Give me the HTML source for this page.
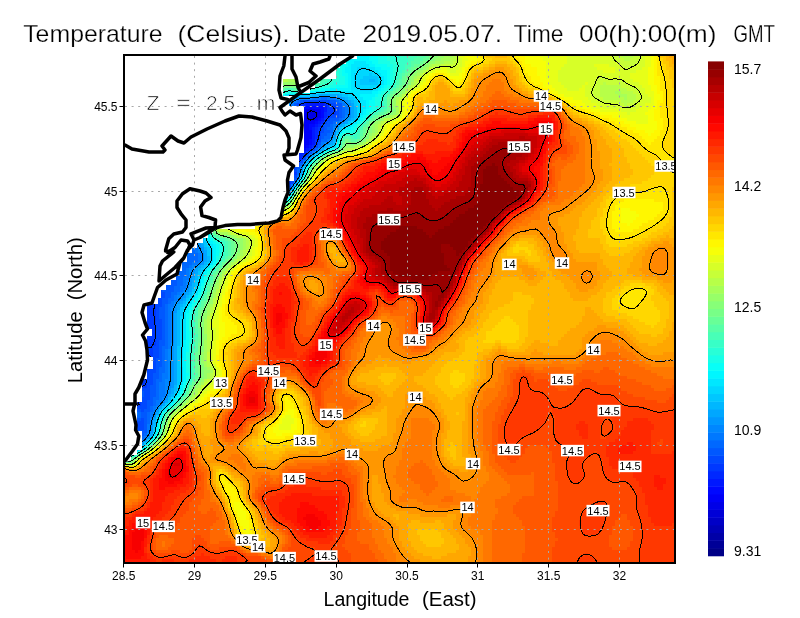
<!DOCTYPE html>
<html><head><meta charset="utf-8"><title>Temperature</title>
<style>
html,body{margin:0;padding:0;background:#fff}
svg{display:block;font-family:"Liberation Sans",sans-serif}
</style></head><body>
<svg width="800" height="618" viewBox="0 0 800 618">
<rect width="800" height="618" fill="#fff"/>
<defs><clipPath id="fr"><rect x="124" y="55" width="551" height="508"/></clipPath><clipPath id="sea"><path d="M357 55 L357 59 L346 59 L346 64 L340 64 L340 68 L336 68 L336 79 L320 79 L320 83 L315 83 L315 88 L310 88 L310 93 L298 93 L289 102 L289 106 L304 106 L304 153 L299 153 L299 167 L294 167 L294 181 L289 181 L289 197 L285 197 L285 206 L281 218 L276 222 L270 224 L262 225 L255 226 L255 229 L213 229 L213 233 L208 233 L208 238 L203 238 L203 243 L197 243 L197 248 L192 248 L192 253 L187 253 L187 262 L182 262 L182 271 L176 271 L176 280 L171 280 L171 285 L166 285 L166 290 L161 290 L161 298 L158 298 L158 304 L147 304 L147 329 L152 329 L152 336 L147 336 L147 357 L153 357 L153 369 L147 369 L147 379 L142 379 L142 402 L137 402 L137 431 L142 431 L142 450 L137 450 L137 455 L131 455 L131 460 L124 463 L124 564 L676 564 L676 55Z M283 79 L296 79 L296 84 L298 84 L298 96 L283 96Z"/></clipPath></defs>
<g clip-path="url(#sea)"><g shape-rendering="crispEdges"><g fill="none" stroke-width="3.3"><path stroke="#0000e7" d="M306 110.5h9M306 113.5h12M306 116.5h12M306 119.5h9"/><path stroke="#0000f7" d="M309 107.5h3M303 110.5h3M315 110.5h6M303 113.5h3M318 113.5h3M303 116.5h3M318 116.5h3M303 119.5h3M315 119.5h3M303 122.5h12M303 125.5h6M303 128.5h6M303 131.5h9M303 134.5h9M303 137.5h9M303 140.5h6M303 143.5h6M303 146.5h3"/><path stroke="#0008ff" d="M303 107.5h6M312 107.5h12M321 110.5h3M321 113.5h3M321 116.5h3M318 119.5h3M315 122.5h3M300 125.5h3M309 125.5h6M300 128.5h3M309 128.5h3M300 131.5h3M300 134.5h3M300 137.5h3M300 140.5h3M309 140.5h3M300 143.5h3M309 143.5h3M300 146.5h3M306 146.5h3M300 149.5h6"/><path stroke="#0018ff" d="M306 104.5h18M300 107.5h3M324 107.5h3M300 110.5h3M324 110.5h3M300 113.5h3M300 116.5h3M300 119.5h3M321 119.5h3M300 122.5h3M318 122.5h3M315 125.5h3M312 128.5h3M312 131.5h3M312 134.5h3M312 137.5h3M312 140.5h3M312 143.5h3M309 146.5h3M306 149.5h3M300 152.5h6"/><path stroke="#0028ff" d="M300 104.5h6M324 104.5h3M324 113.5h3M297 116.5h3M324 116.5h3M297 119.5h3M297 122.5h3M321 122.5h3M297 125.5h3M318 125.5h3M297 128.5h3M315 128.5h3M297 131.5h3M315 131.5h3M297 134.5h3M315 134.5h3M297 137.5h3M315 137.5h3M297 140.5h3M297 143.5h3M297 146.5h3M312 146.5h3M231 149.5h3M297 149.5h3M309 149.5h3M231 152.5h3M297 152.5h3M231 155.5h3M297 155.5h6M297 158.5h6"/><path stroke="#0038ff" d="M327 104.5h3M297 107.5h3M327 107.5h9M297 110.5h3M327 110.5h9M297 113.5h3M327 113.5h9M327 116.5h3M324 119.5h3M318 128.5h3M318 131.5h3M240 140.5h6M315 140.5h3M237 143.5h6M315 143.5h3M225 146.5h15M294 146.5h3M225 149.5h6M234 149.5h6M294 149.5h3M228 152.5h3M234 152.5h3M294 152.5h3M306 152.5h3M228 155.5h3M234 155.5h3M294 155.5h3M303 155.5h3M231 158.5h3M294 158.5h3M294 161.5h6M294 164.5h3M291 173.5h6M291 176.5h3M288 179.5h6M288 182.5h3M120 272.5h3M120 275.5h6M120 278.5h9M120 281.5h15M120 284.5h18M120 287.5h21M120 290.5h24M120 293.5h27M120 296.5h33M120 299.5h36M120 302.5h36M120 305.5h36M120 308.5h36M120 311.5h36M120 314.5h36M120 317.5h36M120 320.5h36M120 323.5h36M120 326.5h36M120 329.5h36M120 332.5h36M120 335.5h36M120 338.5h36M120 341.5h36M120 344.5h36M120 347.5h24M147 347.5h6M120 350.5h21M150 350.5h3M120 353.5h21M147 353.5h6M120 356.5h33M120 359.5h33M120 362.5h33M120 365.5h30M120 368.5h18M147 368.5h3M120 371.5h18M120 374.5h18M120 377.5h27M120 380.5h27M120 383.5h27M120 386.5h27M120 389.5h15M120 392.5h15M120 395.5h15M120 398.5h15M120 401.5h21M120 404.5h21M120 407.5h15M120 410.5h12M120 413.5h9M120 416.5h9M120 419.5h12M120 422.5h12M120 425.5h12M120 428.5h9M120 431.5h6"/><path stroke="#0048ff" d="M303 101.5h27M297 104.5h3M330 104.5h6M336 107.5h3M336 110.5h3M336 113.5h3M294 116.5h3M330 116.5h9M294 119.5h3M327 119.5h3M294 122.5h3M324 122.5h3M294 125.5h3M321 125.5h3M294 128.5h3M321 128.5h3M294 131.5h3M321 131.5h3M294 134.5h3M318 134.5h3M294 137.5h3M318 137.5h3M294 140.5h3M318 140.5h3M234 143.5h3M243 143.5h3M294 143.5h3M222 146.5h3M240 146.5h3M315 146.5h3M222 149.5h3M312 149.5h3M225 152.5h3M237 152.5h3M228 158.5h3M234 158.5h3M303 158.5h3M231 161.5h3M291 161.5h3M300 161.5h3M291 164.5h3M297 164.5h3M291 167.5h6M291 170.5h6M288 173.5h3M288 176.5h3M294 176.5h3M285 182.5h3M291 182.5h3M285 185.5h6M120 263.5h3M120 266.5h9M120 269.5h12M123 272.5h12M126 275.5h12M129 278.5h15M135 281.5h12M138 284.5h12M141 287.5h12M144 290.5h18M147 293.5h18M153 296.5h12M156 299.5h6M156 302.5h6M156 305.5h6M156 308.5h3M156 311.5h3M156 314.5h3M156 317.5h3M156 320.5h6M156 323.5h6M156 326.5h6M156 329.5h6M156 332.5h6M156 335.5h6M156 338.5h6M156 341.5h3M156 344.5h3M144 347.5h3M153 347.5h6M141 350.5h9M153 350.5h6M141 353.5h6M153 353.5h6M153 356.5h6M153 359.5h3M153 362.5h3M150 365.5h6M138 368.5h9M150 368.5h6M138 371.5h3M144 371.5h12M138 374.5h15M147 377.5h6M147 380.5h6M147 383.5h6M147 386.5h3M135 389.5h15M144 392.5h6M135 395.5h3M144 395.5h6M135 398.5h15M141 401.5h6M141 404.5h6M135 407.5h12M132 410.5h3M141 410.5h3M129 413.5h3M129 416.5h3M132 419.5h3M141 419.5h3M132 422.5h12M132 425.5h12M129 428.5h6M138 428.5h6M126 431.5h3M120 434.5h6"/><path stroke="#0058ff" d="M300 101.5h3M330 101.5h6M294 104.5h3M336 104.5h6M294 107.5h3M339 107.5h3M294 110.5h3M339 110.5h3M294 113.5h3M339 113.5h3M339 116.5h3M330 119.5h9M327 122.5h6M324 125.5h6M324 128.5h3M324 131.5h6M321 134.5h6M243 137.5h6M321 137.5h3M237 140.5h3M291 140.5h3M228 143.5h6M291 143.5h3M318 143.5h3M219 146.5h3M291 146.5h3M240 149.5h3M291 149.5h3M291 152.5h3M309 152.5h3M237 155.5h3M291 155.5h3M306 155.5h3M291 158.5h3M288 167.5h3M297 167.5h3M288 170.5h3M285 176.5h3M285 179.5h3M294 179.5h3M282 185.5h3M282 188.5h6M120 236.5h3M120 239.5h6M120 242.5h9M120 245.5h15M120 248.5h18M120 251.5h21M120 254.5h24M120 257.5h30M120 260.5h36M123 263.5h36M129 266.5h33M132 269.5h33M135 272.5h33M138 275.5h39M144 278.5h33M147 281.5h30M150 284.5h27M153 287.5h21M162 290.5h12M165 293.5h6M165 296.5h6M162 299.5h6M162 302.5h6M162 305.5h3M159 308.5h6M159 311.5h6M159 314.5h6M159 317.5h6M162 320.5h3M162 323.5h3M162 326.5h3M162 329.5h3M162 332.5h3M162 335.5h3M162 338.5h3M159 341.5h6M159 344.5h6M159 347.5h3M159 350.5h3M159 353.5h3M159 356.5h3M156 359.5h6M156 362.5h6M156 365.5h6M156 368.5h3M141 371.5h3M156 371.5h3M153 374.5h6M153 377.5h6M153 380.5h3M153 383.5h3M150 386.5h6M150 389.5h6M135 392.5h3M141 392.5h3M150 392.5h6M138 395.5h6M150 395.5h6M150 398.5h3M147 401.5h6M147 404.5h6M147 407.5h3M135 410.5h6M144 410.5h6M132 413.5h3M141 413.5h6M132 416.5h3M141 416.5h6M135 419.5h6M144 419.5h3M144 422.5h3M144 425.5h3M135 428.5h3M144 428.5h3M129 431.5h3M138 431.5h9M126 434.5h3M141 434.5h3M120 437.5h6"/><path stroke="#0068ff" d="M321 98.5h6M297 101.5h3M336 101.5h3M342 107.5h3M342 110.5h3M342 113.5h3M342 116.5h3M291 119.5h3M339 119.5h3M291 122.5h3M333 122.5h3M291 125.5h3M330 125.5h3M291 128.5h3M327 128.5h6M291 131.5h3M330 131.5h3M291 134.5h3M327 134.5h3M291 137.5h3M324 137.5h6M234 140.5h3M246 140.5h3M321 140.5h6M222 143.5h6M318 146.5h3M120 149.5h3M315 149.5h3M120 152.5h6M288 152.5h3M120 155.5h9M225 155.5h3M288 155.5h3M120 158.5h12M288 158.5h3M120 161.5h12M228 161.5h3M288 161.5h3M120 164.5h15M288 164.5h3M300 164.5h3M120 167.5h18M120 170.5h18M285 170.5h3M297 170.5h3M120 173.5h21M285 173.5h3M297 173.5h3M120 176.5h24M120 179.5h27M120 182.5h27M282 182.5h3M120 185.5h30M120 188.5h33M288 188.5h3M120 191.5h36M282 191.5h6M120 194.5h36M120 197.5h39M120 200.5h42M120 203.5h42M120 206.5h45M120 209.5h48M120 212.5h51M120 215.5h51M120 218.5h54M120 221.5h57M120 224.5h57M120 227.5h60M120 230.5h63M120 233.5h66M123 236.5h63M126 239.5h60M129 242.5h54M135 245.5h48M138 248.5h42M141 251.5h42M192 251.5h3M144 254.5h39M189 254.5h9M150 257.5h48M156 260.5h42M159 263.5h33M162 266.5h27M165 269.5h21M168 272.5h18M177 275.5h9M177 278.5h6M177 281.5h6M177 284.5h6M174 287.5h6M174 290.5h6M171 293.5h6M171 296.5h3M168 299.5h6M168 302.5h3M165 305.5h3M165 308.5h3M165 311.5h3M165 314.5h3M165 317.5h3M165 320.5h3M165 323.5h3M165 326.5h3M165 329.5h3M165 332.5h3M165 335.5h3M165 338.5h3M165 341.5h3M165 344.5h3M162 347.5h6M162 350.5h3M162 353.5h3M162 356.5h3M162 359.5h3M162 362.5h3M162 365.5h3M159 368.5h6M159 371.5h6M159 374.5h3M159 377.5h3M156 380.5h6M156 383.5h3M156 386.5h3M156 389.5h3M138 392.5h3M156 392.5h3M156 395.5h3M153 398.5h6M153 401.5h3M153 404.5h3M150 407.5h3M150 410.5h3M138 413.5h3M147 413.5h3M135 416.5h6M147 416.5h3M147 419.5h3M147 422.5h3M132 431.5h6M138 434.5h3M144 434.5h3M126 437.5h3M138 437.5h6"/><path stroke="#0078ff" d="M312 98.5h9M327 98.5h9M294 101.5h3M339 101.5h3M291 104.5h3M342 104.5h3M291 107.5h3M345 107.5h3M291 110.5h3M345 110.5h3M291 113.5h3M345 113.5h3M291 116.5h3M342 119.5h3M336 122.5h3M333 125.5h3M246 134.5h3M288 134.5h3M330 134.5h3M240 137.5h3M288 137.5h3M120 140.5h3M288 140.5h3M327 140.5h3M120 143.5h3M219 143.5h3M288 143.5h3M321 143.5h3M120 146.5h6M243 146.5h3M288 146.5h3M123 149.5h6M288 149.5h3M126 152.5h6M222 152.5h3M240 152.5h3M312 152.5h3M129 155.5h3M285 155.5h3M132 158.5h3M285 158.5h3M132 161.5h6M234 161.5h3M285 161.5h3M303 161.5h3M135 164.5h3M285 164.5h3M138 167.5h3M285 167.5h3M138 170.5h6M141 173.5h6M282 173.5h3M144 176.5h3M282 176.5h3M297 176.5h3M147 179.5h3M282 179.5h3M147 182.5h6M150 185.5h6M279 185.5h3M291 185.5h3M153 188.5h3M279 188.5h3M156 191.5h3M279 191.5h3M156 194.5h6M159 197.5h3M162 200.5h3M162 203.5h6M165 206.5h6M168 209.5h3M171 212.5h3M171 215.5h6M174 218.5h3M177 221.5h3M177 224.5h6M180 227.5h6M183 230.5h3M186 233.5h3M186 236.5h6M186 239.5h6M183 242.5h9M183 245.5h12M180 248.5h18M183 251.5h9M195 251.5h3M183 254.5h6M198 254.5h3M198 257.5h3M198 260.5h3M192 263.5h6M189 266.5h3M186 269.5h3M186 272.5h3M186 275.5h3M183 278.5h6M183 281.5h3M183 284.5h3M180 287.5h6M180 290.5h3M177 293.5h3M174 296.5h3M174 299.5h3M171 302.5h3M168 305.5h6M168 308.5h3M168 311.5h3M168 314.5h3M168 317.5h3M168 320.5h3M168 323.5h3M168 326.5h3M168 329.5h3M168 332.5h3M168 335.5h3M168 338.5h3M168 341.5h3M168 344.5h3M168 347.5h3M165 350.5h3M165 353.5h3M165 356.5h3M165 359.5h3M165 362.5h3M165 365.5h3M165 368.5h3M165 371.5h3M162 374.5h6M162 377.5h6M162 380.5h3M159 383.5h6M159 386.5h6M159 389.5h6M159 392.5h6M159 395.5h6M159 398.5h3M156 401.5h6M156 404.5h3M153 407.5h3M153 410.5h3M135 413.5h3M150 413.5h3M150 416.5h3M147 425.5h3M147 428.5h3M147 431.5h3M129 434.5h3M144 437.5h3M120 440.5h9M138 440.5h6"/><path stroke="#0087ff" d="M300 98.5h12M336 98.5h3M291 101.5h3M342 101.5h3M345 104.5h3M348 107.5h3M348 110.5h3M348 113.5h3M288 116.5h3M345 116.5h3M288 119.5h3M288 122.5h3M339 122.5h3M288 125.5h3M336 125.5h3M288 128.5h3M333 128.5h3M288 131.5h3M333 131.5h3M243 134.5h3M249 134.5h3M120 137.5h3M237 137.5h3M330 137.5h3M231 140.5h3M285 140.5h3M123 143.5h3M285 143.5h3M324 143.5h3M126 146.5h3M285 146.5h3M321 146.5h3M129 149.5h3M219 149.5h3M285 149.5h3M318 149.5h3M285 152.5h3M132 155.5h3M309 155.5h3M135 158.5h3M237 158.5h3M282 158.5h3M306 158.5h3M282 161.5h3M138 164.5h3M282 164.5h3M141 167.5h3M282 167.5h3M300 167.5h3M144 170.5h3M282 170.5h3M147 176.5h3M279 176.5h3M150 179.5h3M279 179.5h3M153 182.5h3M279 182.5h3M294 182.5h3M156 188.5h3M276 188.5h3M159 191.5h3M276 191.5h3M288 191.5h3M276 194.5h9M162 197.5h3M165 200.5h3M168 203.5h3M171 209.5h3M174 212.5h3M177 218.5h3M180 221.5h3M183 224.5h3M186 230.5h3M189 233.5h3M192 236.5h3M192 239.5h3M192 242.5h6M195 245.5h3M198 248.5h3M198 251.5h3M201 254.5h3M201 257.5h3M201 260.5h3M198 263.5h3M192 266.5h3M189 269.5h6M189 272.5h3M189 275.5h3M186 281.5h3M186 284.5h3M186 287.5h3M183 290.5h3M180 293.5h3M177 296.5h6M177 299.5h3M174 302.5h3M171 308.5h3M171 311.5h3M171 314.5h3M171 317.5h3M171 320.5h3M171 323.5h3M171 326.5h3M171 329.5h3M171 332.5h3M171 335.5h3M171 338.5h3M171 341.5h3M168 350.5h3M168 353.5h3M168 356.5h3M168 359.5h3M168 362.5h3M168 365.5h3M168 368.5h3M168 371.5h3M168 374.5h3M168 377.5h3M165 380.5h6M165 383.5h6M165 386.5h6M165 389.5h3M165 392.5h3M165 395.5h3M162 398.5h3M162 401.5h3M159 404.5h3M156 407.5h3M153 413.5h3M150 419.5h3M150 422.5h3M135 434.5h3M147 434.5h3M129 437.5h3M129 440.5h3M123 443.5h9M138 443.5h3"/><path stroke="#0097ff" d="M297 98.5h3M339 98.5h3M345 101.5h3M288 104.5h3M348 104.5h3M288 107.5h3M288 110.5h3M288 113.5h3M348 116.5h3M345 119.5h3M342 122.5h3M285 125.5h3M285 128.5h3M336 128.5h3M249 131.5h3M285 131.5h3M285 134.5h3M333 134.5h3M249 137.5h3M285 137.5h3M123 140.5h3M219 140.5h12M330 140.5h3M126 143.5h3M216 143.5h3M246 143.5h3M327 143.5h3M129 146.5h3M282 146.5h3M243 149.5h3M282 149.5h3M132 152.5h3M282 152.5h3M315 152.5h3M135 155.5h3M282 155.5h3M225 158.5h3M138 161.5h3M141 164.5h3M231 164.5h3M279 164.5h3M303 164.5h3M144 167.5h3M279 167.5h3M279 170.5h3M300 170.5h3M147 173.5h3M279 173.5h3M150 176.5h3M153 179.5h3M297 179.5h3M276 182.5h3M156 185.5h3M276 185.5h3M159 188.5h3M273 191.5h3M162 194.5h3M273 194.5h3M285 194.5h3M165 197.5h3M168 200.5h3M171 206.5h3M174 209.5h3M177 215.5h3M180 218.5h3M183 221.5h3M186 227.5h3M189 230.5h3M192 233.5h3M195 236.5h3M195 239.5h6M198 242.5h3M198 245.5h3M201 248.5h3M201 251.5h3M201 263.5h3M195 266.5h3M192 272.5h3M192 275.5h3M189 278.5h3M189 281.5h3M189 284.5h3M186 290.5h3M183 293.5h3M183 296.5h3M180 299.5h3M177 302.5h3M174 305.5h3M174 308.5h3M174 311.5h3M171 344.5h3M171 347.5h3M171 350.5h3M171 353.5h3M171 356.5h3M171 359.5h3M171 362.5h3M171 365.5h3M171 368.5h3M171 371.5h3M171 374.5h3M171 377.5h3M171 380.5h3M171 383.5h3M171 386.5h3M168 389.5h3M168 392.5h3M165 398.5h3M156 410.5h3M153 416.5h3M150 425.5h3M150 428.5h3M150 431.5h3M132 434.5h3M135 437.5h3M147 437.5h3M135 440.5h3M144 440.5h3M135 443.5h3M141 443.5h3M135 446.5h3"/><path stroke="#00a7ff" d="M318 95.5h21M291 98.5h6M342 98.5h3M288 101.5h3M348 101.5h3M351 104.5h3M351 107.5h3M285 110.5h3M351 110.5h3M285 113.5h3M351 113.5h3M285 116.5h3M351 116.5h3M285 119.5h3M348 119.5h3M285 122.5h3M345 122.5h3M339 125.5h3M246 131.5h3M282 131.5h3M120 134.5h3M240 134.5h3M282 134.5h3M123 137.5h3M234 137.5h3M282 137.5h3M333 137.5h3M282 140.5h3M282 143.5h3M330 143.5h3M324 146.5h3M132 149.5h3M279 149.5h3M321 149.5h3M279 152.5h3M240 155.5h3M279 155.5h3M312 155.5h3M138 158.5h3M279 158.5h3M279 161.5h3M306 161.5h3M234 164.5h3M276 167.5h3M147 170.5h3M276 170.5h3M276 173.5h3M300 173.5h3M276 176.5h3M276 179.5h3M156 182.5h3M273 185.5h3M273 188.5h3M291 188.5h3M162 191.5h3M273 197.5h9M171 203.5h3M177 212.5h3M186 224.5h3M195 233.5h6M198 236.5h3M201 245.5h3M204 251.5h3M204 254.5h3M204 257.5h3M204 260.5h3M198 266.5h3M195 269.5h3M195 272.5h3M192 278.5h3M192 281.5h3M189 287.5h3M189 290.5h3M186 293.5h3M183 299.5h3M180 302.5h3M177 305.5h3M177 308.5h3M174 314.5h3M174 317.5h3M174 320.5h3M174 323.5h3M174 326.5h3M174 329.5h3M174 332.5h3M174 335.5h3M174 338.5h3M174 341.5h3M174 344.5h3M174 347.5h3M174 350.5h3M174 353.5h3M174 356.5h3M174 359.5h3M174 362.5h3M174 365.5h3M174 368.5h3M174 371.5h3M174 374.5h3M174 377.5h3M174 380.5h3M174 383.5h3M171 389.5h3M171 392.5h3M168 395.5h3M165 401.5h3M162 404.5h3M159 407.5h3M156 413.5h3M153 419.5h3M150 434.5h3M132 437.5h3M132 440.5h3M120 443.5h3M132 443.5h3M126 446.5h9M138 446.5h3"/><path stroke="#00b7ff" d="M369 80.5h6M312 95.5h6M339 95.5h3M288 98.5h3M345 98.5h3M285 101.5h3M351 101.5h3M285 104.5h3M285 107.5h3M354 107.5h3M354 110.5h3M354 113.5h3M282 116.5h3M354 116.5h3M282 119.5h3M351 119.5h3M282 122.5h3M282 125.5h3M342 125.5h3M246 128.5h9M282 128.5h3M243 131.5h3M252 131.5h3M336 131.5h3M237 134.5h3M252 134.5h3M279 134.5h3M228 137.5h6M279 137.5h3M126 140.5h3M216 140.5h3M279 140.5h3M333 140.5h3M129 143.5h3M279 143.5h3M333 143.5h3M216 146.5h3M279 146.5h3M327 146.5h3M135 152.5h3M276 152.5h3M318 152.5h3M276 155.5h3M276 158.5h3M309 158.5h3M141 161.5h3M237 161.5h3M276 161.5h3M144 164.5h3M276 164.5h3M273 170.5h3M150 173.5h3M273 173.5h3M153 176.5h3M273 176.5h3M273 179.5h3M273 182.5h3M159 185.5h3M270 188.5h3M270 191.5h3M165 194.5h3M270 194.5h3M168 197.5h3M270 197.5h3M282 197.5h3M174 206.5h3M180 215.5h3M183 218.5h3M189 227.5h3M201 227.5h6M192 230.5h3M198 230.5h6M201 233.5h3M201 236.5h3M201 239.5h3M201 242.5h3M204 248.5h3M207 257.5h3M207 260.5h3M204 263.5h3M201 266.5h3M198 269.5h3M195 275.5h3M195 278.5h3M192 284.5h3M192 287.5h3M189 293.5h3M186 296.5h3M183 302.5h3M180 305.5h3M177 311.5h3M177 314.5h3M177 317.5h3M177 320.5h3M177 323.5h3M177 326.5h3M177 329.5h3M177 332.5h3M177 335.5h3M177 338.5h3M177 341.5h3M177 344.5h3M174 386.5h3M174 389.5h3M171 395.5h3M168 398.5h3M153 422.5h3M153 425.5h3M123 446.5h3"/><path stroke="#00c7ff" d="M369 74.5h3M363 77.5h15M360 80.5h9M375 80.5h3M360 83.5h18M300 95.5h12M342 95.5h6M285 98.5h3M348 98.5h6M144 101.5h120M354 101.5h3M153 104.5h108M282 104.5h3M354 104.5h3M159 107.5h102M282 107.5h3M168 110.5h90M282 110.5h3M174 113.5h84M282 113.5h3M180 116.5h75M186 119.5h69M279 119.5h3M354 119.5h3M192 122.5h63M279 122.5h3M348 122.5h3M198 125.5h57M279 125.5h3M204 128.5h42M279 128.5h3M339 128.5h3M210 131.5h33M279 131.5h3M123 134.5h3M213 134.5h24M336 134.5h3M126 137.5h3M216 137.5h12M249 140.5h3M276 140.5h3M276 143.5h3M132 146.5h3M246 146.5h3M276 146.5h3M330 146.5h3M135 149.5h3M276 149.5h3M324 149.5h3M243 152.5h3M138 155.5h3M222 155.5h3M141 158.5h3M273 158.5h3M273 161.5h3M273 164.5h3M147 167.5h3M273 167.5h3M303 167.5h3M150 170.5h3M270 176.5h3M300 176.5h3M156 179.5h3M270 179.5h3M159 182.5h3M270 182.5h3M270 185.5h3M294 185.5h3M162 188.5h3M165 191.5h3M267 191.5h3M267 194.5h3M288 194.5h3M267 197.5h3M285 197.5h3M171 200.5h3M267 200.5h12M174 203.5h3M177 209.5h3M180 212.5h3M186 221.5h3M189 224.5h3M201 224.5h9M198 227.5h3M195 230.5h3M204 230.5h3M204 233.5h3M204 242.5h3M204 245.5h3M207 248.5h3M207 251.5h3M207 254.5h3M207 263.5h3M204 266.5h3M201 269.5h3M198 272.5h3M198 275.5h3M195 281.5h3M195 284.5h3M192 290.5h3M189 296.5h3M186 299.5h3M183 305.5h3M180 308.5h3M180 311.5h3M180 314.5h3M177 347.5h3M177 350.5h3M177 353.5h3M177 356.5h3M177 359.5h3M177 362.5h3M177 365.5h3M177 368.5h3M177 371.5h3M177 374.5h3M177 377.5h3M177 380.5h3M177 383.5h3M174 392.5h3M168 401.5h3M165 404.5h3M162 407.5h3M159 410.5h3M156 416.5h3M153 428.5h3M153 431.5h3M150 437.5h3M147 440.5h3M144 443.5h3M120 446.5h3M141 446.5h3M123 449.5h15"/><path stroke="#00d7ff" d="M357 68.5h9M357 71.5h15M354 74.5h15M372 74.5h6M354 77.5h9M378 77.5h3M354 80.5h6M378 80.5h3M354 83.5h6M378 83.5h3M354 86.5h24M360 89.5h12M321 92.5h21M123 95.5h147M288 95.5h3M294 95.5h6M348 95.5h6M123 98.5h147M354 98.5h3M129 101.5h15M264 101.5h3M282 101.5h3M357 101.5h3M135 104.5h18M261 104.5h6M357 104.5h3M150 107.5h9M261 107.5h3M357 107.5h3M159 110.5h9M258 110.5h6M279 110.5h3M357 110.5h3M165 113.5h9M258 113.5h3M279 113.5h3M357 113.5h3M171 116.5h9M255 116.5h6M279 116.5h3M357 116.5h3M177 119.5h9M255 119.5h3M183 122.5h9M351 122.5h3M189 125.5h9M276 125.5h3M345 125.5h3M195 128.5h9M276 128.5h3M120 131.5h6M201 131.5h9M276 131.5h3M339 131.5h3M126 134.5h3M207 134.5h6M276 134.5h3M213 137.5h3M276 137.5h3M129 140.5h3M213 140.5h3M132 143.5h3M273 143.5h3M135 146.5h3M273 146.5h3M333 146.5h3M273 149.5h3M138 152.5h3M219 152.5h3M273 152.5h3M141 155.5h3M273 155.5h3M315 155.5h3M240 158.5h3M144 161.5h3M270 161.5h3M147 164.5h3M228 164.5h3M270 164.5h3M306 164.5h3M150 167.5h3M270 167.5h3M270 170.5h3M153 173.5h3M270 173.5h3M156 176.5h3M159 179.5h3M267 179.5h3M267 182.5h3M297 182.5h3M162 185.5h3M267 185.5h3M165 188.5h3M267 188.5h3M291 191.5h3M168 194.5h3M171 197.5h3M264 197.5h3M174 200.5h3M264 200.5h3M279 200.5h3M177 206.5h3M180 209.5h3M183 215.5h3M186 218.5h3M210 218.5h3M189 221.5h3M204 221.5h6M198 224.5h3M192 227.5h6M207 227.5h3M204 236.5h3M204 239.5h3M207 245.5h3M210 251.5h3M210 254.5h3M210 257.5h3M210 260.5h3M201 272.5h3M198 278.5h3M195 287.5h3M195 290.5h3M192 293.5h3M189 299.5h3M186 302.5h3M183 308.5h3M180 317.5h3M180 320.5h3M180 323.5h3M180 326.5h3M180 329.5h3M180 332.5h3M180 335.5h3M180 338.5h3M180 341.5h3M180 344.5h3M180 347.5h3M180 350.5h3M180 353.5h3M180 356.5h3M180 368.5h3M180 371.5h3M180 374.5h3M180 377.5h3M180 380.5h3M177 386.5h3M177 389.5h3M174 395.5h3M171 398.5h3M159 413.5h3M156 419.5h3M120 449.5h3M138 449.5h3M120 452.5h3"/><path stroke="#00e7ff" d="M354 62.5h12M351 65.5h18M351 68.5h6M366 68.5h9M351 71.5h6M372 71.5h6M351 74.5h3M378 74.5h3M351 77.5h3M381 77.5h3M351 80.5h3M381 80.5h3M351 83.5h3M381 83.5h3M351 86.5h3M378 86.5h3M351 89.5h9M372 89.5h6M315 92.5h6M342 92.5h30M120 95.5h3M270 95.5h3M285 95.5h3M291 95.5h3M354 95.5h6M120 98.5h3M282 98.5h3M357 98.5h6M120 101.5h9M267 101.5h3M360 101.5h6M120 104.5h15M279 104.5h3M360 104.5h6M120 107.5h18M147 107.5h3M264 107.5h3M279 107.5h3M360 107.5h6M120 110.5h15M153 110.5h6M360 110.5h3M120 113.5h15M162 113.5h3M261 113.5h3M276 113.5h3M360 113.5h3M120 116.5h15M168 116.5h3M276 116.5h3M120 119.5h18M174 119.5h3M258 119.5h3M276 119.5h3M357 119.5h3M120 122.5h18M180 122.5h3M255 122.5h3M276 122.5h3M354 122.5h3M120 125.5h21M186 125.5h3M255 125.5h3M273 125.5h3M348 125.5h3M120 128.5h21M192 128.5h3M255 128.5h3M273 128.5h3M342 128.5h3M126 131.5h18M198 131.5h3M273 131.5h3M129 134.5h15M204 134.5h3M273 134.5h3M129 137.5h18M210 137.5h3M252 137.5h3M273 137.5h3M336 137.5h3M132 140.5h15M273 140.5h3M336 140.5h3M135 143.5h15M138 146.5h15M270 146.5h3M138 149.5h15M270 149.5h3M327 149.5h3M141 152.5h15M270 152.5h3M321 152.5h3M144 155.5h12M243 155.5h3M270 155.5h3M144 158.5h15M270 158.5h3M312 158.5h3M147 161.5h12M225 161.5h3M309 161.5h3M150 164.5h12M237 164.5h3M267 164.5h3M153 167.5h12M267 167.5h3M153 170.5h12M267 170.5h3M303 170.5h3M156 173.5h12M267 173.5h3M159 176.5h9M267 176.5h3M162 179.5h9M162 182.5h9M264 182.5h3M165 185.5h9M264 185.5h3M168 188.5h9M264 188.5h3M168 191.5h9M264 191.5h3M171 194.5h9M264 194.5h3M174 197.5h9M177 200.5h6M282 200.5h3M177 203.5h9M264 203.5h12M180 206.5h6M183 209.5h6M183 212.5h6M213 212.5h3M186 215.5h6M210 215.5h6M189 218.5h3M207 218.5h3M192 221.5h12M210 221.5h3M192 224.5h6M207 230.5h3M207 242.5h3M210 245.5h3M210 248.5h3M210 263.5h3M207 266.5h3M204 269.5h3M201 275.5h3M198 281.5h3M198 284.5h3M195 293.5h3M192 296.5h3M189 302.5h3M186 305.5h3M183 311.5h3M183 314.5h3M183 317.5h3M183 320.5h3M183 323.5h3M183 326.5h3M183 329.5h3M183 332.5h3M183 335.5h3M183 338.5h3M180 359.5h3M180 362.5h3M180 365.5h3M180 383.5h3M177 392.5h3M171 401.5h3M168 404.5h3M165 407.5h3M162 410.5h3M156 422.5h3M153 434.5h3M123 452.5h6M120 455.5h6"/><path stroke="#00f7ff" d="M339 53.5h30M348 56.5h21M348 59.5h21M348 62.5h6M366 62.5h6M348 65.5h3M369 65.5h6M345 68.5h6M375 68.5h6M345 71.5h6M378 71.5h9M348 74.5h3M381 74.5h6M348 77.5h3M384 77.5h3M348 80.5h3M384 80.5h3M348 83.5h3M384 83.5h3M348 86.5h3M381 86.5h3M330 89.5h21M378 89.5h3M120 92.5h153M309 92.5h6M372 92.5h6M360 95.5h15M270 98.5h3M363 98.5h9M366 101.5h3M267 104.5h3M366 104.5h3M138 107.5h9M366 107.5h3M135 110.5h3M150 110.5h3M264 110.5h3M276 110.5h3M363 110.5h3M135 113.5h3M159 113.5h3M363 113.5h3M135 116.5h6M165 116.5h3M261 116.5h3M273 116.5h3M360 116.5h3M138 119.5h3M171 119.5h3M273 119.5h3M138 122.5h6M177 122.5h3M273 122.5h3M141 125.5h3M183 125.5h3M270 125.5h3M351 125.5h3M141 128.5h6M189 128.5h3M270 128.5h3M345 128.5h6M144 131.5h3M195 131.5h3M255 131.5h3M270 131.5h3M144 134.5h6M201 134.5h3M270 134.5h3M147 137.5h3M207 137.5h3M270 137.5h3M147 140.5h6M270 140.5h3M150 143.5h6M213 143.5h3M249 143.5h3M270 143.5h3M336 143.5h3M153 146.5h3M153 149.5h6M216 149.5h3M246 149.5h3M267 149.5h3M156 152.5h3M267 152.5h3M156 155.5h6M267 155.5h3M159 158.5h3M267 158.5h3M159 161.5h6M267 161.5h3M162 164.5h6M165 167.5h3M234 167.5h3M264 167.5h3M165 170.5h6M264 170.5h3M168 173.5h3M264 173.5h3M303 173.5h3M168 176.5h6M264 176.5h3M171 179.5h3M264 179.5h3M300 179.5h3M171 182.5h6M174 185.5h3M261 185.5h3M177 188.5h3M261 188.5h3M177 191.5h6M261 191.5h3M180 194.5h3M261 194.5h3M183 197.5h3M261 197.5h3M183 200.5h3M261 200.5h3M186 203.5h3M219 203.5h3M261 203.5h3M276 203.5h3M186 206.5h3M216 206.5h3M189 209.5h3M216 209.5h3M189 212.5h3M216 212.5h3M192 215.5h3M192 218.5h6M213 218.5h3M210 224.5h3M207 233.5h3M207 236.5h3M207 239.5h3M210 242.5h3M213 245.5h3M213 248.5h3M213 251.5h3M213 254.5h3M213 257.5h3M213 260.5h3M204 272.5h3M201 278.5h3M201 281.5h3M198 287.5h3M198 290.5h3M195 296.5h3M192 299.5h3M189 305.5h3M186 308.5h3M186 311.5h3M183 341.5h3M183 344.5h3M183 347.5h3M183 350.5h3M183 353.5h3M183 356.5h3M183 359.5h3M183 362.5h3M183 365.5h3M183 368.5h3M183 371.5h3M183 374.5h3M183 377.5h3M183 380.5h3M180 386.5h3M180 389.5h3M177 395.5h3M174 398.5h3M159 416.5h3M156 425.5h3M156 428.5h3M144 446.5h3M129 452.5h9"/><path stroke="#08fff7" d="M324 53.5h15M369 53.5h9M324 56.5h24M369 56.5h9M333 59.5h15M369 59.5h9M342 62.5h6M372 62.5h6M342 65.5h6M375 65.5h12M342 68.5h3M381 68.5h9M342 71.5h3M387 71.5h3M342 74.5h6M387 74.5h3M345 77.5h3M387 77.5h3M345 80.5h3M387 80.5h3M345 83.5h3M387 83.5h3M336 86.5h12M384 86.5h3M321 89.5h9M381 89.5h3M303 92.5h6M378 92.5h3M273 95.5h3M282 95.5h3M375 95.5h3M372 98.5h3M270 101.5h3M279 101.5h3M369 101.5h6M369 104.5h6M276 107.5h3M369 107.5h3M138 110.5h3M366 110.5h6M138 113.5h3M273 113.5h3M366 113.5h3M363 116.5h3M141 119.5h3M261 119.5h3M270 119.5h3M360 119.5h3M258 122.5h3M270 122.5h3M357 122.5h3M144 125.5h3M354 125.5h3M267 128.5h3M351 128.5h3M147 131.5h3M267 131.5h3M342 131.5h3M255 134.5h3M267 134.5h3M339 134.5h3M150 137.5h3M267 137.5h3M252 140.5h3M267 140.5h3M267 143.5h3M156 146.5h3M267 146.5h3M336 146.5h3M330 149.5h3M159 152.5h3M246 152.5h3M264 155.5h3M318 155.5h3M162 158.5h3M243 158.5h3M264 158.5h3M240 161.5h3M264 161.5h3M264 164.5h3M168 167.5h3M237 167.5h3M306 167.5h3M171 173.5h3M261 173.5h3M261 176.5h3M174 179.5h3M261 179.5h3M261 182.5h3M177 185.5h3M294 188.5h3M258 191.5h3M183 194.5h3M258 194.5h3M222 197.5h3M258 197.5h3M288 197.5h3M186 200.5h3M219 200.5h6M258 200.5h3M285 200.5h3M216 203.5h3M258 203.5h3M279 203.5h3M189 206.5h3M219 206.5h3M261 206.5h12M213 209.5h3M192 212.5h3M210 212.5h3M198 218.5h3M204 218.5h3M210 239.5h3M213 242.5h3M216 245.5h3M216 248.5h3M216 251.5h3M216 254.5h3M213 263.5h3M210 266.5h3M207 269.5h3M204 275.5h3M201 284.5h3M198 293.5h3M195 299.5h3M192 302.5h3M189 308.5h3M186 314.5h3M186 317.5h3M186 320.5h3M186 323.5h3M186 326.5h3M186 329.5h3M186 332.5h3M186 335.5h3M186 338.5h3M186 341.5h3M186 344.5h3M186 347.5h3M186 350.5h3M186 374.5h3M183 383.5h3M180 392.5h3M171 404.5h3M159 419.5h3M156 431.5h3M153 437.5h3M150 440.5h3M147 443.5h3M141 449.5h3M126 455.5h3M120 458.5h6"/><path stroke="#18ffe7" d="M318 53.5h6M378 53.5h9M321 56.5h3M378 56.5h9M321 59.5h12M378 59.5h9M324 62.5h18M378 62.5h12M336 65.5h6M387 65.5h6M339 68.5h3M390 68.5h3M339 71.5h3M390 71.5h3M339 74.5h3M390 74.5h3M339 77.5h6M390 77.5h3M339 80.5h6M390 80.5h3M333 83.5h12M390 83.5h3M330 86.5h6M387 86.5h3M315 89.5h6M384 89.5h3M273 92.5h3M285 92.5h18M381 92.5h3M378 95.5h3M273 98.5h3M279 98.5h3M375 98.5h6M375 101.5h6M276 104.5h3M375 104.5h6M267 107.5h3M372 107.5h6M141 110.5h3M147 110.5h3M273 110.5h3M372 110.5h3M156 113.5h3M264 113.5h3M141 116.5h3M270 116.5h3M363 119.5h3M144 122.5h3M267 122.5h3M360 122.5h3M258 125.5h3M267 125.5h3M147 128.5h3M264 128.5h3M354 128.5h3M264 131.5h3M345 131.5h9M150 134.5h3M261 134.5h6M255 137.5h3M261 137.5h6M339 137.5h3M153 140.5h3M210 140.5h3M261 140.5h6M156 143.5h3M261 143.5h6M249 146.5h3M264 146.5h3M159 149.5h3M264 149.5h3M333 149.5h3M264 152.5h3M324 152.5h3M162 155.5h3M246 155.5h3M261 158.5h3M315 158.5h3M165 161.5h3M243 161.5h3M261 161.5h3M168 164.5h3M240 164.5h3M261 164.5h3M309 164.5h3M231 167.5h3M240 167.5h3M261 167.5h3M171 170.5h3M261 170.5h3M174 176.5h3M258 176.5h3M303 176.5h3M258 179.5h3M177 182.5h3M231 182.5h3M258 182.5h3M228 185.5h6M258 185.5h3M180 188.5h3M228 188.5h3M258 188.5h3M183 191.5h3M225 191.5h6M222 194.5h6M255 194.5h3M291 194.5h3M186 197.5h3M219 197.5h3M225 197.5h3M255 197.5h3M255 200.5h3M189 203.5h3M222 203.5h3M255 203.5h3M258 206.5h3M273 206.5h3M192 209.5h3M219 209.5h3M195 215.5h3M207 215.5h3M216 215.5h3M201 218.5h3M213 221.5h3M210 227.5h3M216 242.5h3M219 245.5h3M219 248.5h3M219 251.5h3M216 257.5h3M216 260.5h3M207 272.5h3M204 278.5h3M204 281.5h3M201 287.5h3M201 290.5h3M198 296.5h3M195 302.5h3M192 305.5h3M189 311.5h3M189 314.5h3M189 317.5h3M189 332.5h3M189 335.5h3M189 338.5h3M189 341.5h3M186 353.5h3M186 356.5h3M186 359.5h3M186 362.5h3M186 365.5h3M186 368.5h3M186 371.5h3M186 377.5h3M186 380.5h3M183 386.5h3M177 398.5h3M174 401.5h3M168 407.5h3M165 410.5h3M162 413.5h3M159 422.5h3M156 434.5h3"/><path stroke="#28ffd7" d="M315 53.5h3M387 53.5h15M318 56.5h3M387 56.5h12M318 59.5h3M387 59.5h9M321 62.5h3M390 62.5h6M327 65.5h9M393 65.5h6M333 68.5h6M393 68.5h6M333 71.5h6M393 71.5h3M333 74.5h6M393 74.5h3M333 77.5h6M393 77.5h3M333 80.5h6M393 80.5h3M330 83.5h3M321 86.5h9M390 86.5h3M120 89.5h150M309 89.5h6M387 89.5h3M282 92.5h3M384 92.5h3M276 95.5h6M381 95.5h3M276 98.5h3M273 101.5h6M270 104.5h3M381 104.5h3M273 107.5h3M378 107.5h3M144 110.5h3M267 110.5h3M375 110.5h3M141 113.5h3M270 113.5h3M369 113.5h3M162 116.5h3M264 116.5h3M366 116.5h3M168 119.5h3M264 119.5h6M174 122.5h3M261 122.5h6M180 125.5h3M264 125.5h3M357 125.5h3M186 128.5h3M258 128.5h3M192 131.5h3M258 131.5h6M354 131.5h3M198 134.5h3M258 134.5h3M342 134.5h3M351 134.5h3M204 137.5h3M258 137.5h3M255 140.5h6M339 140.5h3M252 143.5h9M252 146.5h12M249 149.5h15M249 152.5h15M249 155.5h6M261 155.5h3M222 158.5h3M246 158.5h6M246 161.5h3M258 161.5h3M312 161.5h3M243 164.5h3M258 164.5h3M243 167.5h3M258 167.5h3M234 170.5h9M258 170.5h3M306 170.5h3M237 173.5h6M258 173.5h3M234 176.5h6M231 179.5h6M255 179.5h3M228 182.5h3M234 182.5h3M255 182.5h3M255 185.5h3M297 185.5h3M225 188.5h3M231 188.5h3M255 188.5h3M255 191.5h3M228 194.5h3M252 197.5h3M225 200.5h3M252 200.5h3M252 203.5h3M282 203.5h3M213 206.5h3M222 206.5h3M255 206.5h3M276 206.5h3M255 209.5h15M219 212.5h3M210 230.5h3M210 236.5h3M213 239.5h3M219 242.5h3M222 248.5h3M219 254.5h3M219 257.5h3M216 263.5h3M213 266.5h3M210 269.5h3M207 275.5h3M207 278.5h3M204 284.5h3M201 293.5h3M198 299.5h3M195 305.5h3M192 308.5h3M192 311.5h3M189 320.5h3M189 323.5h3M189 326.5h3M189 329.5h3M189 344.5h3M189 347.5h3M189 350.5h3M189 353.5h3M189 356.5h3M189 359.5h3M189 365.5h3M189 368.5h3M189 371.5h3M189 374.5h3M189 377.5h3M186 383.5h3M183 389.5h3M180 395.5h3M162 416.5h3M159 425.5h3M129 455.5h6M126 458.5h3"/><path stroke="#38ffc7" d="M402 53.5h6M315 56.5h3M399 56.5h9M315 59.5h3M396 59.5h12M318 62.5h3M396 62.5h12M321 65.5h6M399 65.5h6M327 68.5h6M399 68.5h6M327 71.5h6M396 71.5h6M327 74.5h6M396 74.5h3M327 77.5h6M396 77.5h3M327 80.5h6M324 83.5h6M393 83.5h3M315 86.5h6M393 86.5h3M270 89.5h6M303 89.5h6M390 89.5h3M276 92.5h3M387 92.5h3M384 95.5h3M381 98.5h3M381 101.5h3M273 104.5h3M270 107.5h3M381 107.5h3M270 110.5h3M378 110.5h3M153 113.5h3M267 113.5h3M372 113.5h3M267 116.5h3M369 116.5h3M144 119.5h3M366 119.5h3M363 122.5h3M147 125.5h3M261 125.5h3M360 125.5h3M261 128.5h3M357 128.5h3M150 131.5h3M357 131.5h3M345 134.5h6M354 134.5h3M153 137.5h3M354 137.5h3M339 143.5h3M159 146.5h3M213 146.5h3M336 149.5h3M162 152.5h3M327 152.5h3M255 155.5h6M321 155.5h3M165 158.5h3M252 158.5h9M249 161.5h3M255 161.5h3M246 164.5h3M255 164.5h3M171 167.5h3M246 167.5h3M255 167.5h3M243 170.5h3M255 170.5h3M174 173.5h3M234 173.5h3M255 173.5h3M240 176.5h3M255 176.5h3M177 179.5h3M237 179.5h3M252 182.5h3M300 182.5h3M180 185.5h3M234 185.5h3M252 185.5h3M252 188.5h3M222 191.5h3M231 191.5h3M252 191.5h3M186 194.5h3M252 194.5h3M228 197.5h3M189 200.5h3M216 200.5h3M288 200.5h3M249 203.5h3M192 206.5h3M252 206.5h3M210 209.5h3M252 209.5h3M270 209.5h3M195 212.5h3M216 218.5h3M213 224.5h3M210 233.5h3M216 239.5h3M222 242.5h3M222 245.5h3M222 251.5h3M222 254.5h3M222 257.5h3M219 260.5h3M213 269.5h3M210 272.5h3M207 281.5h3M204 287.5h3M204 290.5h3M201 296.5h3M198 302.5h3M195 308.5h3M192 314.5h3M192 317.5h3M192 320.5h3M192 323.5h3M192 326.5h3M192 329.5h3M192 332.5h3M192 335.5h3M192 338.5h3M192 341.5h3M192 344.5h3M192 347.5h3M189 362.5h3M189 380.5h3M186 386.5h3M183 392.5h3M177 401.5h3M174 404.5h3M171 407.5h3M159 428.5h3M153 440.5h3M150 443.5h3M138 452.5h3"/><path stroke="#48ffb7" d="M312 53.5h3M408 53.5h12M312 56.5h3M408 56.5h9M408 59.5h6M315 62.5h3M408 62.5h3M315 65.5h6M405 65.5h6M321 68.5h6M405 68.5h3M324 71.5h3M402 71.5h3M324 74.5h3M399 74.5h3M324 77.5h3M399 77.5h3M321 80.5h6M396 80.5h3M318 83.5h6M396 83.5h3M312 86.5h3M276 89.5h3M285 89.5h9M297 89.5h6M279 92.5h3M384 98.5h3M384 101.5h3M384 104.5h3M384 107.5h3M381 110.5h3M144 113.5h3M150 113.5h3M375 113.5h3M144 116.5h3M159 116.5h3M165 119.5h3M171 122.5h3M177 125.5h3M183 128.5h3M360 128.5h3M189 131.5h3M195 134.5h3M357 134.5h3M201 137.5h3M342 137.5h3M351 137.5h3M357 137.5h3M207 140.5h3M339 146.5h3M219 155.5h3M318 158.5h3M252 161.5h3M225 164.5h3M249 164.5h6M249 167.5h6M309 167.5h3M246 170.5h3M252 170.5h3M243 173.5h3M252 173.5h3M306 173.5h3M231 176.5h3M252 176.5h3M228 179.5h3M240 179.5h3M252 179.5h3M303 179.5h3M237 182.5h3M225 185.5h3M234 188.5h3M249 188.5h3M249 191.5h3M294 191.5h3M219 194.5h3M249 194.5h3M249 197.5h3M249 200.5h3M225 203.5h3M285 203.5h3M249 206.5h3M279 206.5h3M222 209.5h3M249 209.5h3M207 212.5h3M249 212.5h15M198 215.5h3M219 215.5h3M213 236.5h3M219 239.5h6M225 242.5h3M225 245.5h3M225 248.5h3M225 251.5h3M225 254.5h3M222 260.5h3M219 263.5h3M216 266.5h3M210 275.5h3M210 278.5h3M207 284.5h3M204 293.5h3M201 299.5h3M198 305.5h3M195 311.5h3M195 314.5h3M195 335.5h3M192 350.5h3M192 353.5h3M192 356.5h3M192 359.5h3M192 362.5h3M192 365.5h3M192 368.5h3M192 371.5h3M192 374.5h3M192 377.5h3M189 383.5h3M186 389.5h3M183 395.5h3M180 398.5h3M168 410.5h3M165 413.5h3M162 419.5h3M159 431.5h3M156 437.5h3M147 446.5h3M144 449.5h3M135 455.5h3M129 458.5h3"/><path stroke="#58ffa7" d="M420 53.5h9M417 56.5h9M312 59.5h3M414 59.5h9M312 62.5h3M411 62.5h9M312 65.5h3M411 65.5h3M312 68.5h9M408 68.5h3M318 71.5h6M405 71.5h3M318 74.5h6M402 74.5h3M318 77.5h6M318 80.5h3M399 80.5h3M312 83.5h6M399 83.5h3M306 86.5h6M396 86.5h3M279 89.5h6M294 89.5h3M393 89.5h3M390 92.5h3M387 95.5h3M384 110.5h3M147 113.5h3M378 113.5h6M372 116.5h3M369 119.5h3M147 122.5h3M366 122.5h3M363 125.5h3M360 131.5h3M360 134.5h3M345 137.5h6M156 140.5h3M342 140.5h3M351 140.5h6M216 152.5h3M330 152.5h3M324 155.5h3M168 161.5h3M315 161.5h3M312 164.5h3M249 170.5h3M246 173.5h6M243 176.5h3M249 176.5h3M249 179.5h3M249 182.5h3M237 185.5h3M249 185.5h3M183 188.5h3M246 191.5h3M231 194.5h3M246 194.5h3M246 197.5h3M291 197.5h3M228 200.5h3M246 200.5h3M213 203.5h3M246 203.5h3M225 206.5h3M246 206.5h3M246 209.5h3M273 209.5h3M246 212.5h3M264 212.5h3M204 215.5h3M216 221.5h3M213 227.5h3M216 236.5h3M225 239.5h3M228 242.5h3M228 245.5h3M228 248.5h3M228 251.5h3M228 254.5h3M225 257.5h3M219 266.5h3M216 269.5h3M213 272.5h3M210 281.5h3M207 287.5h3M207 290.5h3M204 296.5h3M204 299.5h3M201 302.5h3M201 305.5h3M198 308.5h3M195 317.5h3M195 320.5h3M195 323.5h3M195 326.5h3M195 329.5h3M195 332.5h3M195 338.5h3M195 341.5h3M195 344.5h3M195 347.5h3M195 350.5h3M195 374.5h3M192 380.5h3M186 392.5h3M162 422.5h3M159 434.5h3M126 461.5h3"/><path stroke="#68ff97" d="M309 53.5h3M426 56.5h3M423 59.5h6M420 62.5h3M414 65.5h6M411 68.5h3M312 71.5h6M408 71.5h3M315 74.5h3M405 74.5h3M315 77.5h3M402 77.5h3M312 80.5h6M402 80.5h3M309 83.5h3M402 83.5h3M120 86.5h156M300 86.5h6M399 86.5h3M396 89.5h3M393 92.5h3M390 95.5h3M387 98.5h3M387 101.5h3M387 104.5h3M387 107.5h3M387 110.5h3M384 113.5h3M375 116.5h3M372 119.5h3M366 125.5h3M150 128.5h3M363 128.5h3M363 131.5h3M153 134.5h3M360 137.5h3M348 140.5h3M357 140.5h3M159 143.5h3M210 143.5h3M342 143.5h3M162 149.5h3M339 149.5h3M333 152.5h3M165 155.5h3M171 164.5h3M228 167.5h3M174 170.5h3M231 170.5h3M309 170.5h3M231 173.5h3M177 176.5h3M246 176.5h3M306 176.5h3M243 179.5h6M180 182.5h3M225 182.5h3M240 182.5h9M246 185.5h3M222 188.5h3M237 188.5h3M246 188.5h3M297 188.5h3M186 191.5h3M234 191.5h3M243 194.5h3M189 197.5h3M216 197.5h3M231 197.5h3M243 197.5h3M243 200.5h3M192 203.5h3M243 203.5h3M243 206.5h3M282 206.5h3M195 209.5h3M243 209.5h3M276 209.5h3M222 212.5h3M243 212.5h3M267 212.5h3M201 215.5h3M246 215.5h15M213 233.5h3M219 236.5h3M228 239.5h3M231 242.5h3M231 245.5h3M231 248.5h3M231 251.5h3M231 254.5h3M228 257.5h3M225 260.5h3M222 263.5h3M216 272.5h3M213 275.5h3M213 278.5h3M210 284.5h3M207 293.5h3M204 302.5h3M201 308.5h3M198 311.5h3M198 314.5h3M198 317.5h3M198 329.5h3M198 332.5h3M198 335.5h3M198 338.5h3M198 341.5h3M195 353.5h3M195 356.5h3M195 359.5h3M195 362.5h3M195 365.5h3M195 368.5h3M195 371.5h3M195 377.5h3M195 380.5h3M192 383.5h3M189 386.5h3M189 389.5h3M186 395.5h3M183 398.5h3M180 401.5h3M177 404.5h3M174 407.5h3M171 410.5h3M165 416.5h3M162 425.5h3M141 452.5h3M132 458.5h3M120 461.5h6"/><path stroke="#78ff87" d="M429 53.5h6M309 56.5h3M429 56.5h3M309 59.5h3M429 59.5h3M309 62.5h3M423 62.5h3M309 65.5h3M420 65.5h3M309 68.5h3M414 68.5h6M309 71.5h3M411 71.5h3M309 74.5h6M408 74.5h3M309 77.5h6M405 77.5h3M309 80.5h3M405 80.5h3M303 83.5h6M405 83.5h3M276 86.5h24M402 86.5h3M399 89.5h3M396 92.5h3M390 98.5h3M390 107.5h3M390 110.5h3M387 113.5h3M156 116.5h3M378 116.5h3M375 119.5h3M369 122.5h3M366 128.5h3M363 134.5h3M363 137.5h3M204 140.5h3M345 140.5h3M360 140.5h3M351 143.5h6M342 146.5h3M321 158.5h3M222 161.5h3M228 176.5h3M240 185.5h6M300 185.5h3M240 188.5h6M237 191.5h9M234 194.5h3M294 194.5h3M240 197.5h3M240 200.5h3M228 203.5h3M240 203.5h3M288 203.5h3M210 206.5h3M240 206.5h3M225 209.5h3M240 209.5h3M240 212.5h3M270 212.5h3M240 215.5h6M261 215.5h3M219 218.5h3M216 224.5h3M213 230.5h3M222 236.5h6M231 239.5h3M234 242.5h3M234 245.5h3M234 248.5h3M234 251.5h3M231 257.5h3M228 260.5h3M225 263.5h3M222 266.5h3M219 269.5h3M216 275.5h3M213 281.5h3M210 287.5h3M210 290.5h3M207 296.5h3M207 299.5h3M204 305.5h3M201 311.5h3M198 320.5h3M198 323.5h3M198 326.5h3M198 344.5h3M198 347.5h3M198 350.5h3M198 353.5h3M198 356.5h3M198 359.5h3M198 362.5h3M198 365.5h3M198 368.5h3M198 371.5h3M198 374.5h3M198 377.5h3M192 386.5h3M189 392.5h3M168 413.5h3M165 419.5h3M162 428.5h3M156 440.5h3M153 443.5h3M129 461.5h3"/><path stroke="#87ff78" d="M435 53.5h6M432 56.5h6M432 59.5h3M426 62.5h3M423 65.5h3M420 68.5h3M414 71.5h3M306 74.5h3M411 74.5h3M306 77.5h3M408 77.5h3M303 80.5h6M408 80.5h3M297 83.5h6M408 83.5h3M405 86.5h3M402 89.5h3M399 92.5h3M393 95.5h6M390 101.5h3M390 104.5h3M393 110.5h3M390 113.5h3M147 116.5h3M381 116.5h6M147 119.5h3M162 119.5h3M378 119.5h3M168 122.5h3M372 122.5h3M150 125.5h3M174 125.5h3M369 125.5h3M180 128.5h3M369 128.5h3M153 131.5h3M186 131.5h3M366 131.5h6M192 134.5h3M366 134.5h3M156 137.5h3M198 137.5h3M366 137.5h3M363 140.5h3M345 143.5h6M357 143.5h3M162 146.5h3M213 149.5h3M165 152.5h3M336 152.5h3M327 155.5h3M168 158.5h3M318 161.5h3M315 164.5h3M174 167.5h3M312 167.5h3M177 173.5h3M309 173.5h3M180 179.5h3M306 179.5h3M303 182.5h3M183 185.5h3M222 185.5h3M219 191.5h3M189 194.5h3M237 194.5h6M234 197.5h6M192 200.5h3M213 200.5h3M231 200.5h3M237 200.5h3M291 200.5h3M237 203.5h3M195 206.5h3M228 206.5h3M237 206.5h3M237 209.5h3M279 209.5h3M198 212.5h3M237 212.5h3M222 215.5h3M237 215.5h3M264 215.5h3M240 218.5h15M216 233.5h3M228 236.5h3M234 239.5h3M237 242.5h3M237 245.5h3M237 248.5h3M237 251.5h3M234 254.5h3M234 257.5h3M231 260.5h3M219 272.5h3M216 278.5h3M213 284.5h3M210 293.5h3M210 296.5h3M207 302.5h3M204 308.5h3M204 311.5h3M201 314.5h3M201 317.5h3M201 320.5h3M201 323.5h3M201 326.5h3M201 329.5h3M201 332.5h3M201 335.5h3M201 338.5h3M201 341.5h3M201 344.5h3M201 347.5h3M201 350.5h3M201 365.5h3M201 368.5h3M201 371.5h3M201 374.5h3M201 377.5h3M198 380.5h3M195 383.5h3M192 389.5h3M189 395.5h3M186 398.5h3M183 401.5h3M180 404.5h3M177 407.5h3M168 416.5h3M165 422.5h3M162 431.5h3M159 437.5h3M150 446.5h3M147 449.5h3M138 455.5h3"/><path stroke="#97ff68" d="M306 53.5h3M441 53.5h6M306 56.5h3M438 56.5h6M306 59.5h3M435 59.5h6M306 62.5h3M429 62.5h6M306 65.5h3M426 65.5h3M306 68.5h3M423 68.5h3M306 71.5h3M417 71.5h3M414 74.5h3M303 77.5h3M411 77.5h3M297 80.5h6M411 80.5h3M120 83.5h159M282 83.5h15M402 92.5h3M399 95.5h3M393 98.5h3M393 101.5h3M393 104.5h3M393 107.5h3M393 113.5h3M153 116.5h3M387 116.5h3M381 119.5h3M375 122.5h3M372 125.5h3M372 128.5h3M372 131.5h3M369 134.5h3M159 140.5h3M360 143.5h3M345 146.5h9M342 149.5h3M171 161.5h3M225 179.5h3M186 188.5h3M216 194.5h3M234 200.5h3M231 203.5h6M234 206.5h3M285 206.5h3M207 209.5h3M234 209.5h3M225 212.5h3M234 212.5h3M273 212.5h3M234 215.5h3M267 215.5h3M234 218.5h6M255 218.5h6M219 221.5h3M216 227.5h3M231 236.5h3M237 239.5h6M240 242.5h3M240 245.5h3M240 248.5h3M237 254.5h3M228 263.5h3M225 266.5h3M222 269.5h3M219 275.5h3M216 281.5h3M213 287.5h3M213 290.5h3M210 299.5h3M210 302.5h3M207 305.5h3M207 308.5h3M204 314.5h3M204 317.5h3M204 335.5h3M204 338.5h3M201 353.5h3M201 356.5h3M201 359.5h3M201 362.5h3M204 368.5h3M204 371.5h6M204 374.5h3M204 377.5h3M201 380.5h3M198 383.5h3M195 386.5h3M192 392.5h3M174 410.5h3M171 413.5h3M165 425.5h3M162 434.5h3M135 458.5h3M132 461.5h3"/><path stroke="#a7ff58" d="M447 53.5h6M444 56.5h9M441 59.5h9M435 62.5h9M429 65.5h3M426 68.5h3M303 71.5h3M420 71.5h3M300 74.5h6M417 74.5h3M297 77.5h6M414 77.5h3M288 80.5h9M279 83.5h3M411 83.5h3M408 86.5h3M405 89.5h3M615 92.5h6M618 95.5h9M396 98.5h3M624 98.5h3M396 107.5h3M396 110.5h3M396 113.5h3M150 116.5h3M390 116.5h3M159 119.5h3M165 122.5h3M378 122.5h3M171 125.5h3M375 125.5h3M177 128.5h3M375 128.5h3M183 131.5h3M375 131.5h3M189 134.5h3M372 134.5h3M195 137.5h3M369 137.5h3M201 140.5h3M366 140.5h3M207 143.5h3M363 143.5h3M210 146.5h3M354 146.5h3M345 149.5h3M339 152.5h3M330 155.5h3M219 158.5h3M324 158.5h3M321 161.5h3M312 170.5h3M228 173.5h3M309 176.5h3M297 191.5h3M210 203.5h3M231 206.5h3M228 209.5h6M204 212.5h3M228 212.5h6M225 215.5h3M231 215.5h3M222 218.5h3M231 218.5h3M261 218.5h3M234 221.5h15M216 230.5h3M219 233.5h9M234 236.5h3M243 239.5h3M243 242.5h3M243 245.5h3M243 248.5h3M240 251.5h3M240 254.5h3M237 257.5h3M234 260.5h3M231 263.5h3M228 266.5h3M225 269.5h3M222 272.5h3M219 278.5h3M216 284.5h3M216 287.5h3M213 293.5h3M213 296.5h3M210 305.5h3M207 311.5h3M207 314.5h3M204 320.5h3M204 323.5h3M204 326.5h3M204 329.5h3M204 332.5h3M204 341.5h3M204 344.5h3M204 347.5h3M204 350.5h3M204 353.5h3M204 356.5h3M204 359.5h3M204 362.5h3M204 365.5h3M207 368.5h3M210 371.5h3M207 374.5h3M207 377.5h3M201 383.5h3M198 386.5h3M195 389.5h3M195 392.5h3M192 395.5h3M189 398.5h3M186 401.5h3M183 404.5h3M180 407.5h3M168 419.5h3M165 428.5h3M144 452.5h3"/><path stroke="#b7ff48" d="M120 53.5h186M453 53.5h3M621 53.5h15M120 56.5h186M453 56.5h3M621 56.5h12M120 59.5h186M450 59.5h6M624 59.5h6M120 62.5h186M444 62.5h9M120 65.5h186M432 65.5h9M120 68.5h186M120 71.5h183M423 71.5h3M120 74.5h180M420 74.5h3M120 77.5h177M417 77.5h3M120 80.5h168M414 80.5h3M414 83.5h3M603 83.5h3M411 86.5h3M600 86.5h21M408 89.5h3M600 89.5h27M405 92.5h3M600 92.5h15M621 92.5h12M402 95.5h3M600 95.5h18M627 95.5h9M399 98.5h3M603 98.5h21M627 98.5h9M396 101.5h3M621 101.5h12M396 104.5h3M624 104.5h3M393 116.5h3M384 119.5h6M150 122.5h3M381 122.5h3M378 125.5h3M153 128.5h3M378 128.5h3M156 134.5h3M375 134.5h3M372 137.5h3M369 140.5h3M162 143.5h3M357 146.5h3M165 149.5h3M348 149.5h6M168 155.5h3M216 155.5h3M333 155.5h3M174 164.5h3M222 164.5h3M318 164.5h3M225 167.5h3M315 167.5h3M177 170.5h3M228 170.5h3M180 176.5h3M225 176.5h3M183 182.5h3M222 182.5h3M219 188.5h3M189 191.5h3M192 197.5h3M213 197.5h3M294 197.5h3M195 203.5h3M288 206.5h3M198 209.5h3M282 209.5h3M201 212.5h3M276 212.5h3M228 215.5h3M270 215.5h3M225 218.5h6M264 218.5h3M222 221.5h3M228 221.5h6M249 221.5h9M219 224.5h3M228 233.5h3M237 236.5h6M246 239.5h3M246 242.5h3M246 245.5h3M246 248.5h3M243 251.5h3M243 254.5h3M240 257.5h3M237 260.5h3M234 263.5h3M222 275.5h3M219 281.5h3M219 284.5h3M216 290.5h3M216 293.5h3M213 299.5h3M213 302.5h3M210 308.5h3M210 311.5h3M207 317.5h3M207 320.5h3M207 323.5h3M207 326.5h3M207 329.5h3M207 332.5h3M207 335.5h3M207 338.5h3M207 341.5h3M207 344.5h3M207 347.5h3M207 350.5h3M207 362.5h3M207 365.5h3M210 368.5h3M210 374.5h3M210 377.5h3M204 380.5h3M198 389.5h3M195 395.5h3M192 398.5h3M177 410.5h3M174 413.5h3M171 416.5h3M168 422.5h3M165 431.5h3M159 440.5h3M156 443.5h3M153 446.5h3M129 464.5h3"/><path stroke="#c7ff38" d="M456 53.5h3M612 53.5h9M636 53.5h6M456 56.5h3M612 56.5h9M633 56.5h9M456 59.5h3M612 59.5h12M630 59.5h9M453 62.5h6M618 62.5h21M441 65.5h15M621 65.5h15M429 68.5h6M624 68.5h6M426 71.5h3M597 77.5h9M417 80.5h3M597 80.5h27M417 83.5h3M594 83.5h9M606 83.5h21M414 86.5h3M594 86.5h6M621 86.5h12M591 89.5h9M627 89.5h12M591 92.5h9M633 92.5h6M591 95.5h9M636 95.5h6M402 98.5h3M594 98.5h9M636 98.5h6M399 101.5h3M600 101.5h21M633 101.5h6M399 104.5h3M618 104.5h6M627 104.5h9M399 107.5h3M624 107.5h6M399 110.5h3M399 113.5h3M396 116.5h3M150 119.5h3M156 119.5h3M390 119.5h3M384 122.5h3M381 125.5h3M378 131.5h3M159 137.5h3M375 137.5h3M366 143.5h3M360 146.5h3M354 149.5h3M213 152.5h3M342 152.5h3M336 155.5h3M171 158.5h3M327 158.5h3M312 173.5h3M306 182.5h3M186 185.5h3M303 185.5h3M300 188.5h3M216 191.5h3M291 203.5h3M207 206.5h3M225 221.5h3M258 221.5h3M222 224.5h21M219 227.5h3M219 230.5h9M231 233.5h6M243 236.5h6M249 239.5h3M249 242.5h3M249 245.5h3M249 248.5h3M246 251.5h3M246 254.5h3M243 257.5h3M240 260.5h3M231 266.5h3M228 269.5h3M225 272.5h3M222 278.5h3M222 281.5h3M219 287.5h3M219 290.5h3M216 296.5h3M216 299.5h3M213 305.5h3M213 308.5h3M213 311.5h3M210 314.5h3M210 317.5h3M210 320.5h3M210 329.5h3M210 332.5h3M210 335.5h3M210 338.5h3M210 341.5h3M210 344.5h3M207 353.5h3M207 356.5h3M207 359.5h3M210 365.5h3M213 368.5h3M213 371.5h3M213 374.5h3M207 380.5h6M204 383.5h6M201 386.5h6M201 389.5h3M198 392.5h3M189 401.5h3M186 404.5h3M183 407.5h3M168 425.5h3M162 437.5h3M150 449.5h3M141 455.5h3M126 464.5h3"/><path stroke="#d7ff28" d="M567 53.5h15M588 53.5h24M642 53.5h3M567 56.5h45M642 56.5h3M459 59.5h3M567 59.5h45M639 59.5h6M459 62.5h3M567 62.5h51M639 62.5h6M456 65.5h6M564 65.5h30M609 65.5h12M636 65.5h9M435 68.5h6M447 68.5h12M561 68.5h36M615 68.5h9M630 68.5h12M429 71.5h3M450 71.5h6M558 71.5h45M615 71.5h21M423 74.5h3M558 74.5h72M420 77.5h3M558 77.5h39M606 77.5h24M420 80.5h3M558 80.5h39M624 80.5h9M561 83.5h24M588 83.5h6M627 83.5h12M417 86.5h3M564 86.5h18M585 86.5h9M633 86.5h9M411 89.5h3M567 89.5h12M585 89.5h6M639 89.5h6M408 92.5h3M585 92.5h6M639 92.5h6M405 95.5h3M585 95.5h6M642 95.5h6M588 98.5h6M642 98.5h9M591 101.5h9M639 101.5h12M597 104.5h21M636 104.5h9M603 107.5h21M630 107.5h9M621 110.5h15M627 113.5h3M399 116.5h3M153 119.5h3M393 119.5h3M162 122.5h3M387 122.5h3M153 125.5h3M168 125.5h3M174 128.5h3M381 128.5h3M156 131.5h3M180 131.5h3M381 131.5h3M186 134.5h3M378 134.5h3M192 137.5h3M162 140.5h3M198 140.5h3M372 140.5h3M204 143.5h3M369 143.5h3M165 146.5h3M363 146.5h3M210 149.5h3M357 149.5h3M168 152.5h3M345 152.5h9M174 161.5h3M219 161.5h3M324 161.5h3M321 164.5h3M177 167.5h3M318 167.5h3M315 170.5h3M180 173.5h3M225 173.5h3M183 179.5h3M222 179.5h3M309 179.5h3M219 185.5h3M189 188.5h3M192 194.5h3M213 194.5h3M297 194.5h3M195 200.5h3M210 200.5h3M198 206.5h3M204 209.5h3M285 209.5h3M279 212.5h3M273 215.5h3M267 218.5h3M243 224.5h12M222 227.5h15M228 230.5h6M237 233.5h3M249 236.5h3M252 239.5h3M252 242.5h3M252 245.5h3M249 251.5h3M249 254.5h3M246 257.5h3M243 260.5h3M237 263.5h3M234 266.5h3M231 269.5h3M228 272.5h3M225 275.5h3M225 278.5h3M222 284.5h3M222 287.5h3M219 293.5h3M219 296.5h3M216 302.5h3M216 305.5h3M216 308.5h3M213 314.5h3M213 317.5h3M210 323.5h3M210 326.5h3M213 329.5h3M213 332.5h3M213 335.5h3M213 338.5h3M210 347.5h3M210 350.5h3M210 353.5h3M210 356.5h3M210 359.5h3M210 362.5h3M213 365.5h3M216 371.5h3M216 374.5h3M213 377.5h3M213 380.5h3M210 383.5h3M207 386.5h3M204 389.5h3M201 392.5h3M198 395.5h3M195 398.5h3M192 401.5h3M180 410.5h3M177 413.5h3M174 416.5h3M171 419.5h3M168 428.5h3M165 434.5h3M147 452.5h3M138 458.5h3M135 461.5h3M132 464.5h3"/><path stroke="#e7ff18" d="M459 53.5h3M540 53.5h27M582 53.5h6M645 53.5h9M459 56.5h6M540 56.5h27M645 56.5h6M462 59.5h6M543 59.5h24M645 59.5h6M462 62.5h3M546 62.5h21M645 62.5h6M462 65.5h3M546 65.5h18M594 65.5h15M645 65.5h6M441 68.5h6M459 68.5h3M546 68.5h15M597 68.5h18M642 68.5h6M432 71.5h3M447 71.5h3M456 71.5h6M546 71.5h12M603 71.5h12M636 71.5h12M426 74.5h3M450 74.5h9M546 74.5h12M630 74.5h18M423 77.5h3M546 77.5h12M630 77.5h18M423 80.5h3M549 80.5h9M633 80.5h15M420 83.5h3M549 83.5h12M585 83.5h3M639 83.5h9M552 86.5h12M582 86.5h3M642 86.5h9M414 89.5h3M555 89.5h12M579 89.5h6M645 89.5h6M558 92.5h27M645 92.5h9M564 95.5h21M648 95.5h6M405 98.5h3M573 98.5h15M651 98.5h3M402 101.5h3M582 101.5h9M651 101.5h3M402 104.5h3M585 104.5h12M645 104.5h9M402 107.5h3M591 107.5h12M639 107.5h12M402 110.5h3M600 110.5h21M636 110.5h12M402 113.5h3M618 113.5h9M630 113.5h15M621 116.5h27M396 119.5h3M627 119.5h21M153 122.5h3M159 122.5h3M390 122.5h3M636 122.5h12M165 125.5h3M384 125.5h3M156 128.5h3M171 128.5h3M384 128.5h3M177 131.5h3M159 134.5h3M183 134.5h3M381 134.5h3M189 137.5h3M378 137.5h3M195 140.5h3M375 140.5h3M165 143.5h3M201 143.5h3M207 146.5h3M366 146.5h3M168 149.5h3M360 149.5h3M354 152.5h3M171 155.5h3M213 155.5h3M339 155.5h3M216 158.5h3M330 158.5h3M177 164.5h3M219 164.5h3M222 167.5h3M180 170.5h3M225 170.5h3M183 176.5h3M222 176.5h3M312 176.5h3M186 182.5h3M219 182.5h3M216 188.5h3M192 191.5h3M195 197.5h3M210 197.5h3M294 200.5h3M198 203.5h3M207 203.5h3M204 206.5h3M291 206.5h3M201 209.5h3M261 221.5h3M255 224.5h3M237 227.5h6M234 230.5h3M240 233.5h9M252 236.5h3M255 239.5h3M255 242.5h3M255 245.5h3M252 248.5h3M252 251.5h3M252 254.5h3M249 257.5h3M246 260.5h3M240 263.5h3M228 275.5h3M225 281.5h3M225 284.5h3M222 290.5h3M222 293.5h3M219 299.5h3M219 302.5h3M219 305.5h3M216 311.5h3M216 314.5h3M216 317.5h3M213 320.5h6M213 323.5h6M213 326.5h6M216 329.5h3M216 332.5h3M216 335.5h3M216 338.5h3M213 341.5h3M213 344.5h3M213 347.5h3M213 350.5h3M213 353.5h3M213 356.5h3M213 359.5h3M213 362.5h3M216 368.5h3M219 371.5h3M219 374.5h3M216 377.5h3M216 380.5h3M213 383.5h3M210 386.5h6M207 389.5h3M204 392.5h3M201 395.5h3M198 398.5h3M195 401.5h3M189 404.5h3M186 407.5h3M285 416.5h6M282 419.5h12M171 422.5h3M282 422.5h12M279 425.5h12M279 428.5h12M168 431.5h3M162 440.5h3M159 443.5h3"/><path stroke="#f7ff08" d="M462 53.5h15M522 53.5h18M465 56.5h12M525 56.5h15M651 56.5h3M468 59.5h9M525 59.5h18M651 59.5h3M465 62.5h6M525 62.5h21M651 62.5h3M465 65.5h3M531 65.5h15M651 65.5h3M462 68.5h3M537 68.5h9M648 68.5h6M435 71.5h12M462 71.5h3M537 71.5h9M648 71.5h6M429 74.5h3M447 74.5h3M459 74.5h3M537 74.5h9M648 74.5h6M426 77.5h3M450 77.5h12M540 77.5h6M648 77.5h6M456 80.5h3M540 80.5h9M648 80.5h6M423 83.5h3M543 83.5h6M648 83.5h6M420 86.5h3M543 86.5h9M651 86.5h6M417 89.5h3M549 89.5h6M651 89.5h6M411 92.5h3M552 92.5h6M654 92.5h3M408 95.5h3M558 95.5h6M654 95.5h6M564 98.5h9M654 98.5h6M405 101.5h3M570 101.5h12M654 101.5h3M405 104.5h3M576 104.5h9M654 104.5h3M405 107.5h3M582 107.5h9M651 107.5h6M405 110.5h3M591 110.5h9M648 110.5h6M600 113.5h18M645 113.5h9M402 116.5h3M612 116.5h9M648 116.5h6M399 119.5h3M618 119.5h9M648 119.5h6M156 122.5h3M393 122.5h3M624 122.5h12M648 122.5h9M156 125.5h9M387 125.5h3M630 125.5h27M159 128.5h12M387 128.5h3M636 128.5h21M159 131.5h18M384 131.5h3M645 131.5h9M162 134.5h21M648 134.5h3M162 137.5h27M165 140.5h30M168 143.5h33M372 143.5h3M168 146.5h39M171 149.5h39M363 149.5h3M171 152.5h42M357 152.5h3M174 155.5h39M342 155.5h3M174 158.5h42M333 158.5h3M177 161.5h42M327 161.5h3M180 164.5h39M324 164.5h3M180 167.5h42M321 167.5h3M183 170.5h42M318 170.5h3M183 173.5h42M315 173.5h3M186 176.5h36M186 179.5h36M189 182.5h30M189 185.5h30M192 188.5h24M195 191.5h21M300 191.5h3M195 194.5h18M198 197.5h12M198 200.5h12M201 203.5h6M201 206.5h3M288 209.5h3M621 209.5h9M282 212.5h3M621 212.5h15M276 215.5h3M621 215.5h18M270 218.5h3M621 218.5h15M264 221.5h3M621 221.5h12M258 224.5h3M627 224.5h3M243 227.5h12M237 230.5h9M249 233.5h6M255 236.5h3M255 248.5h3M255 251.5h3M255 254.5h3M252 257.5h3M249 260.5h3M243 263.5h3M237 266.5h3M234 269.5h3M231 272.5h3M228 278.5h3M228 281.5h3M225 287.5h3M225 290.5h3M222 296.5h3M222 299.5h3M222 302.5h3M219 308.5h3M219 311.5h3M219 314.5h3M219 317.5h3M219 320.5h3M219 323.5h6M219 326.5h6M219 329.5h6M219 332.5h6M219 335.5h6M219 338.5h3M216 341.5h3M216 344.5h3M216 347.5h3M216 350.5h3M216 353.5h3M216 362.5h3M216 365.5h3M219 368.5h3M219 377.5h3M219 380.5h3M216 383.5h3M216 386.5h3M210 389.5h6M207 392.5h3M204 395.5h3M201 398.5h3M198 401.5h3M192 404.5h3M189 407.5h3M183 410.5h3M288 410.5h6M180 413.5h3M285 413.5h9M177 416.5h3M282 416.5h3M291 416.5h3M174 419.5h3M279 419.5h3M294 419.5h3M279 422.5h3M294 422.5h3M171 425.5h3M276 425.5h3M291 425.5h6M273 428.5h6M291 428.5h6M273 431.5h21M276 434.5h6M165 437.5h3M156 446.5h3M153 449.5h3M144 455.5h3M123 464.5h3M234 503.5h6M234 506.5h6M234 509.5h9M237 512.5h9M237 515.5h9M240 518.5h6M240 521.5h9M240 524.5h9M243 527.5h6M243 530.5h6M246 533.5h3"/><path stroke="#fff700" d="M477 53.5h3M513 53.5h9M654 53.5h3M477 56.5h3M516 56.5h9M654 56.5h3M477 59.5h6M519 59.5h6M654 59.5h3M471 62.5h6M522 62.5h3M654 62.5h3M468 65.5h3M522 65.5h9M654 65.5h3M465 68.5h3M525 68.5h12M654 68.5h3M525 71.5h12M654 71.5h3M432 74.5h3M444 74.5h3M462 74.5h3M528 74.5h9M654 74.5h3M429 77.5h3M447 77.5h3M462 77.5h3M531 77.5h9M654 77.5h6M426 80.5h3M453 80.5h3M459 80.5h3M531 80.5h9M654 80.5h6M426 83.5h3M456 83.5h3M534 83.5h9M654 83.5h6M423 86.5h3M540 86.5h3M657 86.5h3M420 89.5h3M543 89.5h6M657 89.5h3M414 92.5h3M549 92.5h3M657 92.5h6M411 95.5h3M555 95.5h3M660 95.5h3M408 98.5h3M561 98.5h3M660 98.5h3M408 101.5h3M567 101.5h3M657 101.5h6M408 104.5h3M570 104.5h6M657 104.5h3M408 107.5h3M576 107.5h6M657 107.5h3M408 110.5h3M585 110.5h6M654 110.5h6M405 113.5h3M594 113.5h6M654 113.5h6M600 116.5h12M654 116.5h6M609 119.5h9M654 119.5h9M396 122.5h3M615 122.5h9M657 122.5h6M390 125.5h3M621 125.5h9M657 125.5h6M627 128.5h9M657 128.5h6M387 131.5h3M633 131.5h12M654 131.5h6M384 134.5h3M639 134.5h9M651 134.5h9M381 137.5h3M642 137.5h15M378 140.5h3M645 140.5h9M375 143.5h3M648 143.5h3M369 146.5h3M366 149.5h3M360 152.5h3M345 155.5h9M336 158.5h3M312 179.5h3M309 182.5h3M306 185.5h3M303 188.5h3M297 197.5h3M624 200.5h30M294 203.5h3M618 203.5h45M615 206.5h48M615 209.5h6M630 209.5h33M285 212.5h3M612 212.5h9M636 212.5h24M612 215.5h9M639 215.5h18M612 218.5h9M636 218.5h18M612 221.5h9M633 221.5h15M612 224.5h15M630 224.5h12M255 227.5h3M612 227.5h27M246 230.5h9M615 230.5h18M255 233.5h3M258 236.5h3M258 239.5h3M258 242.5h3M258 245.5h3M258 248.5h3M258 251.5h3M258 254.5h3M255 257.5h3M252 260.5h3M246 263.5h3M240 266.5h3M237 269.5h3M234 272.5h3M231 275.5h3M231 278.5h3M228 284.5h3M228 287.5h3M225 293.5h3M225 296.5h3M225 299.5h3M225 302.5h3M222 305.5h3M222 308.5h3M222 311.5h3M222 314.5h3M222 317.5h6M222 320.5h9M225 323.5h9M225 326.5h12M225 329.5h12M225 332.5h12M225 335.5h6M222 338.5h6M219 341.5h6M219 344.5h3M219 347.5h3M216 356.5h3M216 359.5h3M219 362.5h3M219 365.5h3M222 371.5h3M222 374.5h3M222 377.5h3M222 380.5h3M219 383.5h3M219 386.5h3M216 389.5h3M210 392.5h6M207 395.5h3M204 398.5h3M285 398.5h3M201 401.5h3M285 401.5h6M195 404.5h3M285 404.5h9M192 407.5h3M285 407.5h9M186 410.5h3M285 410.5h3M294 410.5h3M282 413.5h3M294 413.5h3M279 416.5h3M294 416.5h3M297 419.5h3M174 422.5h3M276 422.5h3M297 422.5h3M273 425.5h3M297 425.5h3M171 428.5h3M267 428.5h6M297 428.5h3M267 431.5h6M294 431.5h6M168 434.5h3M267 434.5h9M282 434.5h15M267 437.5h18M150 452.5h3M135 464.5h3M222 479.5h3M222 482.5h6M225 485.5h6M225 488.5h9M225 491.5h12M228 494.5h9M231 497.5h6M231 500.5h9M231 503.5h3M240 503.5h3M231 506.5h3M240 506.5h3M243 509.5h3M234 512.5h3M246 512.5h3M246 515.5h3M237 518.5h3M246 518.5h3M237 521.5h3M249 521.5h3M249 524.5h3M240 527.5h3M249 527.5h3M240 530.5h3M249 530.5h3M243 533.5h3M249 533.5h3M243 536.5h9"/><path stroke="#ffe700" d="M480 53.5h3M480 56.5h3M513 56.5h3M657 56.5h3M483 59.5h3M513 59.5h6M657 59.5h3M477 62.5h6M519 62.5h3M657 62.5h3M471 65.5h3M519 65.5h3M657 65.5h3M468 68.5h3M522 68.5h3M657 68.5h6M465 71.5h3M522 71.5h3M657 71.5h6M435 74.5h9M465 74.5h3M522 74.5h6M657 74.5h6M432 77.5h3M525 77.5h6M660 77.5h6M429 80.5h3M450 80.5h3M462 80.5h3M525 80.5h6M660 80.5h6M453 83.5h3M459 83.5h6M528 83.5h6M660 83.5h6M426 86.5h3M456 86.5h6M534 86.5h6M660 86.5h6M423 89.5h3M540 89.5h3M660 89.5h6M417 92.5h3M546 92.5h3M663 92.5h3M552 95.5h3M663 95.5h3M411 98.5h3M558 98.5h3M663 98.5h3M411 101.5h3M564 101.5h3M663 101.5h3M411 104.5h3M567 104.5h3M660 104.5h6M411 107.5h3M570 107.5h6M660 107.5h6M576 110.5h9M660 110.5h9M585 113.5h9M660 113.5h9M405 116.5h3M594 116.5h6M660 116.5h9M402 119.5h3M600 119.5h9M663 119.5h6M606 122.5h9M663 122.5h6M393 125.5h3M612 125.5h9M663 125.5h6M390 128.5h3M618 128.5h9M663 128.5h6M621 131.5h12M660 131.5h6M627 134.5h12M660 134.5h6M384 137.5h3M633 137.5h9M657 137.5h9M381 140.5h3M636 140.5h9M654 140.5h9M639 143.5h9M651 143.5h12M372 146.5h3M642 146.5h21M645 149.5h18M363 152.5h3M651 152.5h15M354 155.5h3M657 155.5h15M339 158.5h3M660 158.5h24M330 161.5h3M660 161.5h24M327 164.5h3M663 164.5h21M324 167.5h3M666 167.5h18M321 170.5h3M669 170.5h15M318 173.5h3M672 173.5h12M315 176.5h3M678 176.5h6M681 179.5h3M651 188.5h15M645 191.5h21M621 194.5h48M615 197.5h54M612 200.5h12M654 200.5h15M612 203.5h6M663 203.5h6M609 206.5h6M663 206.5h6M291 209.5h3M609 209.5h6M663 209.5h6M288 212.5h3M609 212.5h3M660 212.5h9M279 215.5h3M606 215.5h6M657 215.5h9M273 218.5h3M606 218.5h6M654 218.5h9M267 221.5h3M606 221.5h6M648 221.5h12M261 224.5h3M606 224.5h6M642 224.5h15M606 227.5h6M639 227.5h12M255 230.5h3M606 230.5h9M633 230.5h12M258 233.5h3M609 233.5h33M609 236.5h27M615 239.5h9M258 257.5h3M255 260.5h3M249 263.5h6M243 266.5h3M240 269.5h3M237 272.5h3M234 275.5h3M231 281.5h3M231 284.5h3M639 287.5h3M228 290.5h3M630 290.5h18M228 293.5h3M624 293.5h24M228 296.5h3M621 296.5h24M228 299.5h3M618 299.5h24M618 302.5h24M225 305.5h3M621 305.5h18M225 308.5h3M630 308.5h6M225 311.5h3M225 314.5h6M228 317.5h6M231 320.5h9M234 323.5h9M237 326.5h6M237 329.5h9M237 332.5h9M231 335.5h12M228 338.5h9M225 341.5h6M222 344.5h3M222 347.5h3M219 350.5h3M219 353.5h3M219 356.5h3M219 359.5h3M222 362.5h3M222 365.5h3M222 368.5h3M225 371.5h3M225 374.5h3M225 377.5h3M222 383.5h3M219 389.5h3M216 392.5h3M210 395.5h6M282 395.5h9M207 398.5h6M282 398.5h3M288 398.5h6M204 401.5h6M282 401.5h3M291 401.5h6M198 404.5h6M282 404.5h3M294 404.5h3M195 407.5h3M282 407.5h3M294 407.5h3M189 410.5h3M282 410.5h3M297 410.5h3M183 413.5h3M297 413.5h3M180 416.5h3M297 416.5h6M177 419.5h3M276 419.5h3M300 419.5h3M273 422.5h3M300 422.5h3M267 425.5h6M300 425.5h3M264 428.5h3M300 428.5h3M171 431.5h3M264 431.5h3M300 431.5h3M264 434.5h3M297 434.5h6M264 437.5h3M285 437.5h15M165 440.5h3M264 440.5h24M162 443.5h3M273 443.5h6M141 458.5h3M138 461.5h3M120 464.5h3M219 473.5h3M219 476.5h9M219 479.5h3M225 479.5h3M219 482.5h3M228 482.5h3M222 485.5h3M231 485.5h3M222 488.5h3M234 488.5h3M225 494.5h3M237 494.5h3M228 497.5h3M237 497.5h3M228 500.5h3M240 500.5h3M243 506.5h3M231 509.5h3M246 509.5h3M234 515.5h3M249 515.5h3M234 518.5h3M249 518.5h3M237 524.5h3M237 527.5h3M252 527.5h3M252 530.5h3M240 533.5h3M252 533.5h3M240 536.5h3M252 536.5h3M243 539.5h12"/><path stroke="#ffd700" d="M510 53.5h3M657 53.5h3M483 56.5h3M510 56.5h3M486 59.5h6M510 59.5h3M660 59.5h3M483 62.5h6M513 62.5h6M660 62.5h3M474 65.5h9M516 65.5h3M660 65.5h6M471 68.5h3M519 68.5h3M663 68.5h3M468 71.5h3M519 71.5h3M663 71.5h6M468 74.5h3M519 74.5h3M663 74.5h6M435 77.5h3M444 77.5h3M465 77.5h3M522 77.5h3M666 77.5h3M681 77.5h3M447 80.5h3M465 80.5h3M522 80.5h3M666 80.5h6M681 80.5h3M429 83.5h3M450 83.5h3M525 83.5h3M666 83.5h6M681 83.5h3M453 86.5h3M462 86.5h3M528 86.5h6M666 86.5h6M678 86.5h6M426 89.5h3M453 89.5h9M534 89.5h6M666 89.5h9M678 89.5h6M420 92.5h6M543 92.5h3M666 92.5h18M414 95.5h3M549 95.5h3M666 95.5h18M555 98.5h3M666 98.5h18M561 101.5h3M666 101.5h18M666 104.5h18M666 107.5h18M411 110.5h3M573 110.5h3M669 110.5h15M408 113.5h3M579 113.5h6M669 113.5h15M588 116.5h6M669 116.5h15M594 119.5h6M669 119.5h15M399 122.5h3M600 122.5h6M669 122.5h15M606 125.5h6M669 125.5h15M393 128.5h3M609 128.5h9M669 128.5h15M390 131.5h3M615 131.5h6M666 131.5h18M387 134.5h3M618 134.5h9M666 134.5h18M621 137.5h12M666 137.5h18M384 140.5h3M627 140.5h9M663 140.5h21M378 143.5h3M630 143.5h9M663 143.5h21M633 146.5h9M663 146.5h21M369 149.5h3M636 149.5h9M663 149.5h21M366 152.5h3M639 152.5h12M666 152.5h18M357 155.5h3M642 155.5h15M672 155.5h12M645 158.5h15M333 161.5h3M648 161.5h12M651 164.5h12M654 167.5h12M654 170.5h15M654 173.5h18M651 176.5h27M648 179.5h33M642 182.5h42M630 185.5h54M621 188.5h30M666 188.5h6M615 191.5h30M666 191.5h6M300 194.5h3M612 194.5h9M669 194.5h3M609 197.5h6M669 197.5h3M606 200.5h6M669 200.5h3M606 203.5h6M669 203.5h3M294 206.5h3M606 206.5h3M669 206.5h3M603 209.5h6M669 209.5h3M603 212.5h6M669 212.5h3M282 215.5h3M603 215.5h3M666 215.5h6M675 215.5h3M600 218.5h6M663 218.5h6M600 221.5h6M660 221.5h9M600 224.5h6M657 224.5h9M258 227.5h3M600 227.5h6M651 227.5h12M258 230.5h3M603 230.5h3M645 230.5h12M603 233.5h6M642 233.5h9M261 236.5h3M606 236.5h3M636 236.5h12M261 239.5h3M606 239.5h9M624 239.5h18M261 242.5h3M606 242.5h27M261 245.5h3M516 245.5h3M609 245.5h18M261 248.5h3M513 248.5h15M261 251.5h3M513 251.5h6M525 251.5h6M261 254.5h3M528 254.5h3M261 257.5h3M258 260.5h3M255 263.5h3M246 266.5h3M237 275.5h3M234 278.5h3M234 281.5h3M234 284.5h3M630 284.5h15M231 287.5h3M624 287.5h15M642 287.5h9M231 290.5h3M621 290.5h9M648 290.5h6M231 293.5h3M618 293.5h6M648 293.5h6M231 296.5h3M615 296.5h6M645 296.5h6M231 299.5h3M612 299.5h6M642 299.5h9M228 302.5h3M612 302.5h6M642 302.5h12M228 305.5h3M612 305.5h9M639 305.5h15M228 308.5h3M612 308.5h18M636 308.5h21M228 311.5h6M618 311.5h42M231 314.5h6M627 314.5h33M234 317.5h6M504 317.5h6M633 317.5h27M240 320.5h6M501 320.5h12M639 320.5h21M243 323.5h6M498 323.5h18M645 323.5h12M243 326.5h6M495 326.5h24M651 326.5h3M246 329.5h3M492 329.5h27M246 332.5h3M486 332.5h33M243 335.5h6M486 335.5h33M237 338.5h9M486 338.5h33M231 341.5h6M483 341.5h12M501 341.5h15M225 344.5h6M225 347.5h3M222 350.5h6M222 353.5h3M222 356.5h6M222 359.5h6M225 362.5h3M225 365.5h3M225 368.5h3M453 371.5h6M450 374.5h15M450 377.5h15M225 380.5h3M450 380.5h15M450 383.5h12M222 386.5h3M453 386.5h6M222 389.5h3M219 392.5h3M282 392.5h12M216 395.5h3M279 395.5h3M291 395.5h6M213 398.5h3M279 398.5h3M294 398.5h3M210 401.5h6M279 401.5h3M297 401.5h3M204 404.5h9M279 404.5h3M297 404.5h3M198 407.5h12M297 407.5h3M192 410.5h6M300 410.5h3M186 413.5h6M279 413.5h3M300 413.5h3M183 416.5h3M276 416.5h3M303 416.5h3M273 419.5h3M303 419.5h3M177 422.5h3M270 422.5h3M303 422.5h3M363 422.5h3M174 425.5h3M264 425.5h3M303 425.5h3M360 425.5h6M261 428.5h3M303 428.5h3M261 431.5h3M303 431.5h6M171 434.5h3M261 434.5h3M303 434.5h6M168 437.5h3M261 437.5h3M300 437.5h9M258 440.5h6M288 440.5h18M258 443.5h15M279 443.5h15M159 446.5h3M270 446.5h12M156 449.5h3M147 455.5h3M129 467.5h6M219 470.5h3M216 473.5h3M222 473.5h6M216 476.5h3M228 476.5h3M216 479.5h3M228 479.5h3M231 482.5h3M219 485.5h3M234 485.5h3M237 488.5h3M222 491.5h3M237 491.5h3M225 497.5h3M240 497.5h3M228 503.5h3M243 503.5h3M228 506.5h3M246 506.5h3M231 512.5h3M249 512.5h3M252 518.5h3M234 521.5h3M252 521.5h3M252 524.5h3M255 527.5h3M237 530.5h3M255 530.5h3M237 533.5h3M255 533.5h3M255 536.5h3M255 539.5h3M246 542.5h9"/><path stroke="#ffc700" d="M483 53.5h3M507 53.5h3M660 53.5h6M486 56.5h9M507 56.5h3M660 56.5h6M492 59.5h18M663 59.5h3M489 62.5h6M507 62.5h6M663 62.5h6M483 65.5h6M513 65.5h3M666 65.5h3M474 68.5h9M516 68.5h3M666 68.5h6M678 68.5h6M471 71.5h3M516 71.5h3M669 71.5h15M669 74.5h15M438 77.5h6M468 77.5h3M519 77.5h3M669 77.5h12M432 80.5h6M444 80.5h3M468 80.5h3M519 80.5h3M672 80.5h9M432 83.5h3M447 83.5h3M465 83.5h3M522 83.5h3M672 83.5h9M429 86.5h3M450 86.5h3M465 86.5h3M525 86.5h3M672 86.5h6M429 89.5h3M450 89.5h3M462 89.5h3M528 89.5h6M675 89.5h3M426 92.5h3M453 92.5h12M537 92.5h6M417 95.5h12M546 95.5h3M414 98.5h3M423 98.5h3M552 98.5h3M414 101.5h3M558 101.5h3M414 104.5h3M564 104.5h3M414 107.5h3M567 107.5h3M570 110.5h3M411 113.5h3M573 113.5h6M408 116.5h3M579 116.5h9M405 119.5h3M588 119.5h6M402 122.5h3M594 122.5h6M396 125.5h3M600 125.5h6M603 128.5h6M393 131.5h3M606 131.5h9M390 134.5h3M609 134.5h9M387 137.5h3M612 137.5h9M615 140.5h12M381 143.5h3M618 143.5h12M375 146.5h3M621 146.5h12M372 149.5h3M624 149.5h12M369 152.5h3M624 152.5h15M360 155.5h3M624 155.5h18M342 158.5h6M627 158.5h18M336 161.5h3M627 161.5h21M330 164.5h3M630 164.5h21M327 167.5h3M630 167.5h24M324 170.5h3M633 170.5h21M321 173.5h3M633 173.5h21M318 176.5h3M630 176.5h21M315 179.5h3M624 179.5h24M312 182.5h3M618 182.5h24M309 185.5h3M615 185.5h15M306 188.5h3M612 188.5h9M672 188.5h12M303 191.5h3M609 191.5h6M672 191.5h12M606 194.5h6M672 194.5h12M603 197.5h6M672 197.5h12M297 200.5h3M603 200.5h3M672 200.5h12M600 203.5h6M672 203.5h12M600 206.5h6M672 206.5h12M597 209.5h6M672 209.5h12M291 212.5h3M597 212.5h6M672 212.5h12M285 215.5h3M597 215.5h6M672 215.5h3M678 215.5h6M276 218.5h3M594 218.5h6M669 218.5h15M270 221.5h3M591 221.5h9M669 221.5h15M264 224.5h3M591 224.5h9M666 224.5h9M678 224.5h6M261 227.5h3M591 227.5h9M663 227.5h9M678 227.5h6M261 230.5h3M588 230.5h15M657 230.5h12M681 230.5h3M261 233.5h3M588 233.5h15M651 233.5h12M588 236.5h18M648 236.5h9M600 239.5h6M642 239.5h9M516 242.5h12M600 242.5h6M633 242.5h12M513 245.5h3M519 245.5h15M603 245.5h6M627 245.5h12M264 248.5h3M510 248.5h3M528 248.5h6M603 248.5h30M264 251.5h3M507 251.5h6M519 251.5h6M531 251.5h6M606 251.5h24M264 254.5h3M507 254.5h21M531 254.5h6M609 254.5h15M525 257.5h15M261 260.5h3M528 260.5h12M249 266.5h6M243 269.5h3M240 272.5h3M237 278.5h3M237 281.5h3M624 281.5h18M621 284.5h9M645 284.5h9M234 287.5h3M615 287.5h9M651 287.5h6M234 290.5h3M612 290.5h9M654 290.5h3M234 293.5h3M513 293.5h9M606 293.5h12M654 293.5h6M234 296.5h3M513 296.5h18M606 296.5h9M651 296.5h12M513 299.5h21M603 299.5h9M651 299.5h15M231 302.5h3M510 302.5h24M603 302.5h9M654 302.5h15M231 305.5h3M504 305.5h27M603 305.5h9M654 305.5h15M231 308.5h3M498 308.5h33M603 308.5h9M657 308.5h12M234 311.5h3M492 311.5h36M603 311.5h15M660 311.5h9M237 314.5h6M489 314.5h39M606 314.5h21M660 314.5h9M240 317.5h6M489 317.5h15M510 317.5h18M615 317.5h18M660 317.5h9M246 320.5h3M486 320.5h15M513 320.5h15M627 320.5h12M660 320.5h6M249 323.5h3M483 323.5h15M516 323.5h12M630 323.5h15M657 323.5h9M249 326.5h3M483 326.5h12M519 326.5h9M633 326.5h18M654 326.5h12M249 329.5h3M480 329.5h12M519 329.5h9M636 329.5h27M249 332.5h3M477 332.5h9M519 332.5h9M639 332.5h24M249 335.5h3M474 335.5h12M519 335.5h9M651 335.5h6M246 338.5h3M468 338.5h18M519 338.5h6M237 341.5h9M465 341.5h18M495 341.5h6M516 341.5h9M231 344.5h6M465 344.5h30M501 344.5h21M228 347.5h6M465 347.5h27M507 347.5h12M228 350.5h3M465 350.5h18M225 353.5h6M462 353.5h15M228 356.5h3M459 356.5h18M228 359.5h3M453 359.5h24M228 362.5h3M447 362.5h30M228 365.5h3M444 365.5h30M228 368.5h3M441 368.5h33M228 371.5h3M441 371.5h12M459 371.5h15M228 374.5h3M381 374.5h15M438 374.5h12M465 374.5h9M228 377.5h3M378 377.5h18M435 377.5h15M465 377.5h9M381 380.5h12M435 380.5h15M465 380.5h6M225 383.5h3M384 383.5h6M435 383.5h15M462 383.5h9M225 386.5h3M438 386.5h15M459 386.5h9M282 389.5h12M441 389.5h24M222 392.5h3M279 392.5h3M294 392.5h3M444 392.5h18M219 395.5h3M276 395.5h3M297 395.5h3M447 395.5h9M216 398.5h6M276 398.5h3M297 398.5h6M450 398.5h3M216 401.5h3M276 401.5h3M300 401.5h3M213 404.5h3M300 404.5h3M210 407.5h3M279 407.5h3M300 407.5h6M198 410.5h15M279 410.5h3M303 410.5h3M192 413.5h18M276 413.5h3M303 413.5h3M456 413.5h3M186 416.5h3M201 416.5h6M306 416.5h3M180 419.5h3M270 419.5h3M306 419.5h3M360 419.5h18M264 422.5h6M306 422.5h3M357 422.5h6M366 422.5h12M261 425.5h3M306 425.5h6M354 425.5h6M366 425.5h9M174 428.5h3M306 428.5h6M354 428.5h21M174 431.5h3M309 431.5h3M357 431.5h15M258 434.5h3M309 434.5h3M360 434.5h9M258 437.5h3M309 437.5h3M252 440.5h6M306 440.5h6M252 443.5h6M294 443.5h18M450 443.5h3M252 446.5h18M282 446.5h15M450 446.5h6M255 449.5h9M267 449.5h18M447 449.5h9M153 452.5h3M273 452.5h6M450 452.5h6M450 455.5h6M144 458.5h3M453 458.5h3M138 464.5h3M216 470.5h3M222 470.5h3M231 479.5h3M216 482.5h3M234 482.5h6M216 485.5h3M237 485.5h3M219 488.5h3M240 488.5h3M240 491.5h3M222 494.5h3M240 494.5h3M225 500.5h3M243 500.5h3M228 509.5h3M249 509.5h3M252 512.5h3M231 515.5h3M252 515.5h3M255 521.5h3M234 524.5h3M255 524.5h3M234 527.5h3M258 530.5h3M417 530.5h21M258 533.5h3M417 533.5h24M237 536.5h3M258 536.5h6M420 536.5h21M240 539.5h3M258 539.5h3M420 539.5h24M243 542.5h3M255 542.5h6M423 542.5h21M426 545.5h15"/><path stroke="#ffb700" d="M486 53.5h21M666 53.5h3M495 56.5h12M666 56.5h3M666 59.5h6M495 62.5h12M669 62.5h3M489 65.5h6M507 65.5h6M669 65.5h9M483 68.5h6M510 68.5h6M672 68.5h6M474 71.5h9M513 71.5h3M471 74.5h3M513 74.5h6M471 77.5h3M516 77.5h3M438 80.5h6M516 80.5h3M435 83.5h3M444 83.5h3M468 83.5h3M516 83.5h6M432 86.5h3M447 86.5h3M468 86.5h3M519 86.5h6M432 89.5h3M465 89.5h3M522 89.5h6M429 92.5h6M450 92.5h3M465 92.5h3M528 92.5h9M429 95.5h6M450 95.5h15M540 95.5h6M417 98.5h6M426 98.5h9M549 98.5h3M417 101.5h12M417 104.5h3M561 104.5h3M564 107.5h3M414 110.5h3M567 110.5h3M570 113.5h3M411 116.5h3M573 116.5h6M408 119.5h3M582 119.5h6M588 122.5h6M399 125.5h3M594 125.5h6M396 128.5h3M597 128.5h6M600 131.5h6M393 134.5h3M600 134.5h9M390 137.5h3M603 137.5h9M387 140.5h3M606 140.5h9M384 143.5h3M606 143.5h12M378 146.5h3M609 146.5h12M375 149.5h3M612 149.5h12M372 152.5h3M612 152.5h12M363 155.5h6M612 155.5h12M348 158.5h6M612 158.5h15M339 161.5h3M612 161.5h15M333 164.5h3M609 164.5h21M330 167.5h3M612 167.5h18M612 170.5h21M612 173.5h21M612 176.5h18M612 179.5h12M609 182.5h9M606 185.5h9M603 188.5h9M603 191.5h6M600 194.5h6M300 197.5h3M597 197.5h6M594 200.5h9M591 203.5h9M588 206.5h12M294 209.5h3M585 209.5h12M582 212.5h15M288 215.5h3M582 215.5h15M279 218.5h3M579 218.5h15M579 221.5h12M579 224.5h12M675 224.5h3M579 227.5h12M672 227.5h6M576 230.5h12M669 230.5h12M576 233.5h12M663 233.5h21M264 236.5h3M573 236.5h15M657 236.5h9M669 236.5h15M264 239.5h3M519 239.5h15M573 239.5h27M651 239.5h9M675 239.5h9M264 242.5h3M510 242.5h6M528 242.5h9M576 242.5h24M645 242.5h6M264 245.5h3M510 245.5h3M534 245.5h3M576 245.5h27M639 245.5h9M330 248.5h6M507 248.5h3M534 248.5h6M576 248.5h27M633 248.5h9M330 251.5h6M504 251.5h3M537 251.5h6M579 251.5h27M630 251.5h9M333 254.5h6M501 254.5h6M537 254.5h6M600 254.5h9M624 254.5h12M264 257.5h3M333 257.5h9M501 257.5h24M540 257.5h6M600 257.5h33M336 260.5h9M501 260.5h15M522 260.5h6M540 260.5h6M603 260.5h30M258 263.5h3M501 263.5h9M528 263.5h21M603 263.5h27M255 266.5h3M501 266.5h6M534 266.5h15M606 266.5h24M246 269.5h6M501 269.5h3M540 269.5h9M609 269.5h18M243 272.5h3M546 272.5h6M612 272.5h15M240 275.5h3M546 275.5h6M612 275.5h21M240 278.5h3M501 278.5h18M543 278.5h12M609 278.5h33M498 281.5h27M540 281.5h21M606 281.5h18M642 281.5h15M237 284.5h3M495 284.5h33M537 284.5h27M603 284.5h18M654 284.5h6M237 287.5h3M495 287.5h69M603 287.5h12M657 287.5h6M237 290.5h3M492 290.5h75M600 290.5h12M657 290.5h9M237 293.5h3M492 293.5h21M522 293.5h48M597 293.5h9M660 293.5h9M237 296.5h3M489 296.5h24M531 296.5h39M591 296.5h15M663 296.5h12M681 296.5h3M234 299.5h3M489 299.5h24M534 299.5h39M588 299.5h15M666 299.5h18M234 302.5h3M489 302.5h21M534 302.5h69M669 302.5h15M234 305.5h6M486 305.5h18M531 305.5h72M669 305.5h15M234 308.5h6M486 308.5h12M531 308.5h54M591 308.5h12M669 308.5h15M237 311.5h6M483 311.5h9M528 311.5h57M594 311.5h9M669 311.5h12M243 314.5h3M480 314.5h9M528 314.5h57M597 314.5h9M669 314.5h9M246 317.5h6M480 317.5h9M528 317.5h54M600 317.5h15M669 317.5h6M249 320.5h3M477 320.5h9M528 320.5h54M603 320.5h24M666 320.5h9M477 323.5h6M528 323.5h51M618 323.5h12M666 323.5h6M474 326.5h9M528 326.5h48M624 326.5h9M666 326.5h6M471 329.5h9M528 329.5h42M627 329.5h9M663 329.5h9M252 332.5h3M465 332.5h12M528 332.5h39M630 332.5h9M663 332.5h6M252 335.5h3M462 335.5h12M528 335.5h36M633 335.5h18M657 335.5h12M249 338.5h3M459 338.5h9M525 338.5h36M636 338.5h30M246 341.5h3M456 341.5h9M525 341.5h9M540 341.5h18M639 341.5h24M237 344.5h6M459 344.5h6M495 344.5h6M522 344.5h9M549 344.5h9M648 344.5h9M234 347.5h3M459 347.5h6M492 347.5h6M501 347.5h6M519 347.5h9M231 350.5h3M456 350.5h9M483 350.5h9M507 350.5h18M231 353.5h3M444 353.5h18M477 353.5h12M231 356.5h3M441 356.5h18M477 356.5h6M231 359.5h3M438 359.5h15M477 359.5h6M231 362.5h3M435 362.5h12M477 362.5h3M231 365.5h3M384 365.5h3M432 365.5h12M474 365.5h6M231 368.5h3M375 368.5h24M429 368.5h12M474 368.5h6M231 371.5h3M369 371.5h33M426 371.5h15M474 371.5h6M231 374.5h3M360 374.5h21M396 374.5h9M423 374.5h15M474 374.5h6M357 377.5h21M396 377.5h12M414 377.5h21M474 377.5h6M228 380.5h3M357 380.5h24M393 380.5h12M414 380.5h21M471 380.5h6M228 383.5h3M366 383.5h18M390 383.5h12M417 383.5h18M471 383.5h3M282 386.5h12M378 386.5h21M423 386.5h15M468 386.5h6M225 389.5h3M279 389.5h3M294 389.5h3M381 389.5h15M426 389.5h15M465 389.5h6M225 392.5h3M276 392.5h3M297 392.5h3M384 392.5h9M429 392.5h15M462 392.5h6M222 395.5h3M300 395.5h3M387 395.5h6M435 395.5h12M456 395.5h12M222 398.5h3M303 398.5h3M438 398.5h12M453 398.5h12M219 401.5h3M303 401.5h3M438 401.5h27M216 404.5h3M276 404.5h3M303 404.5h3M441 404.5h24M213 407.5h6M306 407.5h3M384 407.5h3M441 407.5h24M213 410.5h3M276 410.5h3M306 410.5h3M381 410.5h6M444 410.5h21M210 413.5h3M306 413.5h3M372 413.5h15M444 413.5h12M459 413.5h6M189 416.5h12M207 416.5h6M273 416.5h3M360 416.5h27M447 416.5h18M183 419.5h3M195 419.5h15M267 419.5h3M309 419.5h3M354 419.5h6M378 419.5h9M447 419.5h18M180 422.5h3M198 422.5h12M309 422.5h3M351 422.5h6M378 422.5h9M450 422.5h12M177 425.5h3M201 425.5h9M258 425.5h3M312 425.5h3M348 425.5h6M375 425.5h12M450 425.5h12M201 428.5h9M258 428.5h3M312 428.5h6M348 428.5h6M375 428.5h12M450 428.5h12M201 431.5h9M258 431.5h3M312 431.5h6M348 431.5h9M372 431.5h15M447 431.5h15M174 434.5h3M204 434.5h6M312 434.5h6M351 434.5h9M369 434.5h18M447 434.5h15M171 437.5h3M252 437.5h6M312 437.5h6M354 437.5h27M447 437.5h15M168 440.5h3M249 440.5h3M312 440.5h9M360 440.5h15M444 440.5h18M165 443.5h3M246 443.5h6M312 443.5h9M444 443.5h6M453 443.5h9M162 446.5h3M246 446.5h6M297 446.5h21M444 446.5h6M456 446.5h6M159 449.5h3M249 449.5h6M264 449.5h3M285 449.5h15M444 449.5h3M456 449.5h6M252 452.5h21M279 452.5h6M444 452.5h6M456 452.5h6M150 455.5h3M255 455.5h27M444 455.5h6M456 455.5h6M258 458.5h21M447 458.5h6M456 458.5h9M141 461.5h3M450 461.5h15M453 464.5h12M126 467.5h3M135 467.5h3M213 467.5h12M213 470.5h3M225 470.5h3M213 473.5h3M228 473.5h3M213 476.5h3M231 476.5h3M213 479.5h3M234 479.5h6M213 482.5h3M240 482.5h3M240 485.5h3M216 488.5h3M219 491.5h3M243 491.5h3M243 494.5h3M222 497.5h3M243 497.5h3M225 503.5h3M246 503.5h3M225 506.5h3M249 506.5h3M252 509.5h3M228 512.5h3M255 515.5h3M393 515.5h6M231 518.5h3M255 518.5h3M396 518.5h3M231 521.5h3M411 521.5h9M435 521.5h6M258 524.5h3M408 524.5h36M258 527.5h3M408 527.5h36M234 530.5h3M261 530.5h3M408 530.5h9M438 530.5h9M234 533.5h3M261 533.5h6M408 533.5h9M441 533.5h9M264 536.5h3M408 536.5h12M441 536.5h12M261 539.5h9M408 539.5h12M444 539.5h12M240 542.5h3M261 542.5h9M411 542.5h12M444 542.5h12M246 545.5h24M411 545.5h15M441 545.5h18M414 548.5h45M417 551.5h39M423 554.5h24M432 557.5h9"/><path stroke="#ffa700" d="M669 53.5h15M669 56.5h15M672 59.5h12M672 62.5h12M495 65.5h12M678 65.5h6M489 68.5h6M504 68.5h6M483 71.5h6M507 71.5h6M474 74.5h9M510 74.5h3M474 77.5h3M510 77.5h6M471 80.5h3M513 80.5h3M438 83.5h6M471 83.5h3M513 83.5h3M435 86.5h12M471 86.5h3M516 86.5h3M435 89.5h15M468 89.5h3M519 89.5h3M435 92.5h15M468 92.5h3M522 92.5h6M435 95.5h15M465 95.5h3M528 95.5h12M435 98.5h33M546 98.5h3M429 101.5h15M447 101.5h12M555 101.5h3M420 104.5h9M450 104.5h3M417 107.5h3M414 113.5h3M567 113.5h3M570 116.5h3M573 119.5h9M405 122.5h3M582 122.5h6M402 125.5h3M588 125.5h6M399 128.5h3M591 128.5h6M396 131.5h3M594 131.5h6M594 134.5h6M393 137.5h3M594 137.5h9M390 140.5h3M597 140.5h9M387 143.5h3M597 143.5h9M381 146.5h6M597 146.5h12M378 149.5h3M597 149.5h15M375 152.5h3M600 152.5h12M369 155.5h3M600 155.5h12M354 158.5h3M600 158.5h12M342 161.5h3M600 161.5h12M336 164.5h3M600 164.5h9M333 167.5h3M600 167.5h12M327 170.5h3M603 170.5h9M324 173.5h3M603 173.5h9M321 176.5h3M603 176.5h9M318 179.5h3M603 179.5h9M315 182.5h3M600 182.5h9M312 185.5h3M597 185.5h9M597 188.5h6M594 191.5h9M303 194.5h3M591 194.5h9M588 197.5h9M585 200.5h9M297 203.5h3M582 203.5h9M576 206.5h12M573 209.5h12M570 212.5h12M291 215.5h3M564 215.5h18M282 218.5h6M558 218.5h21M273 221.5h3M558 221.5h21M267 224.5h3M558 224.5h21M264 227.5h3M561 227.5h18M264 230.5h3M561 230.5h15M264 233.5h3M564 233.5h12M519 236.5h18M564 236.5h9M666 236.5h3M510 239.5h9M534 239.5h6M564 239.5h9M660 239.5h15M537 242.5h6M564 242.5h12M651 242.5h12M669 242.5h12M327 245.5h9M507 245.5h3M537 245.5h6M567 245.5h9M648 245.5h6M672 245.5h3M267 248.5h3M327 248.5h3M504 248.5h3M540 248.5h6M567 248.5h9M642 248.5h6M267 251.5h3M327 251.5h3M336 251.5h3M501 251.5h3M543 251.5h3M570 251.5h9M639 251.5h6M267 254.5h3M330 254.5h3M339 254.5h3M498 254.5h3M543 254.5h6M573 254.5h27M636 254.5h9M330 257.5h3M498 257.5h3M546 257.5h3M573 257.5h27M633 257.5h9M264 260.5h3M333 260.5h3M498 260.5h3M516 260.5h6M546 260.5h6M576 260.5h27M633 260.5h9M261 263.5h3M336 263.5h12M495 263.5h6M510 263.5h18M549 263.5h6M597 263.5h6M630 263.5h12M258 266.5h3M495 266.5h6M507 266.5h12M528 266.5h6M549 266.5h6M597 266.5h9M630 266.5h12M252 269.5h3M495 269.5h6M504 269.5h18M534 269.5h6M549 269.5h9M597 269.5h12M627 269.5h12M681 269.5h3M246 272.5h3M495 272.5h27M537 272.5h9M552 272.5h9M600 272.5h12M627 272.5h15M678 272.5h6M243 275.5h3M495 275.5h30M537 275.5h9M552 275.5h15M600 275.5h12M633 275.5h12M678 275.5h6M243 278.5h3M492 278.5h9M519 278.5h9M534 278.5h9M555 278.5h15M600 278.5h9M642 278.5h15M675 278.5h9M240 281.5h3M309 281.5h6M492 281.5h6M525 281.5h15M561 281.5h12M597 281.5h9M657 281.5h6M672 281.5h12M240 284.5h3M309 284.5h9M489 284.5h6M528 284.5h9M564 284.5h12M597 284.5h6M660 284.5h24M240 287.5h3M309 287.5h9M489 287.5h6M564 287.5h12M594 287.5h9M663 287.5h21M240 290.5h3M312 290.5h6M486 290.5h6M567 290.5h12M588 290.5h12M666 290.5h18M240 293.5h3M483 293.5h9M570 293.5h27M669 293.5h15M240 296.5h3M483 296.5h6M570 296.5h21M675 296.5h6M237 299.5h6M483 299.5h6M573 299.5h15M237 302.5h6M483 302.5h6M240 305.5h3M480 305.5h6M240 308.5h6M477 308.5h9M585 308.5h6M243 311.5h3M474 311.5h9M585 311.5h9M681 311.5h3M246 314.5h6M474 314.5h6M585 314.5h12M678 314.5h6M474 317.5h6M582 317.5h18M675 317.5h9M252 320.5h3M471 320.5h6M582 320.5h21M675 320.5h9M252 323.5h3M471 323.5h6M579 323.5h39M672 323.5h12M252 326.5h3M468 326.5h6M576 326.5h21M606 326.5h18M672 326.5h12M252 329.5h3M462 329.5h9M570 329.5h24M618 329.5h9M672 329.5h12M459 332.5h6M567 332.5h21M624 332.5h6M669 332.5h15M456 335.5h6M564 335.5h21M627 335.5h6M669 335.5h15M252 338.5h3M453 338.5h6M561 338.5h21M630 338.5h6M666 338.5h18M249 341.5h3M450 341.5h6M534 341.5h6M558 341.5h24M633 341.5h6M663 341.5h21M243 344.5h6M447 344.5h12M531 344.5h18M558 344.5h24M636 344.5h12M657 344.5h27M237 347.5h6M444 347.5h15M498 347.5h3M528 347.5h54M639 347.5h45M234 350.5h6M438 350.5h18M492 350.5h6M501 350.5h6M525 350.5h9M537 350.5h42M642 350.5h42M234 353.5h3M435 353.5h9M489 353.5h6M507 353.5h24M543 353.5h33M648 353.5h15M681 353.5h3M234 356.5h3M378 356.5h3M429 356.5h12M483 356.5h9M234 359.5h3M375 359.5h15M420 359.5h18M483 359.5h3M234 362.5h3M372 362.5h30M411 362.5h24M480 362.5h6M234 365.5h3M366 365.5h18M387 365.5h45M480 365.5h6M234 368.5h3M360 368.5h15M399 368.5h30M480 368.5h6M357 371.5h12M402 371.5h24M480 371.5h6M354 374.5h6M405 374.5h18M480 374.5h6M231 377.5h3M351 377.5h6M408 377.5h6M480 377.5h6M231 380.5h3M351 380.5h6M405 380.5h9M477 380.5h6M285 383.5h6M351 383.5h15M402 383.5h15M474 383.5h6M228 386.5h3M279 386.5h3M294 386.5h3M357 386.5h21M399 386.5h24M474 386.5h3M228 389.5h3M276 389.5h3M297 389.5h3M366 389.5h15M396 389.5h30M471 389.5h3M300 392.5h3M375 392.5h9M393 392.5h15M414 392.5h15M468 392.5h6M225 395.5h3M273 395.5h3M303 395.5h3M378 395.5h9M393 395.5h12M423 395.5h12M468 395.5h3M225 398.5h3M273 398.5h3M306 398.5h3M381 398.5h24M426 398.5h12M465 398.5h6M222 401.5h3M273 401.5h3M306 401.5h3M381 401.5h24M432 401.5h6M465 401.5h6M219 404.5h3M306 404.5h3M378 404.5h27M435 404.5h6M465 404.5h3M219 407.5h3M276 407.5h3M375 407.5h9M387 407.5h18M435 407.5h6M465 407.5h3M216 410.5h3M309 410.5h3M366 410.5h15M387 410.5h15M438 410.5h6M465 410.5h3M213 413.5h3M273 413.5h3M309 413.5h3M360 413.5h12M387 413.5h15M441 413.5h3M465 413.5h3M213 416.5h3M270 416.5h3M309 416.5h3M354 416.5h6M387 416.5h12M441 416.5h6M465 416.5h3M186 419.5h9M210 419.5h3M264 419.5h3M351 419.5h3M387 419.5h9M444 419.5h3M465 419.5h3M192 422.5h6M210 422.5h3M261 422.5h3M312 422.5h3M345 422.5h6M387 422.5h9M444 422.5h6M462 422.5h6M180 425.5h3M195 425.5h6M210 425.5h3M255 425.5h3M315 425.5h3M339 425.5h9M387 425.5h9M444 425.5h6M462 425.5h6M177 428.5h3M198 428.5h3M210 428.5h3M255 428.5h3M318 428.5h3M342 428.5h6M387 428.5h9M444 428.5h6M462 428.5h6M177 431.5h3M198 431.5h3M210 431.5h3M255 431.5h3M318 431.5h6M342 431.5h6M387 431.5h9M444 431.5h3M462 431.5h6M198 434.5h6M210 434.5h3M252 434.5h6M318 434.5h12M345 434.5h6M387 434.5h6M441 434.5h6M462 434.5h6M198 437.5h15M249 437.5h3M318 437.5h12M348 437.5h6M381 437.5h12M441 437.5h6M462 437.5h6M201 440.5h9M246 440.5h3M321 440.5h12M351 440.5h9M375 440.5h18M441 440.5h3M462 440.5h6M201 443.5h9M243 443.5h3M321 443.5h12M351 443.5h39M441 443.5h3M462 443.5h6M204 446.5h9M243 446.5h3M318 446.5h15M357 446.5h24M441 446.5h3M462 446.5h6M204 449.5h9M243 449.5h6M300 449.5h30M363 449.5h15M441 449.5h3M462 449.5h6M156 452.5h3M204 452.5h9M246 452.5h6M285 452.5h24M318 452.5h6M441 452.5h3M462 452.5h6M204 455.5h6M249 455.5h6M282 455.5h6M441 455.5h3M462 455.5h9M147 458.5h3M207 458.5h3M252 458.5h6M279 458.5h3M444 458.5h3M465 458.5h6M144 461.5h3M255 461.5h24M444 461.5h6M465 461.5h6M210 464.5h12M267 464.5h9M447 464.5h6M465 464.5h6M210 467.5h3M225 467.5h3M450 467.5h21M228 470.5h3M459 470.5h9M231 473.5h6M234 476.5h6M372 476.5h6M240 479.5h3M372 479.5h6M243 482.5h3M372 482.5h6M213 485.5h3M243 485.5h3M372 485.5h9M243 488.5h3M372 488.5h9M216 491.5h3M372 491.5h9M219 494.5h3M372 494.5h12M372 497.5h12M222 500.5h3M246 500.5h3M372 500.5h12M249 503.5h3M375 503.5h12M252 506.5h3M375 506.5h15M225 509.5h3M255 509.5h3M378 509.5h18M255 512.5h3M381 512.5h27M228 515.5h3M384 515.5h9M399 515.5h21M447 515.5h9M258 518.5h3M390 518.5h6M399 518.5h57M258 521.5h3M393 521.5h18M420 521.5h15M441 521.5h12M231 524.5h3M261 524.5h3M396 524.5h12M444 524.5h9M231 527.5h3M261 527.5h3M399 527.5h9M444 527.5h9M264 530.5h3M399 530.5h9M447 530.5h9M267 533.5h3M399 533.5h9M450 533.5h9M234 536.5h3M267 536.5h6M399 536.5h9M453 536.5h9M237 539.5h3M270 539.5h6M399 539.5h9M456 539.5h9M270 542.5h6M402 542.5h9M456 542.5h9M243 545.5h3M270 545.5h6M402 545.5h9M459 545.5h9M255 548.5h18M405 548.5h9M459 548.5h12M408 551.5h9M456 551.5h15M411 554.5h12M447 554.5h24M414 557.5h18M441 557.5h27M420 560.5h48M429 563.5h36M432 566.5h33"/><path stroke="#ff9700" d="M495 68.5h9M489 71.5h18M483 74.5h9M504 74.5h6M477 77.5h9M507 77.5h3M474 80.5h9M507 80.5h6M474 83.5h6M507 83.5h6M474 86.5h3M510 86.5h6M471 89.5h6M513 89.5h6M471 92.5h3M516 92.5h6M468 95.5h6M522 95.5h6M468 98.5h3M531 98.5h15M444 101.5h3M459 101.5h9M552 101.5h3M429 104.5h21M453 104.5h12M558 104.5h3M420 107.5h9M438 107.5h24M561 107.5h3M417 110.5h3M444 110.5h12M564 110.5h3M414 116.5h3M567 116.5h3M411 119.5h3M570 119.5h3M408 122.5h3M576 122.5h6M405 125.5h3M582 125.5h6M402 128.5h3M585 128.5h6M399 131.5h3M588 131.5h6M396 134.5h3M588 134.5h6M591 137.5h3M393 140.5h3M591 140.5h6M390 143.5h3M591 143.5h6M387 146.5h3M591 146.5h6M381 149.5h3M591 149.5h6M591 152.5h9M372 155.5h3M591 155.5h9M357 158.5h3M591 158.5h9M345 161.5h3M591 161.5h9M339 164.5h3M591 164.5h9M336 167.5h3M591 167.5h9M330 170.5h3M591 170.5h12M327 173.5h3M594 173.5h9M324 176.5h3M594 176.5h9M321 179.5h3M594 179.5h9M318 182.5h3M594 182.5h6M591 185.5h6M309 188.5h3M588 188.5h9M306 191.5h3M585 191.5h9M582 194.5h9M579 197.5h9M300 200.5h3M573 200.5h12M570 203.5h12M297 206.5h3M567 206.5h9M564 209.5h9M294 212.5h3M552 212.5h18M549 215.5h15M288 218.5h3M549 218.5h9M549 221.5h9M549 224.5h9M267 227.5h3M552 227.5h9M528 230.5h12M555 230.5h6M516 233.5h24M555 233.5h9M267 236.5h3M510 236.5h9M537 236.5h6M558 236.5h6M267 239.5h3M507 239.5h3M540 239.5h6M558 239.5h6M267 242.5h3M327 242.5h9M507 242.5h3M543 242.5h6M558 242.5h6M663 242.5h6M681 242.5h3M267 245.5h3M504 245.5h3M543 245.5h6M558 245.5h9M654 245.5h18M675 245.5h9M336 248.5h3M501 248.5h3M546 248.5h3M561 248.5h6M648 248.5h9M666 248.5h18M498 251.5h3M546 251.5h6M564 251.5h6M645 251.5h9M666 251.5h18M327 254.5h3M495 254.5h3M549 254.5h3M567 254.5h6M645 254.5h6M669 254.5h15M267 257.5h3M342 257.5h3M495 257.5h3M549 257.5h6M567 257.5h6M642 257.5h9M669 257.5h15M330 260.5h3M345 260.5h3M492 260.5h6M552 260.5h3M567 260.5h9M642 260.5h9M669 260.5h15M264 263.5h3M333 263.5h3M492 263.5h3M555 263.5h3M567 263.5h30M642 263.5h9M669 263.5h15M336 266.5h12M492 266.5h3M519 266.5h9M555 266.5h9M567 266.5h30M642 266.5h9M669 266.5h15M255 269.5h3M492 269.5h3M522 269.5h12M558 269.5h39M639 269.5h12M666 269.5h15M249 272.5h6M492 272.5h3M522 272.5h15M561 272.5h21M591 272.5h9M642 272.5h9M666 272.5h12M246 275.5h6M309 275.5h3M489 275.5h6M525 275.5h12M567 275.5h15M594 275.5h6M645 275.5h33M246 278.5h3M303 278.5h15M489 278.5h3M528 278.5h6M570 278.5h12M591 278.5h9M657 278.5h18M243 281.5h6M303 281.5h6M315 281.5h6M486 281.5h6M573 281.5h9M591 281.5h6M663 281.5h9M243 284.5h3M303 284.5h6M318 284.5h6M483 284.5h6M576 284.5h21M243 287.5h3M306 287.5h3M318 287.5h6M480 287.5h9M576 287.5h18M243 290.5h3M306 290.5h6M318 290.5h6M480 290.5h6M579 290.5h9M243 293.5h3M312 293.5h12M477 293.5h6M243 296.5h3M318 296.5h3M477 296.5h6M243 299.5h3M477 299.5h6M243 302.5h3M474 302.5h9M243 305.5h3M471 305.5h9M246 308.5h3M468 308.5h9M246 311.5h6M468 311.5h6M252 314.5h3M465 314.5h9M252 317.5h3M465 317.5h9M465 320.5h6M255 323.5h3M381 323.5h9M462 323.5h9M255 326.5h3M378 326.5h15M459 326.5h9M597 326.5h9M255 329.5h3M375 329.5h18M456 329.5h6M594 329.5h24M255 332.5h3M375 332.5h15M453 332.5h6M588 332.5h15M606 332.5h18M255 335.5h3M372 335.5h18M450 335.5h6M585 335.5h12M615 335.5h12M255 338.5h3M369 338.5h21M447 338.5h6M582 338.5h12M621 338.5h9M252 341.5h3M369 341.5h18M444 341.5h6M582 341.5h9M627 341.5h6M249 344.5h3M366 344.5h21M441 344.5h6M582 344.5h6M630 344.5h6M243 347.5h3M366 347.5h24M435 347.5h9M582 347.5h6M633 347.5h6M240 350.5h3M366 350.5h24M432 350.5h6M498 350.5h3M534 350.5h3M579 350.5h9M636 350.5h6M237 353.5h6M366 353.5h30M429 353.5h6M495 353.5h12M531 353.5h12M576 353.5h9M639 353.5h9M663 353.5h18M237 356.5h6M363 356.5h15M381 356.5h21M417 356.5h12M492 356.5h6M507 356.5h72M642 356.5h42M237 359.5h6M363 359.5h12M390 359.5h30M486 359.5h9M528 359.5h3M648 359.5h36M237 362.5h6M360 362.5h12M402 362.5h9M486 362.5h6M681 362.5h3M237 365.5h3M357 365.5h9M486 365.5h6M237 368.5h3M354 368.5h6M486 368.5h6M234 371.5h3M351 371.5h6M486 371.5h6M234 374.5h3M351 374.5h3M486 374.5h6M234 377.5h3M348 377.5h3M486 377.5h6M288 380.5h3M348 380.5h3M483 380.5h6M231 383.5h3M279 383.5h6M291 383.5h6M348 383.5h3M480 383.5h6M276 386.5h3M297 386.5h3M348 386.5h9M477 386.5h6M300 389.5h3M351 389.5h15M474 389.5h6M228 392.5h3M273 392.5h3M303 392.5h3M357 392.5h18M408 392.5h6M474 392.5h3M228 395.5h3M306 395.5h3M366 395.5h12M405 395.5h18M471 395.5h6M228 398.5h3M372 398.5h9M405 398.5h21M471 398.5h6M225 401.5h3M309 401.5h3M372 401.5h9M405 401.5h27M471 401.5h3M222 404.5h3M273 404.5h3M309 404.5h3M369 404.5h9M405 404.5h30M468 404.5h6M222 407.5h3M309 407.5h3M363 407.5h12M405 407.5h9M426 407.5h9M468 407.5h6M219 410.5h3M273 410.5h3M360 410.5h6M402 410.5h9M432 410.5h6M468 410.5h3M216 413.5h3M354 413.5h6M402 413.5h6M435 413.5h6M468 413.5h3M216 416.5h3M267 416.5h3M312 416.5h3M351 416.5h3M399 416.5h9M435 416.5h6M468 416.5h3M213 419.5h3M312 419.5h3M336 419.5h15M396 419.5h9M438 419.5h6M468 419.5h3M183 422.5h9M213 422.5h3M258 422.5h3M315 422.5h3M333 422.5h12M396 422.5h9M441 422.5h3M468 422.5h3M192 425.5h3M213 425.5h3M252 425.5h3M318 425.5h3M333 425.5h6M396 425.5h9M441 425.5h3M468 425.5h3M180 428.5h3M195 428.5h3M213 428.5h3M252 428.5h3M321 428.5h21M396 428.5h6M441 428.5h3M468 428.5h3M195 431.5h3M213 431.5h3M252 431.5h3M324 431.5h18M396 431.5h6M438 431.5h6M468 431.5h3M177 434.5h3M195 434.5h3M213 434.5h3M249 434.5h3M330 434.5h15M393 434.5h9M438 434.5h3M468 434.5h6M174 437.5h3M213 437.5h3M246 437.5h3M330 437.5h18M393 437.5h6M438 437.5h3M468 437.5h6M171 440.5h3M198 440.5h3M210 440.5h9M243 440.5h3M333 440.5h18M393 440.5h6M438 440.5h3M468 440.5h6M168 443.5h3M198 443.5h3M210 443.5h12M240 443.5h3M333 443.5h18M390 443.5h6M438 443.5h3M468 443.5h6M165 446.5h3M198 446.5h6M213 446.5h12M237 446.5h6M333 446.5h24M381 446.5h15M438 446.5h3M468 446.5h6M162 449.5h3M201 449.5h3M213 449.5h12M237 449.5h6M330 449.5h15M348 449.5h15M378 449.5h18M438 449.5h3M468 449.5h6M201 452.5h3M213 452.5h9M240 452.5h6M309 452.5h9M324 452.5h12M354 452.5h42M438 452.5h3M468 452.5h9M153 455.5h3M201 455.5h3M210 455.5h6M246 455.5h3M288 455.5h39M357 455.5h30M438 455.5h3M471 455.5h6M204 458.5h3M210 458.5h3M246 458.5h6M282 458.5h9M360 458.5h24M438 458.5h6M471 458.5h6M204 461.5h15M249 461.5h6M279 461.5h6M363 461.5h21M441 461.5h3M471 461.5h6M141 464.5h3M207 464.5h3M222 464.5h6M252 464.5h15M276 464.5h6M366 464.5h18M441 464.5h6M471 464.5h6M138 467.5h3M228 467.5h6M252 467.5h27M369 467.5h15M444 467.5h6M471 467.5h6M132 470.5h3M210 470.5h3M231 470.5h6M369 470.5h15M447 470.5h12M468 470.5h9M210 473.5h3M237 473.5h3M369 473.5h15M453 473.5h24M210 476.5h3M240 476.5h6M369 476.5h3M378 476.5h9M456 476.5h18M210 479.5h3M243 479.5h6M369 479.5h3M378 479.5h9M459 479.5h12M210 482.5h3M246 482.5h3M369 482.5h3M378 482.5h9M210 485.5h3M246 485.5h3M369 485.5h3M381 485.5h6M213 488.5h3M246 488.5h3M369 488.5h3M381 488.5h9M213 491.5h3M246 491.5h3M369 491.5h3M381 491.5h9M216 494.5h3M246 494.5h3M369 494.5h3M384 494.5h6M219 497.5h3M246 497.5h3M369 497.5h3M384 497.5h6M219 500.5h3M369 500.5h3M384 500.5h6M222 503.5h3M369 503.5h6M387 503.5h6M222 506.5h3M372 506.5h3M390 506.5h9M372 509.5h6M396 509.5h24M453 509.5h9M225 512.5h3M258 512.5h3M375 512.5h6M408 512.5h57M258 515.5h3M378 515.5h6M420 515.5h27M456 515.5h6M228 518.5h3M381 518.5h9M456 518.5h6M228 521.5h3M261 521.5h3M387 521.5h6M453 521.5h9M228 524.5h3M390 524.5h6M453 524.5h9M264 527.5h3M393 527.5h6M453 527.5h9M231 530.5h3M267 530.5h3M393 530.5h6M456 530.5h9M231 533.5h3M270 533.5h3M393 533.5h6M459 533.5h9M273 536.5h3M393 536.5h6M462 536.5h9M276 539.5h3M393 539.5h6M465 539.5h9M237 542.5h3M276 542.5h3M393 542.5h9M465 542.5h9M240 545.5h3M276 545.5h3M396 545.5h6M468 545.5h9M246 548.5h9M273 548.5h3M399 548.5h6M471 548.5h6M261 551.5h15M399 551.5h9M471 551.5h6M402 554.5h9M471 554.5h6M405 557.5h9M468 557.5h9M408 560.5h12M468 560.5h9M411 563.5h18M465 563.5h12M414 566.5h18M465 566.5h12"/><path stroke="#ff8700" d="M492 74.5h12M486 77.5h21M483 80.5h9M501 80.5h6M480 83.5h9M504 83.5h3M477 86.5h9M504 86.5h6M477 89.5h9M504 89.5h9M474 92.5h9M507 92.5h9M474 95.5h9M513 95.5h9M471 98.5h9M522 98.5h9M468 101.5h9M537 101.5h15M465 104.5h9M555 104.5h3M429 107.5h9M462 107.5h6M420 110.5h24M456 110.5h9M561 110.5h3M417 113.5h3M438 113.5h21M564 113.5h3M417 116.5h3M414 119.5h3M567 119.5h3M411 122.5h3M570 122.5h6M408 125.5h3M573 125.5h9M405 128.5h3M579 128.5h6M402 131.5h3M582 131.5h6M399 134.5h3M582 134.5h6M396 137.5h3M585 137.5h6M585 140.5h6M393 143.5h3M585 143.5h6M390 146.5h3M585 146.5h6M384 149.5h3M585 149.5h6M378 152.5h3M585 152.5h6M585 155.5h6M360 158.5h6M585 158.5h6M348 161.5h3M585 161.5h6M342 164.5h3M585 164.5h6M339 167.5h3M585 167.5h6M333 170.5h6M585 170.5h6M330 173.5h3M585 173.5h9M327 176.5h3M585 176.5h9M585 179.5h9M585 182.5h9M315 185.5h3M582 185.5h9M579 188.5h9M576 191.5h9M306 194.5h3M573 194.5h9M303 197.5h3M570 197.5h9M564 200.5h9M300 203.5h3M561 203.5h9M546 206.5h21M297 209.5h3M543 209.5h21M540 212.5h12M294 215.5h3M540 215.5h9M291 218.5h3M540 218.5h9M276 221.5h15M531 221.5h18M270 224.5h3M528 224.5h21M519 227.5h33M267 230.5h3M513 230.5h15M540 230.5h15M267 233.5h3M510 233.5h6M540 233.5h15M507 236.5h3M543 236.5h15M327 239.5h6M504 239.5h3M546 239.5h12M324 242.5h3M504 242.5h3M549 242.5h9M270 245.5h3M324 245.5h3M336 245.5h3M498 245.5h6M549 245.5h9M270 248.5h3M324 248.5h3M495 248.5h6M549 248.5h12M657 248.5h9M270 251.5h3M324 251.5h3M339 251.5h3M495 251.5h3M552 251.5h12M654 251.5h12M270 254.5h3M324 254.5h3M342 254.5h3M492 254.5h3M552 254.5h15M651 254.5h18M270 257.5h3M327 257.5h3M489 257.5h6M555 257.5h12M651 257.5h18M267 260.5h3M327 260.5h3M489 260.5h3M555 260.5h12M651 260.5h18M330 263.5h3M348 263.5h3M486 263.5h6M558 263.5h9M651 263.5h18M261 266.5h3M333 266.5h3M348 266.5h3M486 266.5h6M564 266.5h3M651 266.5h18M258 269.5h3M336 269.5h12M483 269.5h9M651 269.5h15M255 272.5h3M480 272.5h12M582 272.5h9M651 272.5h15M252 275.5h3M300 275.5h9M312 275.5h9M480 275.5h9M582 275.5h12M249 278.5h6M300 278.5h3M318 278.5h9M477 278.5h12M582 278.5h9M249 281.5h3M300 281.5h3M321 281.5h6M477 281.5h9M582 281.5h9M246 284.5h6M300 284.5h3M324 284.5h3M474 284.5h9M246 287.5h6M303 287.5h3M324 287.5h3M474 287.5h6M246 290.5h6M303 290.5h3M324 290.5h3M474 290.5h6M246 293.5h9M306 293.5h6M324 293.5h3M471 293.5h6M246 296.5h9M312 296.5h6M321 296.5h6M471 296.5h6M246 299.5h9M315 299.5h9M468 299.5h9M246 302.5h6M318 302.5h3M468 302.5h6M246 305.5h6M465 305.5h6M249 308.5h3M462 308.5h6M252 311.5h3M462 311.5h6M459 314.5h6M255 317.5h3M381 317.5h6M459 317.5h6M255 320.5h3M378 320.5h15M456 320.5h9M375 323.5h6M390 323.5h6M456 323.5h6M372 326.5h6M393 326.5h3M453 326.5h6M369 329.5h6M393 329.5h6M453 329.5h3M366 332.5h9M390 332.5h9M450 332.5h3M603 332.5h3M366 335.5h6M390 335.5h9M447 335.5h3M597 335.5h18M363 338.5h6M390 338.5h6M444 338.5h3M594 338.5h27M255 341.5h3M363 341.5h6M387 341.5h12M438 341.5h6M591 341.5h9M612 341.5h15M252 344.5h3M360 344.5h6M387 344.5h12M435 344.5h6M588 344.5h9M618 344.5h12M246 347.5h6M360 347.5h6M390 347.5h12M432 347.5h3M588 347.5h9M624 347.5h9M243 350.5h6M360 350.5h6M390 350.5h15M429 350.5h3M588 350.5h6M627 350.5h9M243 353.5h6M357 353.5h9M396 353.5h12M423 353.5h6M585 353.5h6M633 353.5h6M243 356.5h9M357 356.5h6M402 356.5h15M498 356.5h9M579 356.5h6M636 356.5h6M243 359.5h9M357 359.5h6M495 359.5h33M531 359.5h51M639 359.5h9M243 362.5h6M354 362.5h6M492 362.5h12M525 362.5h27M561 362.5h18M645 362.5h36M240 365.5h6M354 365.5h3M492 365.5h9M651 365.5h33M240 368.5h3M351 368.5h3M492 368.5h9M237 371.5h3M348 371.5h3M492 371.5h9M237 374.5h3M348 374.5h3M492 374.5h6M345 377.5h3M492 377.5h6M234 380.5h3M279 380.5h9M291 380.5h6M345 380.5h3M489 380.5h9M276 383.5h3M297 383.5h3M345 383.5h3M486 383.5h9M231 386.5h3M300 386.5h3M345 386.5h3M483 386.5h12M231 389.5h3M273 389.5h3M303 389.5h3M345 389.5h6M480 389.5h6M231 392.5h3M306 392.5h3M348 392.5h9M477 392.5h6M270 395.5h3M354 395.5h12M477 395.5h6M270 398.5h3M309 398.5h3M360 398.5h12M477 398.5h6M228 401.5h3M270 401.5h3M363 401.5h9M474 401.5h6M225 404.5h3M360 404.5h9M474 404.5h6M225 407.5h3M273 407.5h3M357 407.5h6M414 407.5h12M474 407.5h3M222 410.5h3M312 410.5h3M354 410.5h6M411 410.5h21M471 410.5h6M219 413.5h3M270 413.5h3M312 413.5h3M330 413.5h9M351 413.5h3M408 413.5h27M471 413.5h6M219 416.5h3M330 416.5h21M408 416.5h27M471 416.5h6M216 419.5h3M261 419.5h3M315 419.5h3M330 419.5h6M405 419.5h6M429 419.5h9M471 419.5h6M216 422.5h3M255 422.5h3M318 422.5h3M327 422.5h6M405 422.5h6M432 422.5h9M471 422.5h6M183 425.5h3M189 425.5h3M216 425.5h3M249 425.5h3M321 425.5h12M405 425.5h6M435 425.5h6M471 425.5h6M192 428.5h3M216 428.5h3M249 428.5h3M402 428.5h9M435 428.5h6M471 428.5h6M180 431.5h3M192 431.5h3M216 431.5h3M249 431.5h3M402 431.5h9M432 431.5h6M471 431.5h6M216 434.5h3M246 434.5h3M402 434.5h9M432 434.5h6M474 434.5h3M177 437.5h3M195 437.5h3M216 437.5h3M243 437.5h3M399 437.5h12M432 437.5h6M474 437.5h3M174 440.5h3M195 440.5h3M219 440.5h3M240 440.5h3M399 440.5h9M432 440.5h6M474 440.5h3M195 443.5h3M222 443.5h6M234 443.5h6M396 443.5h9M432 443.5h6M474 443.5h6M225 446.5h12M396 446.5h9M432 446.5h6M474 446.5h6M198 449.5h3M225 449.5h12M345 449.5h3M396 449.5h6M432 449.5h6M474 449.5h6M159 452.5h3M198 452.5h3M222 452.5h18M336 452.5h18M396 452.5h6M432 452.5h6M477 452.5h6M198 455.5h3M216 455.5h15M240 455.5h6M327 455.5h9M348 455.5h9M387 455.5h15M432 455.5h6M477 455.5h6M150 458.5h3M201 458.5h3M213 458.5h15M243 458.5h3M291 458.5h36M351 458.5h9M384 458.5h18M432 458.5h6M477 458.5h6M147 461.5h3M201 461.5h3M219 461.5h15M243 461.5h6M285 461.5h9M354 461.5h9M384 461.5h15M435 461.5h6M477 461.5h6M144 464.5h3M204 464.5h3M228 464.5h9M246 464.5h6M282 464.5h3M357 464.5h9M384 464.5h15M435 464.5h6M477 464.5h6M123 467.5h3M141 467.5h3M207 467.5h3M234 467.5h6M246 467.5h6M279 467.5h3M363 467.5h6M384 467.5h12M438 467.5h6M477 467.5h9M129 470.5h3M135 470.5h3M237 470.5h6M246 470.5h33M363 470.5h6M384 470.5h12M441 470.5h6M477 470.5h9M240 473.5h15M270 473.5h9M363 473.5h6M384 473.5h12M444 473.5h9M477 473.5h12M246 476.5h6M363 476.5h6M387 476.5h6M447 476.5h9M474 476.5h15M207 479.5h3M249 479.5h3M363 479.5h6M387 479.5h9M450 479.5h9M471 479.5h18M207 482.5h3M249 482.5h3M363 482.5h6M387 482.5h9M450 482.5h36M249 485.5h3M363 485.5h6M387 485.5h12M450 485.5h33M210 488.5h3M249 488.5h3M363 488.5h6M390 488.5h12M450 488.5h30M210 491.5h3M249 491.5h3M363 491.5h6M390 491.5h15M456 491.5h24M129 494.5h9M213 494.5h3M249 494.5h3M363 494.5h6M390 494.5h12M465 494.5h12M123 497.5h15M213 497.5h6M249 497.5h3M363 497.5h6M390 497.5h9M471 497.5h6M120 500.5h9M216 500.5h3M249 500.5h3M366 500.5h3M390 500.5h9M408 500.5h9M471 500.5h3M120 503.5h6M219 503.5h3M252 503.5h3M366 503.5h3M393 503.5h30M462 503.5h12M255 506.5h3M366 506.5h6M399 506.5h39M450 506.5h24M222 509.5h3M258 509.5h3M369 509.5h3M420 509.5h33M462 509.5h12M222 512.5h3M369 512.5h6M465 512.5h6M225 515.5h3M261 515.5h3M369 515.5h9M462 515.5h9M225 518.5h3M261 518.5h3M372 518.5h9M462 518.5h6M264 521.5h3M378 521.5h9M462 521.5h6M264 524.5h3M381 524.5h9M462 524.5h6M228 527.5h3M267 527.5h3M384 527.5h9M462 527.5h9M228 530.5h3M270 530.5h3M384 530.5h9M465 530.5h15M228 533.5h3M273 533.5h6M384 533.5h9M468 533.5h12M231 536.5h3M276 536.5h6M384 536.5h9M471 536.5h12M234 539.5h3M279 539.5h3M387 539.5h6M474 539.5h9M279 542.5h3M387 542.5h6M474 542.5h9M390 545.5h6M477 545.5h6M243 548.5h3M276 548.5h3M393 548.5h6M477 548.5h6M255 551.5h6M276 551.5h3M393 551.5h6M477 551.5h6M267 554.5h9M396 554.5h6M477 554.5h6M396 557.5h9M477 557.5h6M396 560.5h12M477 560.5h6M396 563.5h15M477 563.5h9M396 566.5h18M477 566.5h9"/><path stroke="#ff7800" d="M492 80.5h9M489 83.5h15M486 86.5h18M486 89.5h18M483 92.5h12M501 92.5h6M483 95.5h9M504 95.5h9M480 98.5h9M510 98.5h12M477 101.5h9M519 101.5h18M474 104.5h6M540 104.5h6M552 104.5h3M468 107.5h6M558 107.5h3M465 110.5h6M420 113.5h18M459 113.5h6M561 113.5h3M420 116.5h3M435 116.5h24M564 116.5h3M417 119.5h3M414 122.5h3M567 122.5h3M411 125.5h3M570 125.5h3M408 128.5h3M570 128.5h9M405 131.5h3M570 131.5h12M402 134.5h3M570 134.5h12M399 137.5h3M576 137.5h9M396 140.5h3M576 140.5h9M396 143.5h3M579 143.5h6M393 146.5h3M579 146.5h6M387 149.5h3M579 149.5h6M381 152.5h3M579 152.5h6M375 155.5h3M576 155.5h9M366 158.5h3M576 158.5h9M351 161.5h6M573 161.5h12M345 164.5h3M567 164.5h18M342 167.5h3M564 167.5h21M339 170.5h3M561 170.5h24M333 173.5h6M561 173.5h24M330 176.5h3M561 176.5h24M324 179.5h3M561 179.5h24M321 182.5h3M558 182.5h27M318 185.5h3M558 185.5h24M312 188.5h3M558 188.5h21M309 191.5h3M558 191.5h18M558 194.5h15M558 197.5h12M303 200.5h3M555 200.5h9M543 203.5h18M300 206.5h3M540 206.5h6M537 209.5h6M297 212.5h3M534 212.5h6M531 215.5h9M294 218.5h3M525 218.5h15M291 221.5h3M522 221.5h9M273 224.5h3M285 224.5h6M516 224.5h12M270 227.5h3M513 227.5h6M510 230.5h3M270 233.5h3M507 233.5h3M270 236.5h3M327 236.5h6M504 236.5h3M270 239.5h3M321 239.5h6M333 239.5h3M501 239.5h3M270 242.5h3M321 242.5h3M336 242.5h3M498 242.5h6M321 245.5h3M495 245.5h3M321 248.5h3M339 248.5h3M492 248.5h3M273 251.5h3M492 251.5h3M273 254.5h3M489 254.5h3M324 257.5h3M345 257.5h3M486 257.5h3M270 260.5h3M483 260.5h6M267 263.5h3M327 263.5h3M480 263.5h6M264 266.5h3M327 266.5h6M480 266.5h6M261 269.5h3M330 269.5h6M348 269.5h3M477 269.5h6M258 272.5h3M300 272.5h24M330 272.5h12M477 272.5h3M255 275.5h6M297 275.5h3M321 275.5h15M474 275.5h6M255 278.5h3M297 278.5h3M327 278.5h6M474 278.5h3M252 281.5h6M297 281.5h3M327 281.5h6M471 281.5h6M252 284.5h3M327 284.5h6M471 284.5h3M252 287.5h3M300 287.5h3M327 287.5h6M471 287.5h3M252 290.5h6M300 290.5h3M327 290.5h3M468 290.5h6M255 293.5h3M303 293.5h3M327 293.5h3M468 293.5h3M255 296.5h3M306 296.5h6M327 296.5h3M465 296.5h6M255 299.5h3M312 299.5h3M324 299.5h3M465 299.5h3M252 302.5h6M312 302.5h6M321 302.5h6M465 302.5h3M252 305.5h3M312 305.5h12M462 305.5h3M252 308.5h3M315 308.5h3M459 308.5h3M255 311.5h3M456 311.5h6M255 314.5h3M381 314.5h9M456 314.5h3M378 317.5h3M387 317.5h18M453 317.5h6M258 320.5h3M375 320.5h3M393 320.5h12M453 320.5h3M258 323.5h3M372 323.5h3M396 323.5h9M453 323.5h3M258 326.5h3M366 326.5h6M396 326.5h9M450 326.5h3M258 329.5h3M363 329.5h6M399 329.5h6M447 329.5h6M258 332.5h3M360 332.5h6M399 332.5h6M444 332.5h6M258 335.5h3M360 335.5h6M399 335.5h6M441 335.5h6M258 338.5h3M357 338.5h6M396 338.5h9M438 338.5h6M258 341.5h3M357 341.5h6M399 341.5h9M432 341.5h6M600 341.5h12M255 344.5h3M354 344.5h6M399 344.5h9M429 344.5h6M597 344.5h21M252 347.5h3M354 347.5h6M402 347.5h6M429 347.5h3M597 347.5h27M249 350.5h3M351 350.5h9M405 350.5h6M426 350.5h3M594 350.5h33M249 353.5h6M351 353.5h6M408 353.5h15M591 353.5h15M618 353.5h15M252 356.5h6M351 356.5h6M585 356.5h12M621 356.5h15M252 359.5h3M351 359.5h6M582 359.5h9M627 359.5h12M249 362.5h3M351 362.5h3M504 362.5h21M552 362.5h9M579 362.5h6M633 362.5h12M246 365.5h3M351 365.5h3M501 365.5h18M525 365.5h57M639 365.5h12M243 368.5h3M348 368.5h3M501 368.5h6M534 368.5h9M564 368.5h12M645 368.5h39M240 371.5h3M501 371.5h3M651 371.5h33M345 374.5h3M498 374.5h6M657 374.5h27M237 377.5h3M282 377.5h15M342 377.5h3M498 377.5h6M663 377.5h21M276 380.5h3M297 380.5h3M342 380.5h3M498 380.5h6M675 380.5h9M234 383.5h3M273 383.5h3M342 383.5h3M495 383.5h9M273 386.5h3M342 386.5h3M495 386.5h6M342 389.5h3M486 389.5h15M270 392.5h3M342 392.5h6M483 392.5h15M231 395.5h3M309 395.5h3M345 395.5h9M483 395.5h15M231 398.5h3M351 398.5h9M483 398.5h12M231 401.5h3M312 401.5h3M357 401.5h6M480 401.5h12M228 404.5h3M270 404.5h3M312 404.5h3M327 404.5h9M357 404.5h3M480 404.5h9M228 407.5h3M312 407.5h3M327 407.5h15M354 407.5h3M477 407.5h9M225 410.5h3M270 410.5h3M327 410.5h18M348 410.5h6M477 410.5h6M222 413.5h3M267 413.5h3M315 413.5h3M327 413.5h3M339 413.5h12M477 413.5h6M264 416.5h3M315 416.5h3M324 416.5h6M477 416.5h6M219 419.5h3M258 419.5h3M318 419.5h12M411 419.5h18M477 419.5h6M219 422.5h3M252 422.5h3M321 422.5h6M411 422.5h21M477 422.5h6M186 425.5h3M411 425.5h24M477 425.5h6M183 428.5h9M246 428.5h3M411 428.5h24M477 428.5h6M183 431.5h3M189 431.5h3M219 431.5h3M246 431.5h3M411 431.5h21M477 431.5h6M180 434.5h3M192 434.5h3M219 434.5h3M243 434.5h3M411 434.5h21M477 434.5h6M192 437.5h3M219 437.5h3M240 437.5h3M411 437.5h21M477 437.5h6M192 440.5h3M222 440.5h3M234 440.5h6M408 440.5h24M477 440.5h6M171 443.5h3M228 443.5h6M405 443.5h27M480 443.5h3M168 446.5h3M195 446.5h3M405 446.5h27M480 446.5h6M165 449.5h3M195 449.5h3M402 449.5h30M480 449.5h6M195 452.5h3M402 452.5h30M483 452.5h6M156 455.5h3M231 455.5h9M336 455.5h12M402 455.5h30M483 455.5h6M153 458.5h3M198 458.5h3M228 458.5h15M327 458.5h12M345 458.5h6M402 458.5h30M483 458.5h6M150 461.5h3M198 461.5h3M234 461.5h9M294 461.5h33M348 461.5h6M399 461.5h21M423 461.5h12M483 461.5h6M147 464.5h3M201 464.5h3M237 464.5h9M285 464.5h12M351 464.5h6M399 464.5h15M426 464.5h9M483 464.5h6M120 467.5h3M144 467.5h3M204 467.5h3M240 467.5h6M282 467.5h3M354 467.5h9M396 467.5h15M429 467.5h9M486 467.5h6M126 470.5h3M138 470.5h6M207 470.5h3M243 470.5h3M279 470.5h3M357 470.5h6M396 470.5h12M432 470.5h9M486 470.5h9M207 473.5h3M255 473.5h15M279 473.5h3M360 473.5h3M396 473.5h12M432 473.5h12M489 473.5h9M207 476.5h3M252 476.5h9M270 476.5h9M360 476.5h3M393 476.5h15M435 476.5h12M489 476.5h12M252 479.5h6M273 479.5h3M360 479.5h3M396 479.5h15M435 479.5h15M489 479.5h15M252 482.5h6M360 482.5h3M396 482.5h18M438 482.5h12M486 482.5h21M207 485.5h3M252 485.5h6M360 485.5h3M399 485.5h21M438 485.5h12M483 485.5h27M207 488.5h3M252 488.5h3M360 488.5h3M402 488.5h18M435 488.5h15M480 488.5h30M129 491.5h12M252 491.5h3M360 491.5h3M405 491.5h18M432 491.5h24M480 491.5h30M120 494.5h9M138 494.5h3M210 494.5h3M360 494.5h3M402 494.5h24M429 494.5h36M477 494.5h30M120 497.5h3M138 497.5h3M210 497.5h3M360 497.5h3M399 497.5h45M453 497.5h18M477 497.5h24M129 500.5h9M210 500.5h6M252 500.5h3M360 500.5h6M399 500.5h9M417 500.5h24M453 500.5h18M474 500.5h21M126 503.5h6M216 503.5h3M255 503.5h3M363 503.5h3M423 503.5h39M474 503.5h21M120 506.5h3M219 506.5h3M258 506.5h3M363 506.5h3M438 506.5h12M474 506.5h21M219 509.5h3M363 509.5h6M474 509.5h24M261 512.5h3M363 512.5h6M471 512.5h27M222 515.5h3M363 515.5h6M471 515.5h24M222 518.5h3M264 518.5h3M366 518.5h6M468 518.5h27M225 521.5h3M369 521.5h9M468 521.5h24M225 524.5h3M267 524.5h3M372 524.5h9M468 524.5h24M225 527.5h3M270 527.5h3M372 527.5h12M471 527.5h21M225 530.5h3M273 530.5h6M372 530.5h12M480 530.5h12M225 533.5h3M279 533.5h3M372 533.5h12M480 533.5h12M228 536.5h3M282 536.5h3M372 536.5h12M483 536.5h9M231 539.5h3M282 539.5h3M375 539.5h12M483 539.5h9M162 542.5h3M234 542.5h3M282 542.5h3M375 542.5h12M483 542.5h9M162 545.5h3M237 545.5h3M279 545.5h3M378 545.5h12M483 545.5h9M240 548.5h3M279 548.5h3M378 548.5h15M483 548.5h9M246 551.5h9M381 551.5h12M483 551.5h9M261 554.5h6M276 554.5h3M384 554.5h12M483 554.5h9M270 557.5h3M384 557.5h12M483 557.5h9M387 560.5h9M483 560.5h9M387 563.5h9M486 563.5h6M387 566.5h9M486 566.5h6"/><path stroke="#ff6800" d="M495 92.5h6M492 95.5h12M489 98.5h21M486 101.5h6M507 101.5h12M480 104.5h9M516 104.5h24M546 104.5h6M474 107.5h9M555 107.5h3M471 110.5h6M558 110.5h3M465 113.5h9M423 116.5h12M459 116.5h9M561 116.5h3M420 119.5h3M432 119.5h27M564 119.5h3M417 122.5h3M564 122.5h3M414 125.5h3M567 125.5h3M411 128.5h3M567 128.5h3M408 131.5h6M564 131.5h6M405 134.5h6M564 134.5h6M402 137.5h6M564 137.5h12M399 140.5h6M567 140.5h9M399 143.5h3M570 143.5h9M396 146.5h3M573 146.5h6M390 149.5h6M573 149.5h6M384 152.5h3M573 152.5h6M378 155.5h3M570 155.5h6M369 158.5h3M558 158.5h3M567 158.5h9M357 161.5h3M555 161.5h18M348 164.5h3M552 164.5h15M345 167.5h3M555 167.5h9M342 170.5h3M555 170.5h6M339 173.5h3M555 173.5h6M333 176.5h6M555 176.5h6M327 179.5h6M555 179.5h6M324 182.5h3M555 182.5h3M555 185.5h3M315 188.5h3M552 188.5h6M312 191.5h3M555 191.5h3M309 194.5h3M555 194.5h3M306 197.5h3M552 197.5h6M546 200.5h9M303 203.5h3M540 203.5h3M537 206.5h3M300 209.5h3M534 209.5h3M300 212.5h3M528 212.5h6M297 215.5h3M522 215.5h9M297 218.5h3M519 218.5h6M294 221.5h6M513 221.5h9M276 224.5h9M291 224.5h6M510 224.5h6M273 227.5h3M282 227.5h15M507 227.5h6M270 230.5h3M504 230.5h6M324 233.5h6M504 233.5h3M273 236.5h3M321 236.5h6M333 236.5h3M501 236.5h3M273 239.5h3M318 239.5h3M336 239.5h3M498 239.5h3M273 242.5h3M318 242.5h3M495 242.5h3M273 245.5h3M339 245.5h3M492 245.5h3M273 248.5h3M489 248.5h3M276 251.5h3M321 251.5h3M342 251.5h3M486 251.5h6M276 254.5h3M321 254.5h3M345 254.5h3M486 254.5h3M273 257.5h3M321 257.5h3M483 257.5h3M273 260.5h3M321 260.5h6M348 260.5h3M480 260.5h3M270 263.5h3M324 263.5h3M477 263.5h3M267 266.5h3M324 266.5h3M351 266.5h3M477 266.5h3M264 269.5h3M309 269.5h21M351 269.5h3M474 269.5h3M261 272.5h6M297 272.5h3M324 272.5h6M342 272.5h9M474 272.5h3M261 275.5h3M294 275.5h3M336 275.5h6M471 275.5h3M258 278.5h6M333 278.5h6M471 278.5h3M258 281.5h3M333 281.5h6M468 281.5h3M255 284.5h6M297 284.5h3M333 284.5h3M468 284.5h3M255 287.5h6M297 287.5h3M333 287.5h3M468 287.5h3M258 290.5h3M330 290.5h3M465 290.5h3M258 293.5h3M300 293.5h3M330 293.5h3M465 293.5h3M258 296.5h3M303 296.5h3M330 296.5h3M462 296.5h3M258 299.5h3M306 299.5h6M327 299.5h3M462 299.5h3M258 302.5h3M309 302.5h3M327 302.5h3M399 302.5h12M459 302.5h6M255 305.5h6M309 305.5h3M324 305.5h3M399 305.5h15M459 305.5h3M255 308.5h3M309 308.5h6M318 308.5h6M381 308.5h3M399 308.5h15M456 308.5h3M258 311.5h3M306 311.5h15M378 311.5h12M393 311.5h21M453 311.5h3M258 314.5h3M306 314.5h12M378 314.5h3M390 314.5h21M450 314.5h6M258 317.5h3M306 317.5h9M375 317.5h3M405 317.5h6M450 317.5h3M306 320.5h9M372 320.5h3M405 320.5h6M450 320.5h3M306 323.5h6M366 323.5h6M405 323.5h6M450 323.5h3M363 326.5h3M405 326.5h6M447 326.5h3M261 329.5h3M360 329.5h3M405 329.5h6M444 329.5h3M261 332.5h3M357 332.5h3M405 332.5h6M441 332.5h3M261 335.5h3M357 335.5h3M405 335.5h6M438 335.5h3M261 338.5h3M354 338.5h3M405 338.5h6M432 338.5h6M351 341.5h6M408 341.5h3M423 341.5h9M258 344.5h3M351 344.5h3M408 344.5h3M426 344.5h3M255 347.5h6M348 347.5h6M408 347.5h6M426 347.5h3M252 350.5h6M345 350.5h6M411 350.5h15M255 353.5h6M345 353.5h6M606 353.5h12M258 356.5h3M345 356.5h6M597 356.5h24M255 359.5h6M345 359.5h6M591 359.5h36M252 362.5h6M348 362.5h3M585 362.5h48M249 365.5h3M345 365.5h6M519 365.5h6M582 365.5h57M246 368.5h3M345 368.5h3M507 368.5h12M525 368.5h9M543 368.5h21M576 368.5h27M609 368.5h36M243 371.5h3M285 371.5h6M333 371.5h15M504 371.5h9M534 371.5h48M594 371.5h6M615 371.5h36M240 374.5h3M279 374.5h18M330 374.5h15M504 374.5h6M555 374.5h21M618 374.5h39M276 377.5h6M297 377.5h3M330 377.5h12M504 377.5h6M627 377.5h36M237 380.5h3M273 380.5h3M333 380.5h9M504 380.5h6M636 380.5h39M300 383.5h3M333 383.5h9M504 383.5h6M642 383.5h42M234 386.5h3M270 386.5h3M303 386.5h3M330 386.5h12M501 386.5h6M651 386.5h21M234 389.5h3M270 389.5h3M306 389.5h3M327 389.5h15M501 389.5h6M654 389.5h12M234 392.5h3M309 392.5h3M324 392.5h18M498 392.5h9M267 395.5h3M324 395.5h21M498 395.5h9M267 398.5h3M312 398.5h3M324 398.5h27M495 398.5h9M267 401.5h3M324 401.5h33M492 401.5h9M231 404.5h3M324 404.5h3M336 404.5h21M489 404.5h12M270 407.5h3M315 407.5h3M324 407.5h3M342 407.5h12M486 407.5h12M228 410.5h3M315 410.5h3M324 410.5h3M345 410.5h3M483 410.5h15M225 413.5h3M264 413.5h3M318 413.5h9M483 413.5h12M222 416.5h3M261 416.5h3M318 416.5h6M483 416.5h12M222 419.5h3M255 419.5h3M483 419.5h12M246 422.5h6M483 422.5h9M219 425.5h3M246 425.5h3M483 425.5h9M219 428.5h3M243 428.5h3M483 428.5h9M186 431.5h3M243 431.5h3M483 431.5h9M183 434.5h9M240 434.5h3M483 434.5h9M180 437.5h3M189 437.5h3M222 437.5h3M234 437.5h6M483 437.5h9M177 440.5h3M225 440.5h9M483 440.5h9M174 443.5h3M192 443.5h3M483 443.5h9M171 446.5h3M192 446.5h3M486 446.5h6M486 449.5h6M162 452.5h3M489 452.5h3M159 455.5h3M195 455.5h3M489 455.5h6M195 458.5h3M339 458.5h6M489 458.5h6M153 461.5h3M327 461.5h21M420 461.5h3M489 461.5h6M150 464.5h3M198 464.5h3M297 464.5h33M345 464.5h6M414 464.5h12M489 464.5h9M147 467.5h3M198 467.5h6M285 467.5h27M348 467.5h6M411 467.5h18M492 467.5h9M144 470.5h6M201 470.5h6M282 470.5h6M348 470.5h9M408 470.5h24M495 470.5h9M129 473.5h12M204 473.5h3M282 473.5h3M351 473.5h9M408 473.5h24M498 473.5h9M531 473.5h3M204 476.5h3M261 476.5h9M279 476.5h3M357 476.5h3M408 476.5h27M501 476.5h33M204 479.5h3M258 479.5h15M276 479.5h6M357 479.5h3M411 479.5h24M504 479.5h30M204 482.5h3M258 482.5h6M270 482.5h9M357 482.5h3M414 482.5h24M507 482.5h27M204 485.5h3M258 485.5h3M357 485.5h3M420 485.5h18M510 485.5h24M129 488.5h12M204 488.5h3M255 488.5h3M357 488.5h3M420 488.5h15M510 488.5h24M120 491.5h9M141 491.5h3M204 491.5h6M357 491.5h3M423 491.5h9M510 491.5h24M141 494.5h3M204 494.5h6M252 494.5h3M357 494.5h3M426 494.5h3M507 494.5h27M141 497.5h3M204 497.5h6M252 497.5h3M357 497.5h3M444 497.5h9M501 497.5h21M138 500.5h3M201 500.5h9M255 500.5h3M357 500.5h3M441 500.5h12M495 500.5h24M132 503.5h6M201 503.5h15M258 503.5h3M357 503.5h6M495 503.5h21M123 506.5h9M198 506.5h21M357 506.5h6M495 506.5h18M198 509.5h12M213 509.5h6M261 509.5h3M357 509.5h6M498 509.5h15M201 512.5h6M216 512.5h6M357 512.5h6M498 512.5h15M216 515.5h6M264 515.5h3M357 515.5h6M495 515.5h21M219 518.5h3M357 518.5h9M495 518.5h24M216 521.5h9M267 521.5h3M360 521.5h9M492 521.5h30M213 524.5h12M270 524.5h3M360 524.5h12M492 524.5h30M210 527.5h15M273 527.5h3M360 527.5h12M492 527.5h33M210 530.5h15M279 530.5h3M360 530.5h12M492 530.5h33M210 533.5h15M282 533.5h3M357 533.5h15M492 533.5h33M159 536.5h9M210 536.5h18M285 536.5h3M357 536.5h15M492 536.5h33M156 539.5h18M210 539.5h21M285 539.5h3M357 539.5h18M492 539.5h33M156 542.5h6M165 542.5h9M210 542.5h9M231 542.5h3M285 542.5h3M360 542.5h15M492 542.5h33M156 545.5h6M165 545.5h6M282 545.5h3M369 545.5h9M492 545.5h33M156 548.5h12M369 548.5h9M492 548.5h33M243 551.5h3M279 551.5h3M372 551.5h9M492 551.5h33M258 554.5h3M375 554.5h9M492 554.5h30M264 557.5h6M273 557.5h6M375 557.5h9M492 557.5h30M378 560.5h9M492 560.5h30M381 563.5h6M492 563.5h30M381 566.5h6M492 566.5h33"/><path stroke="#ff5800" d="M492 101.5h15M489 104.5h27M483 107.5h9M510 107.5h45M477 110.5h9M555 110.5h3M474 113.5h6M558 113.5h3M468 116.5h6M423 119.5h9M459 119.5h9M561 119.5h3M420 122.5h39M417 125.5h6M435 125.5h15M564 125.5h3M414 128.5h6M564 128.5h3M414 131.5h3M411 134.5h6M561 134.5h3M408 137.5h6M561 137.5h3M405 140.5h6M564 140.5h3M402 143.5h3M564 143.5h6M399 146.5h3M567 146.5h6M396 149.5h3M567 149.5h6M387 152.5h6M567 152.5h6M381 155.5h3M555 155.5h15M372 158.5h3M552 158.5h6M561 158.5h6M360 161.5h3M552 161.5h3M351 164.5h3M549 164.5h3M348 167.5h3M549 167.5h6M345 170.5h3M552 170.5h3M342 173.5h3M552 173.5h3M339 176.5h3M552 176.5h3M333 179.5h6M552 179.5h3M327 182.5h3M552 182.5h3M321 185.5h3M549 185.5h6M318 188.5h3M549 188.5h3M315 191.5h3M549 191.5h6M312 194.5h3M546 194.5h9M309 197.5h3M543 197.5h9M306 200.5h3M540 200.5h6M306 203.5h3M537 203.5h3M303 206.5h3M534 206.5h3M303 209.5h3M528 209.5h6M303 212.5h3M525 212.5h3M300 215.5h6M519 215.5h3M300 218.5h6M516 218.5h3M300 221.5h6M510 221.5h3M297 224.5h6M507 224.5h3M276 227.5h6M297 227.5h3M504 227.5h3M273 230.5h24M324 230.5h3M273 233.5h21M321 233.5h3M330 233.5h3M501 233.5h3M276 236.5h15M318 236.5h3M498 236.5h3M276 239.5h6M495 239.5h3M276 242.5h6M339 242.5h3M492 242.5h3M276 245.5h6M318 245.5h3M489 245.5h3M276 248.5h6M318 248.5h3M342 248.5h3M486 248.5h3M279 251.5h3M318 251.5h3M483 251.5h3M279 254.5h3M318 254.5h3M483 254.5h3M276 257.5h3M318 257.5h3M348 257.5h3M480 257.5h3M276 260.5h3M318 260.5h3M477 260.5h3M273 263.5h3M318 263.5h6M351 263.5h3M474 263.5h3M270 266.5h3M312 266.5h12M474 266.5h3M267 269.5h3M294 269.5h15M471 269.5h3M267 272.5h3M294 272.5h3M351 272.5h3M471 272.5h3M264 275.5h3M342 275.5h6M468 275.5h3M264 278.5h3M294 278.5h3M339 278.5h6M468 278.5h3M261 281.5h3M294 281.5h3M339 281.5h3M261 284.5h3M294 284.5h3M336 284.5h6M465 284.5h3M261 287.5h3M336 287.5h3M465 287.5h3M261 290.5h3M297 290.5h3M333 290.5h3M462 290.5h3M261 293.5h3M297 293.5h3M333 293.5h3M462 293.5h3M261 296.5h3M300 296.5h3M333 296.5h3M459 296.5h3M261 299.5h3M303 299.5h3M330 299.5h3M399 299.5h12M459 299.5h3M261 302.5h3M303 302.5h6M330 302.5h3M396 302.5h3M411 302.5h3M456 302.5h3M261 305.5h3M303 305.5h6M327 305.5h3M381 305.5h3M396 305.5h3M456 305.5h3M258 308.5h3M303 308.5h6M324 308.5h3M378 308.5h3M384 308.5h15M414 308.5h3M453 308.5h3M300 311.5h6M321 311.5h3M390 311.5h3M450 311.5h3M261 314.5h3M300 314.5h6M318 314.5h3M375 314.5h3M411 314.5h3M261 317.5h3M300 317.5h6M315 317.5h6M372 317.5h3M411 317.5h3M447 317.5h3M261 320.5h3M300 320.5h6M315 320.5h3M369 320.5h3M411 320.5h3M447 320.5h3M261 323.5h3M300 323.5h6M312 323.5h6M363 323.5h3M411 323.5h3M447 323.5h3M261 326.5h3M300 326.5h15M360 326.5h3M411 326.5h3M300 329.5h15M357 329.5h3M411 329.5h3M441 329.5h3M300 332.5h12M411 332.5h6M438 332.5h3M264 335.5h3M303 335.5h9M354 335.5h3M411 335.5h12M435 335.5h3M351 338.5h3M411 338.5h21M261 341.5h3M348 341.5h3M411 341.5h12M261 344.5h3M345 344.5h6M411 344.5h15M261 347.5h3M342 347.5h6M414 347.5h12M258 350.5h6M342 350.5h3M261 353.5h3M342 353.5h3M261 356.5h3M342 356.5h3M261 359.5h3M342 359.5h3M258 362.5h6M342 362.5h6M252 365.5h9M342 365.5h3M249 368.5h3M279 368.5h12M336 368.5h9M519 368.5h6M603 368.5h6M276 371.5h9M291 371.5h6M330 371.5h3M513 371.5h9M525 371.5h9M582 371.5h12M600 371.5h15M273 374.5h6M297 374.5h3M327 374.5h3M510 374.5h6M531 374.5h24M576 374.5h42M240 377.5h3M273 377.5h3M324 377.5h6M510 377.5h6M534 377.5h93M270 380.5h3M300 380.5h3M324 380.5h9M510 380.5h3M534 380.5h3M549 380.5h33M591 380.5h45M237 383.5h3M270 383.5h3M303 383.5h3M321 383.5h12M510 383.5h3M552 383.5h27M597 383.5h45M237 386.5h3M306 386.5h3M321 386.5h9M507 386.5h6M555 386.5h18M618 386.5h33M672 386.5h12M267 389.5h3M309 389.5h3M321 389.5h6M507 389.5h6M558 389.5h9M621 389.5h33M666 389.5h12M267 392.5h3M321 392.5h3M507 392.5h6M627 392.5h48M234 395.5h3M312 395.5h3M321 395.5h3M507 395.5h6M633 395.5h39M234 398.5h3M321 398.5h3M504 398.5h6M645 398.5h24M234 401.5h3M315 401.5h3M321 401.5h3M501 401.5h9M657 401.5h9M234 404.5h3M267 404.5h3M315 404.5h3M321 404.5h3M501 404.5h6M231 407.5h3M267 407.5h3M318 407.5h6M498 407.5h9M267 410.5h3M318 410.5h6M498 410.5h6M495 413.5h9M225 416.5h3M258 416.5h3M495 416.5h6M249 419.5h6M495 419.5h6M222 422.5h3M492 422.5h9M222 425.5h3M243 425.5h3M492 425.5h6M222 428.5h3M492 428.5h6M222 431.5h3M240 431.5h3M492 431.5h6M222 434.5h3M234 434.5h6M492 434.5h6M183 437.5h6M225 437.5h9M492 437.5h6M180 440.5h3M189 440.5h3M492 440.5h6M189 443.5h3M492 443.5h6M492 446.5h6M528 446.5h18M168 449.5h3M192 449.5h3M492 449.5h6M525 449.5h24M165 452.5h3M192 452.5h3M492 452.5h9M525 452.5h27M192 455.5h3M495 455.5h9M522 455.5h30M156 458.5h3M495 458.5h12M519 458.5h33M195 461.5h3M495 461.5h15M516 461.5h36M153 464.5h3M195 464.5h3M330 464.5h15M498 464.5h57M150 467.5h3M195 467.5h3M312 467.5h36M501 467.5h54M123 470.5h3M150 470.5h3M198 470.5h3M288 470.5h45M342 470.5h6M504 470.5h51M126 473.5h3M141 473.5h9M198 473.5h6M285 473.5h9M321 473.5h6M342 473.5h9M507 473.5h24M534 473.5h21M135 476.5h6M201 476.5h3M282 476.5h6M345 476.5h12M534 476.5h21M201 479.5h3M282 479.5h3M351 479.5h6M534 479.5h21M198 482.5h6M264 482.5h6M279 482.5h3M351 482.5h6M534 482.5h24M132 485.5h6M198 485.5h6M261 485.5h18M354 485.5h3M534 485.5h24M120 488.5h9M141 488.5h3M201 488.5h3M258 488.5h6M354 488.5h3M534 488.5h24M144 491.5h3M198 491.5h6M255 491.5h6M354 491.5h3M534 491.5h24M144 494.5h3M198 494.5h6M255 494.5h3M354 494.5h3M534 494.5h24M195 497.5h9M255 497.5h3M354 497.5h3M522 497.5h36M141 500.5h3M192 500.5h9M354 500.5h3M519 500.5h39M138 503.5h3M189 503.5h12M354 503.5h3M516 503.5h42M132 506.5h6M189 506.5h9M261 506.5h3M354 506.5h3M513 506.5h45M120 509.5h12M189 509.5h9M210 509.5h3M264 509.5h3M351 509.5h6M513 509.5h45M186 512.5h15M207 512.5h9M264 512.5h3M351 512.5h6M513 512.5h42M183 515.5h33M267 515.5h3M351 515.5h6M516 515.5h39M621 515.5h6M180 518.5h39M267 518.5h3M351 518.5h6M519 518.5h33M618 518.5h9M180 521.5h36M270 521.5h3M351 521.5h9M522 521.5h30M615 521.5h15M177 524.5h36M273 524.5h3M351 524.5h9M522 524.5h30M615 524.5h15M174 527.5h36M276 527.5h6M351 527.5h9M525 527.5h27M612 527.5h21M159 530.5h51M282 530.5h6M348 530.5h12M525 530.5h27M612 530.5h21M156 533.5h54M285 533.5h3M348 533.5h9M525 533.5h30M612 533.5h21M156 536.5h3M168 536.5h27M201 536.5h9M288 536.5h3M345 536.5h12M525 536.5h30M609 536.5h24M153 539.5h3M174 539.5h18M204 539.5h6M288 539.5h3M345 539.5h12M525 539.5h33M609 539.5h24M153 542.5h3M174 542.5h18M207 542.5h3M219 542.5h12M288 542.5h3M345 542.5h15M525 542.5h30M609 542.5h21M153 545.5h3M171 545.5h21M207 545.5h30M285 545.5h6M342 545.5h27M525 545.5h30M609 545.5h21M153 548.5h3M168 548.5h24M210 548.5h9M237 548.5h3M282 548.5h6M345 548.5h24M525 548.5h27M612 548.5h15M156 551.5h15M180 551.5h9M240 551.5h3M282 551.5h3M348 551.5h24M525 551.5h27M246 554.5h12M279 554.5h3M351 554.5h24M522 554.5h30M261 557.5h3M351 557.5h24M522 557.5h30M267 560.5h12M351 560.5h27M522 560.5h30M351 563.5h30M522 563.5h30M351 566.5h30M525 566.5h27"/><path stroke="#ff4800" d="M492 107.5h18M486 110.5h6M504 110.5h45M552 110.5h3M480 113.5h6M516 113.5h9M555 113.5h3M474 116.5h9M558 116.5h3M468 119.5h9M459 122.5h9M561 122.5h3M423 125.5h12M450 125.5h9M561 125.5h3M420 128.5h33M561 128.5h3M417 131.5h6M432 131.5h18M561 131.5h3M417 134.5h3M414 137.5h6M411 140.5h6M561 140.5h3M405 143.5h9M561 143.5h3M402 146.5h3M561 146.5h6M399 149.5h3M558 149.5h9M393 152.5h6M552 152.5h15M384 155.5h3M552 155.5h3M375 158.5h6M549 158.5h3M363 161.5h6M549 161.5h3M354 164.5h6M351 167.5h3M348 170.5h3M549 170.5h3M345 173.5h6M549 173.5h3M342 176.5h6M549 176.5h3M339 179.5h3M549 179.5h3M330 182.5h9M549 182.5h3M324 185.5h3M546 185.5h3M321 188.5h3M546 188.5h3M318 191.5h3M546 191.5h3M315 194.5h3M543 194.5h3M312 197.5h3M540 197.5h3M309 200.5h3M537 200.5h3M309 203.5h6M534 203.5h3M306 206.5h12M531 206.5h3M306 209.5h12M525 209.5h3M306 212.5h12M522 212.5h3M306 215.5h9M516 215.5h3M306 218.5h9M513 218.5h3M306 221.5h6M303 224.5h6M300 227.5h6M324 227.5h3M297 230.5h6M318 230.5h6M327 230.5h6M501 230.5h3M294 233.5h6M315 233.5h6M333 233.5h3M498 233.5h3M291 236.5h6M315 236.5h3M336 236.5h3M495 236.5h3M282 239.5h12M315 239.5h3M339 239.5h3M492 239.5h3M282 242.5h9M315 242.5h3M489 242.5h3M282 245.5h6M315 245.5h3M342 245.5h3M486 245.5h3M282 248.5h3M315 248.5h3M282 251.5h3M315 251.5h3M345 251.5h3M282 254.5h3M315 254.5h3M480 254.5h3M279 257.5h6M315 257.5h3M477 257.5h3M279 260.5h3M315 260.5h3M351 260.5h3M474 260.5h3M276 263.5h6M312 263.5h6M471 263.5h3M273 266.5h6M306 266.5h6M354 266.5h3M471 266.5h3M270 269.5h6M288 269.5h6M354 269.5h3M270 272.5h3M291 272.5h3M468 272.5h3M267 275.5h6M291 275.5h3M348 275.5h6M267 278.5h3M291 278.5h3M345 278.5h6M465 278.5h3M264 281.5h6M291 281.5h3M342 281.5h6M465 281.5h3M264 284.5h3M342 284.5h3M264 287.5h3M294 287.5h3M339 287.5h3M462 287.5h3M264 290.5h3M294 290.5h3M336 290.5h6M264 293.5h3M336 293.5h3M375 293.5h3M459 293.5h3M264 296.5h3M297 296.5h3M336 296.5h3M375 296.5h6M264 299.5h3M300 299.5h3M333 299.5h3M375 299.5h9M396 299.5h3M411 299.5h3M456 299.5h3M264 302.5h3M300 302.5h3M333 302.5h3M378 302.5h6M414 302.5h3M300 305.5h3M330 305.5h3M378 305.5h3M384 305.5h12M414 305.5h3M453 305.5h3M261 308.5h3M297 308.5h6M327 308.5h3M375 308.5h3M450 308.5h3M261 311.5h3M297 311.5h3M324 311.5h3M375 311.5h3M414 311.5h3M447 311.5h3M297 314.5h3M321 314.5h3M372 314.5h3M414 314.5h3M447 314.5h3M264 317.5h3M297 317.5h3M321 317.5h3M369 317.5h3M414 317.5h3M264 320.5h3M297 320.5h3M318 320.5h3M363 320.5h6M414 320.5h3M264 323.5h3M297 323.5h3M318 323.5h3M360 323.5h3M414 323.5h3M264 326.5h3M294 326.5h6M315 326.5h3M357 326.5h3M414 326.5h3M444 326.5h3M264 329.5h3M294 329.5h6M315 329.5h3M354 329.5h3M414 329.5h3M438 329.5h3M264 332.5h3M294 332.5h6M312 332.5h3M354 332.5h3M417 332.5h6M435 332.5h3M294 335.5h9M312 335.5h3M351 335.5h3M423 335.5h3M432 335.5h3M264 338.5h3M297 338.5h15M348 338.5h3M264 341.5h3M297 341.5h12M345 341.5h3M264 344.5h3M300 344.5h6M342 344.5h3M264 347.5h3M339 347.5h3M264 350.5h3M339 350.5h3M264 353.5h3M339 353.5h3M264 356.5h3M339 356.5h3M264 359.5h3M339 359.5h3M264 362.5h3M339 362.5h3M261 365.5h6M273 365.5h21M336 365.5h6M252 368.5h27M291 368.5h6M330 368.5h6M246 371.5h3M258 371.5h18M297 371.5h3M327 371.5h3M522 371.5h3M243 374.5h3M267 374.5h6M300 374.5h3M324 374.5h3M516 374.5h15M267 377.5h6M300 377.5h3M321 377.5h3M516 377.5h6M528 377.5h6M240 380.5h3M267 380.5h3M303 380.5h3M318 380.5h6M513 380.5h6M528 380.5h6M537 380.5h12M582 380.5h9M240 383.5h3M267 383.5h3M306 383.5h3M318 383.5h3M513 383.5h6M528 383.5h24M579 383.5h18M267 386.5h3M309 386.5h3M318 386.5h3M513 386.5h6M528 386.5h27M573 386.5h45M237 389.5h3M264 389.5h3M312 389.5h9M513 389.5h6M531 389.5h27M567 389.5h15M591 389.5h30M678 389.5h6M237 392.5h3M264 392.5h3M312 392.5h9M513 392.5h6M543 392.5h36M597 392.5h30M675 392.5h9M264 395.5h3M315 395.5h6M513 395.5h6M546 395.5h33M612 395.5h21M672 395.5h12M264 398.5h3M315 398.5h6M510 398.5h9M549 398.5h27M618 398.5h27M669 398.5h15M264 401.5h3M318 401.5h3M510 401.5h6M549 401.5h24M618 401.5h39M666 401.5h18M318 404.5h3M507 404.5h9M552 404.5h18M621 404.5h63M234 407.5h3M507 407.5h6M555 407.5h9M642 407.5h42M231 410.5h3M264 410.5h3M504 410.5h9M549 410.5h3M651 410.5h21M675 410.5h9M228 413.5h3M261 413.5h3M504 413.5h6M549 413.5h3M228 416.5h3M255 416.5h3M501 416.5h9M546 416.5h9M225 419.5h3M246 419.5h3M501 419.5h6M546 419.5h9M603 419.5h9M225 422.5h3M243 422.5h3M501 422.5h6M546 422.5h9M603 422.5h9M225 425.5h3M240 425.5h3M498 425.5h6M543 425.5h12M600 425.5h15M225 428.5h3M237 428.5h6M498 428.5h6M540 428.5h15M600 428.5h15M225 431.5h3M234 431.5h6M498 431.5h6M534 431.5h21M600 431.5h12M225 434.5h9M498 434.5h6M528 434.5h27M600 434.5h9M498 437.5h6M522 437.5h33M600 437.5h6M183 440.5h6M498 440.5h6M519 440.5h36M660 440.5h3M177 443.5h6M498 443.5h9M516 443.5h42M657 443.5h6M174 446.5h3M189 446.5h3M498 446.5h12M513 446.5h15M546 446.5h21M171 449.5h3M498 449.5h27M549 449.5h21M501 452.5h24M552 452.5h21M594 452.5h3M162 455.5h3M504 455.5h18M552 455.5h18M591 455.5h9M159 458.5h3M192 458.5h3M507 458.5h12M552 458.5h15M585 458.5h15M156 461.5h3M192 461.5h3M510 461.5h6M552 461.5h15M582 461.5h21M156 464.5h3M192 464.5h3M555 464.5h12M582 464.5h21M153 467.5h3M555 467.5h12M582 467.5h21M120 470.5h3M153 470.5h3M195 470.5h3M333 470.5h9M555 470.5h12M582 470.5h21M123 473.5h3M150 473.5h3M195 473.5h3M294 473.5h27M327 473.5h15M555 473.5h12M585 473.5h18M123 476.5h12M141 476.5h9M195 476.5h6M288 476.5h57M555 476.5h12M585 476.5h21M126 479.5h18M198 479.5h3M285 479.5h6M312 479.5h39M555 479.5h15M582 479.5h27M129 482.5h12M195 482.5h3M282 482.5h6M345 482.5h6M558 482.5h15M579 482.5h48M120 485.5h12M138 485.5h9M195 485.5h3M279 485.5h6M348 485.5h6M558 485.5h72M144 488.5h3M195 488.5h6M264 488.5h18M348 488.5h6M558 488.5h75M147 491.5h3M195 491.5h3M261 491.5h9M348 491.5h6M558 491.5h78M147 494.5h3M189 494.5h9M258 494.5h6M348 494.5h6M558 494.5h78M144 497.5h3M186 497.5h9M258 497.5h3M348 497.5h6M558 497.5h78M144 500.5h3M183 500.5h9M258 500.5h3M348 500.5h6M558 500.5h78M141 503.5h3M180 503.5h9M261 503.5h3M348 503.5h6M558 503.5h36M606 503.5h30M138 506.5h3M180 506.5h9M264 506.5h3M348 506.5h6M558 506.5h33M606 506.5h30M132 509.5h6M177 509.5h12M348 509.5h3M558 509.5h27M606 509.5h30M123 512.5h9M177 512.5h9M267 512.5h3M348 512.5h3M555 512.5h27M606 512.5h33M174 515.5h9M348 515.5h3M555 515.5h27M606 515.5h15M627 515.5h12M171 518.5h9M270 518.5h3M345 518.5h6M552 518.5h30M606 518.5h12M627 518.5h12M168 521.5h12M273 521.5h3M345 521.5h6M552 521.5h27M606 521.5h9M630 521.5h12M162 524.5h15M276 524.5h6M345 524.5h6M552 524.5h27M603 524.5h12M630 524.5h12M156 527.5h18M282 527.5h6M345 527.5h6M552 527.5h30M603 527.5h9M633 527.5h9M156 530.5h3M288 530.5h3M342 530.5h6M552 530.5h30M600 530.5h12M633 530.5h9M153 533.5h3M288 533.5h3M342 533.5h6M555 533.5h27M600 533.5h12M633 533.5h9M153 536.5h3M195 536.5h6M291 536.5h3M339 536.5h6M555 536.5h54M633 536.5h9M192 539.5h12M291 539.5h6M339 539.5h6M558 539.5h51M633 539.5h9M150 542.5h3M192 542.5h15M291 542.5h9M336 542.5h9M555 542.5h54M630 542.5h12M150 545.5h3M192 545.5h6M201 545.5h6M291 545.5h15M333 545.5h9M555 545.5h54M630 545.5h12M150 548.5h3M192 548.5h3M204 548.5h6M219 548.5h18M288 548.5h27M330 548.5h15M552 548.5h60M627 548.5h12M150 551.5h6M171 551.5h9M189 551.5h6M210 551.5h15M237 551.5h3M285 551.5h33M330 551.5h18M552 551.5h87M153 554.5h39M243 554.5h3M282 554.5h33M330 554.5h21M552 554.5h33M588 554.5h51M159 557.5h3M180 557.5h6M246 557.5h15M279 557.5h33M336 557.5h15M552 557.5h27M594 557.5h45M249 560.5h18M279 560.5h27M339 560.5h12M552 560.5h27M597 560.5h42M243 563.5h63M339 563.5h12M552 563.5h24M597 563.5h45M240 566.5h24M267 566.5h36M339 566.5h12M552 566.5h24M597 566.5h48"/><path stroke="#ff3800" d="M492 110.5h12M549 110.5h3M486 113.5h9M498 113.5h18M525 113.5h18M483 116.5h6M510 116.5h18M555 116.5h3M477 119.5h6M558 119.5h3M468 122.5h9M558 122.5h3M459 125.5h9M558 125.5h3M453 128.5h6M558 128.5h3M423 131.5h9M450 131.5h6M558 131.5h3M420 134.5h36M558 134.5h3M420 137.5h33M558 137.5h3M417 140.5h9M438 140.5h15M558 140.5h3M414 143.5h9M447 143.5h3M558 143.5h3M405 146.5h12M555 146.5h6M402 149.5h6M552 149.5h6M399 152.5h3M549 152.5h3M387 155.5h9M549 155.5h3M381 158.5h3M369 161.5h6M546 161.5h3M360 164.5h3M546 164.5h3M354 167.5h6M546 167.5h3M351 170.5h6M546 170.5h3M351 173.5h3M546 173.5h3M348 176.5h3M546 176.5h3M342 179.5h6M546 179.5h3M339 182.5h6M546 182.5h3M327 185.5h12M324 188.5h3M543 188.5h3M321 191.5h3M543 191.5h3M318 194.5h6M540 194.5h3M315 197.5h9M537 197.5h3M312 200.5h15M315 203.5h12M318 206.5h9M528 206.5h3M318 209.5h6M522 209.5h3M318 212.5h6M519 212.5h3M315 215.5h9M513 215.5h3M315 218.5h6M510 218.5h3M312 221.5h9M507 221.5h3M309 224.5h18M504 224.5h3M306 227.5h18M327 227.5h6M501 227.5h3M303 230.5h15M333 230.5h3M498 230.5h3M300 233.5h6M312 233.5h3M336 233.5h3M297 236.5h6M312 236.5h3M339 236.5h3M294 239.5h6M312 239.5h3M291 242.5h9M312 242.5h3M342 242.5h3M288 245.5h9M312 245.5h3M285 248.5h6M345 248.5h3M483 248.5h3M285 251.5h6M312 251.5h3M480 251.5h3M285 254.5h6M312 254.5h3M348 254.5h3M477 254.5h3M285 257.5h6M312 257.5h3M351 257.5h3M474 257.5h3M282 260.5h9M312 260.5h3M471 260.5h3M282 263.5h12M309 263.5h3M354 263.5h3M279 266.5h27M468 266.5h3M276 269.5h12M468 269.5h3M273 272.5h18M354 272.5h3M273 275.5h18M354 275.5h3M465 275.5h3M270 278.5h6M288 278.5h3M351 278.5h3M270 281.5h3M348 281.5h3M267 284.5h6M291 284.5h3M345 284.5h6M462 284.5h3M267 287.5h3M291 287.5h3M342 287.5h6M267 290.5h3M291 290.5h3M342 290.5h3M375 290.5h3M459 290.5h3M267 293.5h3M294 293.5h3M339 293.5h3M369 293.5h6M378 293.5h3M267 296.5h3M294 296.5h3M372 296.5h3M381 296.5h3M399 296.5h15M456 296.5h3M267 299.5h3M294 299.5h6M336 299.5h3M372 299.5h3M414 299.5h3M297 302.5h3M375 302.5h3M384 302.5h12M453 302.5h3M264 305.5h3M294 305.5h6M333 305.5h3M375 305.5h3M417 305.5h3M450 305.5h3M264 308.5h3M294 308.5h3M330 308.5h3M417 308.5h3M447 308.5h3M264 311.5h3M294 311.5h3M327 311.5h3M372 311.5h3M417 311.5h3M264 314.5h3M294 314.5h3M324 314.5h3M369 314.5h3M417 314.5h3M294 317.5h3M366 317.5h3M444 317.5h3M267 320.5h3M294 320.5h3M321 320.5h3M360 320.5h3M444 320.5h3M267 323.5h3M291 323.5h6M321 323.5h3M357 323.5h3M417 323.5h3M444 323.5h3M267 326.5h3M291 326.5h3M318 326.5h3M354 326.5h3M417 326.5h3M441 326.5h3M267 329.5h3M291 329.5h3M318 329.5h3M417 329.5h3M267 332.5h3M291 332.5h3M315 332.5h3M351 332.5h3M423 332.5h3M267 335.5h3M291 335.5h3M348 335.5h3M426 335.5h6M267 338.5h3M291 338.5h6M312 338.5h3M345 338.5h3M267 341.5h3M291 341.5h6M309 341.5h3M342 341.5h3M267 344.5h3M294 344.5h6M306 344.5h6M339 344.5h3M267 347.5h3M294 347.5h15M267 350.5h3M294 350.5h12M336 350.5h3M267 353.5h6M297 353.5h6M336 353.5h3M267 356.5h9M297 356.5h3M336 356.5h3M267 359.5h30M336 359.5h3M267 362.5h33M336 362.5h3M267 365.5h6M294 365.5h6M330 365.5h6M297 368.5h3M327 368.5h3M249 371.5h9M300 371.5h3M321 371.5h6M246 374.5h3M255 374.5h12M303 374.5h3M318 374.5h6M243 377.5h3M261 377.5h6M303 377.5h3M315 377.5h6M522 377.5h6M243 380.5h3M264 380.5h3M306 380.5h3M315 380.5h3M519 380.5h9M264 383.5h3M309 383.5h9M519 383.5h9M240 386.5h3M264 386.5h3M312 386.5h6M519 386.5h9M261 389.5h3M519 389.5h12M582 389.5h9M261 392.5h3M519 392.5h24M579 392.5h18M237 395.5h3M261 395.5h3M519 395.5h27M579 395.5h33M237 398.5h3M519 398.5h30M576 398.5h42M237 401.5h3M516 401.5h33M573 401.5h45M237 404.5h3M264 404.5h3M516 404.5h36M570 404.5h51M237 407.5h3M264 407.5h3M513 407.5h42M564 407.5h78M234 410.5h3M261 410.5h3M513 410.5h36M552 410.5h99M672 410.5h3M231 413.5h3M258 413.5h3M510 413.5h39M552 413.5h132M231 416.5h3M246 416.5h9M510 416.5h36M555 416.5h129M228 419.5h3M243 419.5h3M507 419.5h39M555 419.5h48M612 419.5h21M648 419.5h36M228 422.5h3M240 422.5h3M507 422.5h39M555 422.5h24M585 422.5h18M612 422.5h15M651 422.5h33M228 425.5h12M504 425.5h39M555 425.5h21M588 425.5h12M615 425.5h12M654 425.5h30M228 428.5h9M504 428.5h36M555 428.5h21M588 428.5h12M615 428.5h9M654 428.5h30M228 431.5h6M504 431.5h30M555 431.5h24M588 431.5h12M612 431.5h9M651 431.5h33M504 434.5h24M555 434.5h24M588 434.5h12M609 434.5h12M651 434.5h33M504 437.5h18M555 437.5h27M588 437.5h12M606 437.5h12M651 437.5h33M504 440.5h15M555 440.5h60M651 440.5h9M663 440.5h21M183 443.5h6M507 443.5h9M558 443.5h51M651 443.5h6M663 443.5h21M177 446.5h3M186 446.5h3M510 446.5h3M567 446.5h39M651 446.5h33M189 449.5h3M570 449.5h36M651 449.5h33M168 452.5h3M189 452.5h3M573 452.5h21M597 452.5h9M651 452.5h21M675 452.5h9M165 455.5h3M189 455.5h3M570 455.5h21M600 455.5h6M678 455.5h6M162 458.5h3M189 458.5h3M567 458.5h18M600 458.5h9M159 461.5h3M567 461.5h15M603 461.5h6M567 464.5h15M603 464.5h6M156 467.5h3M192 467.5h3M567 467.5h15M603 467.5h9M192 470.5h3M567 470.5h15M603 470.5h27M120 473.5h3M153 473.5h3M192 473.5h3M567 473.5h18M603 473.5h30M120 476.5h3M150 476.5h3M192 476.5h3M567 476.5h18M606 476.5h27M120 479.5h6M144 479.5h6M192 479.5h6M291 479.5h21M570 479.5h12M609 479.5h27M120 482.5h9M141 482.5h9M192 482.5h3M288 482.5h57M573 482.5h6M627 482.5h12M147 485.5h3M192 485.5h3M285 485.5h9M306 485.5h42M630 485.5h9M147 488.5h3M189 488.5h6M282 488.5h6M321 488.5h27M633 488.5h9M186 491.5h9M270 491.5h15M342 491.5h6M636 491.5h6M180 494.5h9M264 494.5h12M342 494.5h6M636 494.5h9M681 494.5h3M147 497.5h3M177 497.5h9M261 497.5h9M345 497.5h3M636 497.5h9M678 497.5h6M147 500.5h3M174 500.5h9M261 500.5h6M345 500.5h3M636 500.5h9M678 500.5h6M144 503.5h3M174 503.5h6M264 503.5h3M345 503.5h3M594 503.5h12M636 503.5h9M678 503.5h6M141 506.5h6M171 506.5h9M267 506.5h3M345 506.5h3M591 506.5h15M636 506.5h12M678 506.5h6M138 509.5h6M171 509.5h6M267 509.5h3M342 509.5h6M585 509.5h21M636 509.5h12M678 509.5h6M120 512.5h3M132 512.5h3M168 512.5h9M270 512.5h3M342 512.5h6M582 512.5h24M639 512.5h9M678 512.5h6M120 515.5h12M165 515.5h9M270 515.5h6M342 515.5h6M582 515.5h24M639 515.5h9M678 515.5h6M120 518.5h6M162 518.5h9M273 518.5h6M342 518.5h3M582 518.5h24M639 518.5h12M678 518.5h6M159 521.5h9M276 521.5h6M342 521.5h3M579 521.5h27M642 521.5h9M675 521.5h9M156 524.5h6M282 524.5h6M342 524.5h3M579 524.5h24M642 524.5h12M672 524.5h12M153 527.5h3M288 527.5h3M339 527.5h6M582 527.5h21M642 527.5h42M153 530.5h3M291 530.5h3M339 530.5h3M582 530.5h18M642 530.5h42M150 533.5h3M291 533.5h6M336 533.5h6M582 533.5h18M642 533.5h42M150 536.5h3M294 536.5h6M333 536.5h6M642 536.5h42M150 539.5h3M297 539.5h9M333 539.5h6M642 539.5h42M300 542.5h18M330 542.5h6M642 542.5h42M147 545.5h3M198 545.5h3M306 545.5h27M642 545.5h42M147 548.5h3M195 548.5h9M315 548.5h15M639 548.5h45M147 551.5h3M195 551.5h15M225 551.5h12M318 551.5h12M639 551.5h45M150 554.5h3M192 554.5h9M204 554.5h39M315 554.5h15M585 554.5h3M639 554.5h45M153 557.5h6M162 557.5h18M186 557.5h9M210 557.5h15M237 557.5h9M312 557.5h24M579 557.5h15M639 557.5h45M156 560.5h6M174 560.5h15M216 560.5h6M237 560.5h12M306 560.5h33M579 560.5h18M639 560.5h45M177 563.5h9M237 563.5h6M306 563.5h33M576 563.5h21M642 563.5h42M177 566.5h6M237 566.5h3M264 566.5h3M303 566.5h36M576 566.5h21M645 566.5h39"/><path stroke="#ff2800" d="M495 113.5h3M543 113.5h12M489 116.5h21M528 116.5h9M483 119.5h6M507 119.5h21M555 119.5h3M477 122.5h6M468 125.5h9M459 128.5h6M456 131.5h6M555 131.5h3M456 134.5h3M555 134.5h3M453 137.5h6M555 137.5h3M426 140.5h12M453 140.5h3M555 140.5h3M423 143.5h24M450 143.5h6M552 143.5h6M417 146.5h39M549 146.5h6M408 149.5h45M549 149.5h3M402 152.5h9M423 152.5h12M546 152.5h3M396 155.5h6M546 155.5h3M384 158.5h15M546 158.5h3M375 161.5h6M363 164.5h12M543 164.5h3M360 167.5h3M543 167.5h3M357 170.5h6M543 170.5h3M354 173.5h6M543 173.5h3M351 176.5h6M543 176.5h3M348 179.5h6M543 179.5h3M345 182.5h6M543 182.5h3M339 185.5h6M543 185.5h3M327 188.5h15M324 191.5h6M540 191.5h3M324 194.5h3M537 194.5h3M324 197.5h3M534 197.5h3M327 200.5h3M534 200.5h3M327 203.5h3M531 203.5h3M327 206.5h3M525 206.5h3M324 209.5h6M324 212.5h6M516 212.5h3M324 215.5h3M510 215.5h3M321 218.5h6M507 218.5h3M321 221.5h9M504 221.5h3M327 224.5h6M333 227.5h3M498 227.5h3M336 230.5h3M306 233.5h6M339 233.5h3M495 233.5h3M303 236.5h9M492 236.5h3M300 239.5h12M342 239.5h3M489 239.5h3M300 242.5h12M486 242.5h3M297 245.5h6M309 245.5h3M345 245.5h3M483 245.5h3M291 248.5h9M309 248.5h6M480 248.5h3M291 251.5h6M309 251.5h3M348 251.5h3M291 254.5h6M309 254.5h3M291 257.5h6M309 257.5h3M291 260.5h6M309 260.5h3M354 260.5h3M294 263.5h6M303 263.5h6M468 263.5h3M357 266.5h3M357 269.5h3M357 272.5h3M465 272.5h3M276 278.5h12M354 278.5h3M462 278.5h3M273 281.5h18M351 281.5h3M462 281.5h3M273 284.5h6M285 284.5h6M351 284.5h3M270 287.5h6M288 287.5h3M348 287.5h6M459 287.5h3M270 290.5h3M345 290.5h3M369 290.5h6M378 290.5h3M270 293.5h3M291 293.5h3M342 293.5h3M366 293.5h3M381 293.5h3M456 293.5h3M270 296.5h3M291 296.5h3M339 296.5h3M369 296.5h3M396 296.5h3M414 296.5h3M270 299.5h3M291 299.5h3M339 299.5h3M384 299.5h3M393 299.5h3M453 299.5h3M267 302.5h6M291 302.5h6M336 302.5h3M372 302.5h3M417 302.5h3M450 302.5h3M267 305.5h3M291 305.5h3M336 305.5h3M372 305.5h3M267 308.5h3M291 308.5h3M333 308.5h3M372 308.5h3M267 311.5h3M291 311.5h3M330 311.5h3M369 311.5h3M444 311.5h3M267 314.5h3M291 314.5h3M327 314.5h3M444 314.5h3M267 317.5h3M291 317.5h3M324 317.5h3M363 317.5h3M417 317.5h3M288 320.5h6M324 320.5h3M417 320.5h3M288 323.5h3M441 323.5h3M288 326.5h3M321 326.5h3M438 326.5h3M270 329.5h3M285 329.5h6M351 329.5h3M420 329.5h3M435 329.5h3M270 332.5h3M285 332.5h6M318 332.5h3M348 332.5h3M432 332.5h3M270 335.5h3M285 335.5h6M315 335.5h3M345 335.5h3M270 338.5h6M285 338.5h6M315 338.5h3M342 338.5h3M270 341.5h6M285 341.5h6M312 341.5h3M339 341.5h3M270 344.5h6M285 344.5h9M312 344.5h3M336 344.5h3M270 347.5h9M285 347.5h9M309 347.5h3M336 347.5h3M270 350.5h24M306 350.5h3M333 350.5h3M273 353.5h24M303 353.5h6M333 353.5h3M276 356.5h21M300 356.5h6M333 356.5h3M297 359.5h9M333 359.5h3M300 362.5h3M330 362.5h6M300 365.5h3M327 365.5h3M300 368.5h6M321 368.5h6M303 371.5h6M318 371.5h3M249 374.5h6M306 374.5h3M312 374.5h6M246 377.5h3M255 377.5h6M306 377.5h9M258 380.5h6M309 380.5h6M243 383.5h3M261 383.5h3M243 386.5h3M261 386.5h3M240 389.5h3M240 392.5h3M261 398.5h3M261 401.5h3M261 404.5h3M261 407.5h3M237 410.5h3M258 410.5h3M234 413.5h24M234 416.5h12M231 419.5h12M633 419.5h15M231 422.5h9M579 422.5h6M627 422.5h24M576 425.5h12M627 425.5h27M576 428.5h12M624 428.5h30M579 431.5h9M621 431.5h30M579 434.5h9M621 434.5h30M582 437.5h6M618 437.5h33M615 440.5h36M609 443.5h18M633 443.5h18M180 446.5h6M606 446.5h15M636 446.5h15M174 449.5h3M186 449.5h3M606 449.5h12M636 449.5h15M171 452.5h3M186 452.5h3M606 452.5h12M633 452.5h18M672 452.5h3M168 455.5h3M606 455.5h72M165 458.5h3M609 458.5h75M162 461.5h3M189 461.5h3M609 461.5h75M159 464.5h3M189 464.5h3M609 464.5h75M159 467.5h3M189 467.5h3M612 467.5h72M156 470.5h3M189 470.5h3M630 470.5h54M156 473.5h3M189 473.5h3M633 473.5h51M153 476.5h3M189 476.5h3M633 476.5h21M660 476.5h24M150 479.5h3M189 479.5h3M636 479.5h18M666 479.5h18M150 482.5h3M189 482.5h3M639 482.5h15M666 482.5h18M150 485.5h3M186 485.5h6M294 485.5h12M639 485.5h15M663 485.5h21M150 488.5h3M180 488.5h9M288 488.5h33M642 488.5h15M663 488.5h21M150 491.5h3M174 491.5h12M285 491.5h57M642 491.5h42M150 494.5h3M168 494.5h12M276 494.5h15M312 494.5h30M645 494.5h36M150 497.5h3M165 497.5h12M270 497.5h15M339 497.5h6M645 497.5h33M150 500.5h3M165 500.5h9M267 500.5h15M339 500.5h6M645 500.5h33M147 503.5h3M162 503.5h12M267 503.5h12M339 503.5h6M645 503.5h33M147 506.5h3M162 506.5h9M270 506.5h9M339 506.5h6M648 506.5h30M144 509.5h3M162 509.5h9M270 509.5h9M339 509.5h3M648 509.5h30M135 512.5h9M159 512.5h9M273 512.5h6M336 512.5h6M648 512.5h30M132 515.5h3M156 515.5h9M276 515.5h6M336 515.5h6M648 515.5h30M126 518.5h6M153 518.5h9M279 518.5h6M336 518.5h6M651 518.5h27M120 521.5h9M150 521.5h9M282 521.5h9M336 521.5h6M651 521.5h24M120 524.5h9M150 524.5h6M288 524.5h6M336 524.5h6M654 524.5h18M120 527.5h6M150 527.5h3M291 527.5h6M336 527.5h3M120 530.5h6M150 530.5h3M294 530.5h6M333 530.5h6M297 533.5h6M330 533.5h6M147 536.5h3M300 536.5h9M327 536.5h6M147 539.5h3M306 539.5h27M147 542.5h3M318 542.5h12M144 548.5h3M144 551.5h3M147 554.5h3M201 554.5h3M147 557.5h6M195 557.5h15M225 557.5h12M150 560.5h6M162 560.5h12M189 560.5h27M222 560.5h15M150 563.5h27M186 563.5h51M150 566.5h27M183 566.5h54"/><path stroke="#ff1800" d="M537 116.5h18M489 119.5h18M528 119.5h6M552 119.5h3M483 122.5h9M501 122.5h27M555 122.5h3M477 125.5h9M555 125.5h3M465 128.5h12M555 128.5h3M462 131.5h3M552 131.5h3M459 134.5h3M552 134.5h3M459 137.5h3M552 137.5h3M456 140.5h6M552 140.5h3M456 143.5h3M549 143.5h3M456 146.5h3M546 146.5h3M453 149.5h3M546 149.5h3M411 152.5h12M435 152.5h18M402 155.5h9M423 155.5h27M543 155.5h3M399 158.5h6M426 158.5h15M543 158.5h3M381 161.5h18M432 161.5h6M543 161.5h3M375 164.5h6M363 167.5h15M540 167.5h3M363 170.5h12M540 170.5h3M360 173.5h6M540 173.5h3M357 176.5h6M540 176.5h3M354 179.5h6M540 179.5h3M351 182.5h6M540 182.5h3M345 185.5h6M540 185.5h3M342 188.5h6M540 188.5h3M330 191.5h12M537 191.5h3M327 194.5h12M534 194.5h3M327 197.5h9M330 200.5h6M531 200.5h3M330 203.5h6M528 203.5h3M330 206.5h6M330 209.5h3M519 209.5h3M330 212.5h3M513 212.5h3M327 215.5h6M327 218.5h6M330 221.5h3M333 224.5h3M501 224.5h3M336 227.5h3M495 230.5h3M342 236.5h3M345 242.5h3M303 245.5h6M300 248.5h9M348 248.5h3M297 251.5h12M477 251.5h3M297 254.5h12M351 254.5h3M474 254.5h3M297 257.5h12M354 257.5h3M471 257.5h3M297 260.5h12M300 263.5h3M357 263.5h3M360 266.5h3M360 269.5h3M465 269.5h3M360 272.5h3M357 275.5h3M462 275.5h3M357 278.5h3M354 281.5h3M279 284.5h6M354 284.5h6M459 284.5h3M276 287.5h12M354 287.5h9M369 287.5h12M273 290.5h18M348 290.5h21M381 290.5h3M456 290.5h3M273 293.5h6M282 293.5h9M345 293.5h6M360 293.5h6M384 293.5h3M399 293.5h15M273 296.5h18M342 296.5h3M366 296.5h3M384 296.5h3M453 296.5h3M273 299.5h18M369 299.5h3M387 299.5h6M417 299.5h3M273 302.5h18M339 302.5h3M420 302.5h3M270 305.5h6M282 305.5h9M420 305.5h3M447 305.5h3M270 308.5h3M285 308.5h6M336 308.5h3M369 308.5h3M420 308.5h3M270 311.5h3M285 311.5h6M333 311.5h3M420 311.5h3M270 314.5h3M288 314.5h3M330 314.5h3M366 314.5h3M420 314.5h3M270 317.5h3M288 317.5h3M327 317.5h3M360 317.5h3M441 317.5h3M270 320.5h3M285 320.5h3M327 320.5h3M357 320.5h3M441 320.5h3M270 323.5h3M285 323.5h3M324 323.5h3M354 323.5h3M270 326.5h3M285 326.5h3M324 326.5h3M351 326.5h3M420 326.5h3M273 329.5h3M282 329.5h3M321 329.5h3M423 329.5h3M273 332.5h3M282 332.5h3M426 332.5h6M273 335.5h12M318 335.5h3M276 338.5h9M339 338.5h3M276 341.5h9M315 341.5h3M336 341.5h3M276 344.5h9M315 344.5h3M333 344.5h3M279 347.5h6M312 347.5h3M333 347.5h3M309 350.5h6M309 353.5h3M330 353.5h3M306 356.5h3M330 356.5h3M306 359.5h3M330 359.5h3M303 362.5h6M327 362.5h3M303 365.5h6M321 365.5h6M306 368.5h15M309 371.5h9M309 374.5h3M249 377.5h6M246 380.5h12M246 383.5h6M255 383.5h6M246 386.5h3M258 386.5h3M243 389.5h3M258 389.5h3M243 392.5h3M258 392.5h3M240 395.5h3M258 395.5h3M240 398.5h3M258 398.5h3M240 401.5h3M258 401.5h3M240 404.5h3M258 404.5h3M240 407.5h6M258 407.5h3M240 410.5h18M627 443.5h6M621 446.5h15M177 449.5h9M618 449.5h18M174 452.5h3M618 452.5h15M171 455.5h3M186 455.5h3M186 458.5h3M165 461.5h3M186 461.5h3M162 464.5h3M186 464.5h3M162 467.5h3M159 470.5h3M159 473.5h3M186 473.5h3M156 476.5h6M186 476.5h3M654 476.5h6M153 479.5h6M183 479.5h6M654 479.5h12M153 482.5h6M183 482.5h6M654 482.5h12M153 485.5h6M177 485.5h9M654 485.5h9M153 488.5h6M165 488.5h15M657 488.5h6M153 491.5h21M153 494.5h15M291 494.5h21M153 497.5h12M285 497.5h54M153 500.5h12M282 500.5h57M150 503.5h12M279 503.5h21M309 503.5h30M150 506.5h12M279 506.5h21M315 506.5h24M147 509.5h15M279 509.5h18M318 509.5h21M144 512.5h15M279 512.5h18M324 512.5h12M135 515.5h21M282 515.5h15M327 515.5h9M132 518.5h6M144 518.5h9M285 518.5h12M327 518.5h9M129 521.5h6M147 521.5h3M291 521.5h6M330 521.5h6M129 524.5h3M147 524.5h3M294 524.5h6M330 524.5h6M126 527.5h6M147 527.5h3M297 527.5h6M327 527.5h9M126 530.5h3M147 530.5h3M300 530.5h6M324 530.5h9M120 533.5h9M147 533.5h3M303 533.5h27M309 536.5h18M144 539.5h3M144 542.5h3M144 545.5h3M120 554.5h3M144 554.5h3M120 557.5h6M141 557.5h6M120 560.5h30M120 563.5h30M120 566.5h30"/><path stroke="#ff0800" d="M534 119.5h18M492 122.5h9M528 122.5h9M552 122.5h3M486 125.5h45M552 125.5h3M477 128.5h9M552 128.5h3M465 131.5h9M549 131.5h3M462 134.5h6M549 134.5h3M462 137.5h3M549 137.5h3M462 140.5h3M549 140.5h3M459 143.5h3M546 143.5h3M459 146.5h3M543 146.5h3M456 149.5h3M543 149.5h3M453 152.5h6M543 152.5h3M411 155.5h12M450 155.5h6M405 158.5h12M420 158.5h6M441 158.5h12M540 158.5h3M399 161.5h9M426 161.5h6M438 161.5h12M540 161.5h3M381 164.5h21M429 164.5h18M537 164.5h6M378 167.5h6M429 167.5h15M534 167.5h6M375 170.5h6M432 170.5h9M534 170.5h6M366 173.5h12M432 173.5h6M537 173.5h3M363 176.5h12M537 176.5h3M360 179.5h9M537 179.5h3M357 182.5h6M351 185.5h6M537 185.5h3M348 188.5h6M537 188.5h3M342 191.5h9M534 191.5h3M339 194.5h6M336 197.5h6M531 197.5h3M336 200.5h6M336 203.5h3M525 203.5h3M336 206.5h3M522 206.5h3M333 209.5h6M516 209.5h3M333 212.5h6M333 215.5h3M507 215.5h3M333 218.5h3M504 218.5h3M333 221.5h3M336 224.5h3M498 224.5h3M339 230.5h3M342 233.5h3M492 233.5h3M345 236.5h3M489 236.5h3M345 239.5h3M486 239.5h3M348 242.5h3M483 242.5h3M348 245.5h3M480 245.5h3M351 248.5h3M351 251.5h3M354 254.5h3M357 260.5h3M468 260.5h3M360 263.5h3M363 266.5h3M465 266.5h3M363 269.5h3M462 272.5h3M360 275.5h3M357 281.5h6M459 281.5h3M360 284.5h6M375 284.5h3M363 287.5h6M381 287.5h3M456 287.5h3M384 290.5h3M279 293.5h3M351 293.5h9M396 293.5h3M414 293.5h3M453 293.5h3M345 296.5h3M360 296.5h6M387 296.5h9M417 296.5h3M342 299.5h3M366 299.5h3M420 299.5h3M450 299.5h3M342 302.5h3M369 302.5h3M276 305.5h6M339 305.5h3M369 305.5h3M273 308.5h12M444 308.5h3M273 311.5h12M336 311.5h3M366 311.5h3M273 314.5h3M282 314.5h6M333 314.5h3M363 314.5h3M441 314.5h3M273 317.5h3M282 317.5h6M330 317.5h3M357 317.5h3M420 317.5h3M273 320.5h3M282 320.5h3M354 320.5h3M420 320.5h3M273 323.5h3M279 323.5h6M327 323.5h3M351 323.5h3M420 323.5h3M438 323.5h3M273 326.5h12M435 326.5h3M276 329.5h6M324 329.5h3M348 329.5h3M432 329.5h3M276 332.5h6M321 332.5h3M345 332.5h3M321 335.5h3M342 335.5h3M318 338.5h3M336 338.5h3M318 341.5h3M330 341.5h6M318 344.5h3M327 344.5h6M315 347.5h6M327 347.5h6M315 350.5h3M327 350.5h6M312 353.5h3M327 353.5h3M309 356.5h6M327 356.5h3M309 359.5h3M324 359.5h6M309 362.5h6M321 362.5h6M309 365.5h12M252 383.5h3M249 386.5h9M246 389.5h12M246 392.5h3M255 392.5h3M243 395.5h3M243 398.5h3M243 401.5h3M243 404.5h3M246 407.5h12M177 452.5h9M174 455.5h3M183 455.5h3M168 458.5h3M183 458.5h3M168 461.5h3M165 464.5h3M165 467.5h3M186 467.5h3M162 470.5h3M186 470.5h3M162 473.5h3M183 473.5h3M162 476.5h3M183 476.5h3M159 479.5h6M180 479.5h3M159 482.5h9M174 482.5h9M159 485.5h18M159 488.5h6M300 503.5h9M300 506.5h15M297 509.5h21M297 512.5h27M297 515.5h9M315 515.5h12M138 518.5h6M297 518.5h6M318 518.5h9M135 521.5h12M297 521.5h9M321 521.5h9M132 524.5h6M141 524.5h6M300 524.5h6M321 524.5h9M132 527.5h3M141 527.5h6M303 527.5h6M318 527.5h9M129 530.5h6M144 530.5h3M306 530.5h18M129 533.5h3M144 533.5h3M120 536.5h12M144 536.5h3M120 539.5h12M120 542.5h12M141 542.5h3M120 545.5h12M141 545.5h3M120 548.5h12M141 548.5h3M120 551.5h15M138 551.5h6M123 554.5h21M126 557.5h15"/><path stroke="#f70000" d="M537 122.5h15M531 125.5h9M546 125.5h6M486 128.5h18M516 128.5h15M546 128.5h6M474 131.5h12M546 131.5h3M468 134.5h9M546 134.5h3M465 137.5h6M546 137.5h3M465 140.5h3M546 140.5h3M462 143.5h6M543 143.5h3M462 146.5h3M459 149.5h6M540 149.5h3M459 152.5h3M540 152.5h3M456 155.5h3M540 155.5h3M417 158.5h3M453 158.5h3M537 158.5h3M408 161.5h18M450 161.5h6M534 161.5h6M402 164.5h9M423 164.5h6M447 164.5h6M531 164.5h6M384 167.5h18M426 167.5h3M444 167.5h9M528 167.5h6M381 170.5h15M426 170.5h6M441 170.5h9M528 170.5h6M378 173.5h9M426 173.5h6M438 173.5h12M531 173.5h6M375 176.5h6M429 176.5h18M534 176.5h3M369 179.5h9M432 179.5h12M363 182.5h9M537 182.5h3M357 185.5h9M354 188.5h6M351 191.5h6M345 194.5h9M531 194.5h3M342 197.5h9M342 200.5h6M528 200.5h3M339 203.5h6M339 206.5h3M519 206.5h3M339 209.5h3M339 212.5h3M510 212.5h3M336 215.5h6M336 218.5h6M336 221.5h6M501 221.5h3M339 224.5h3M339 227.5h6M495 227.5h3M342 230.5h3M345 233.5h3M348 239.5h3M351 245.5h3M477 248.5h3M354 251.5h3M474 251.5h3M471 254.5h3M357 257.5h3M468 257.5h3M360 260.5h3M363 263.5h3M465 263.5h3M366 269.5h3M462 269.5h3M363 272.5h3M363 275.5h3M360 278.5h3M459 278.5h3M363 281.5h3M366 284.5h9M378 284.5h6M384 287.5h3M408 290.5h3M387 293.5h3M393 293.5h3M348 296.5h12M450 296.5h3M345 299.5h3M363 299.5h3M366 302.5h3M423 302.5h3M447 302.5h3M342 305.5h3M366 305.5h3M423 305.5h3M444 305.5h3M339 308.5h3M366 308.5h3M423 308.5h3M363 311.5h3M423 311.5h3M441 311.5h3M276 314.5h6M360 314.5h3M276 317.5h6M333 317.5h3M276 320.5h6M330 320.5h3M438 320.5h3M276 323.5h3M330 323.5h3M327 326.5h3M348 326.5h3M423 326.5h3M345 329.5h3M426 329.5h6M324 332.5h3M342 332.5h3M324 335.5h3M339 335.5h3M321 338.5h15M321 341.5h9M321 344.5h6M321 347.5h6M318 350.5h9M315 353.5h12M315 356.5h12M312 359.5h12M315 362.5h6M249 392.5h6M246 395.5h12M246 398.5h3M255 398.5h3M246 401.5h3M255 401.5h3M246 404.5h12M177 455.5h6M171 458.5h6M180 458.5h3M171 461.5h3M183 461.5h3M168 464.5h3M183 464.5h3M168 467.5h3M183 467.5h3M165 470.5h3M183 470.5h3M165 473.5h3M180 473.5h3M165 476.5h3M177 476.5h6M165 479.5h15M168 482.5h6M306 515.5h9M303 518.5h15M306 521.5h15M138 524.5h3M306 524.5h15M135 527.5h6M309 527.5h9M135 530.5h9M132 533.5h12M132 536.5h12M132 539.5h12M132 542.5h9M132 545.5h9M132 548.5h9M135 551.5h3"/><path stroke="#e70000" d="M540 125.5h6M504 128.5h12M531 128.5h15M486 131.5h15M525 131.5h21M477 134.5h12M543 134.5h3M471 137.5h12M543 137.5h3M468 140.5h9M540 140.5h6M468 143.5h6M540 143.5h3M465 146.5h6M540 146.5h3M465 149.5h3M537 149.5h3M462 152.5h3M537 152.5h3M459 155.5h6M534 155.5h6M456 158.5h6M534 158.5h3M456 161.5h3M528 161.5h6M411 164.5h12M453 164.5h6M525 164.5h6M402 167.5h24M453 167.5h3M522 167.5h6M396 170.5h9M417 170.5h9M450 170.5h6M522 170.5h6M387 173.5h12M420 173.5h6M450 173.5h3M528 173.5h3M381 176.5h12M426 176.5h3M447 176.5h6M531 176.5h3M378 179.5h9M429 179.5h3M444 179.5h6M534 179.5h3M372 182.5h6M432 182.5h15M534 182.5h3M366 185.5h9M435 185.5h6M534 185.5h3M360 188.5h9M534 188.5h3M357 191.5h9M531 191.5h3M354 194.5h6M351 197.5h9M528 197.5h3M348 200.5h9M525 200.5h3M345 203.5h9M522 203.5h3M342 206.5h6M342 209.5h6M513 209.5h3M342 212.5h6M507 212.5h3M342 215.5h3M504 215.5h3M342 218.5h3M342 221.5h3M342 224.5h6M495 224.5h3M345 227.5h3M345 230.5h3M492 230.5h3M348 233.5h3M489 233.5h3M348 236.5h3M486 236.5h3M351 239.5h3M483 239.5h3M351 242.5h3M480 242.5h3M354 245.5h3M354 248.5h3M357 251.5h3M357 254.5h3M360 257.5h3M363 260.5h3M465 260.5h3M366 263.5h3M366 266.5h3M462 266.5h3M366 272.5h3M366 275.5h3M459 275.5h3M363 278.5h6M366 281.5h15M456 281.5h3M384 284.5h3M456 284.5h3M387 290.5h3M396 290.5h12M411 290.5h6M453 290.5h3M390 293.5h3M417 293.5h3M420 296.5h3M348 299.5h15M423 299.5h3M447 299.5h3M345 302.5h3M363 302.5h3M363 305.5h3M342 308.5h3M363 308.5h3M441 308.5h3M339 311.5h3M360 311.5h3M336 314.5h3M357 314.5h3M423 314.5h3M354 317.5h3M423 317.5h3M438 317.5h3M333 320.5h3M351 320.5h3M348 323.5h3M423 323.5h3M435 323.5h3M330 326.5h3M345 326.5h3M432 326.5h3M327 329.5h3M342 329.5h3M327 332.5h3M339 332.5h3M327 335.5h12M249 398.5h6M249 401.5h6M177 458.5h3M174 461.5h9M171 464.5h3M180 464.5h3M171 467.5h12M168 470.5h15M168 473.5h12M168 476.5h9"/><path stroke="#d70000" d="M501 131.5h24M489 134.5h15M528 134.5h15M483 137.5h6M537 137.5h6M477 140.5h9M537 140.5h3M474 143.5h9M537 143.5h3M471 146.5h9M537 146.5h3M468 149.5h6M534 149.5h3M465 152.5h6M534 152.5h3M465 155.5h3M531 155.5h3M462 158.5h3M528 158.5h6M459 161.5h6M525 161.5h3M459 164.5h3M519 164.5h6M456 167.5h6M519 167.5h3M405 170.5h12M456 170.5h3M519 170.5h3M399 173.5h21M453 173.5h6M522 173.5h6M393 176.5h12M420 176.5h6M453 176.5h3M528 176.5h3M387 179.5h15M426 179.5h3M450 179.5h6M531 179.5h3M378 182.5h18M426 182.5h6M447 182.5h6M375 185.5h9M429 185.5h6M441 185.5h9M369 188.5h12M432 188.5h15M366 191.5h12M435 191.5h3M360 194.5h15M528 194.5h3M360 197.5h12M357 200.5h6M354 203.5h6M348 206.5h9M516 206.5h3M348 209.5h6M510 209.5h3M348 212.5h6M345 215.5h6M345 218.5h6M501 218.5h3M345 221.5h6M498 221.5h3M348 224.5h3M348 227.5h3M492 227.5h3M348 230.5h6M351 233.5h3M351 236.5h6M354 239.5h3M354 242.5h3M357 245.5h3M477 245.5h3M357 248.5h3M474 248.5h3M471 251.5h3M360 254.5h3M468 254.5h3M363 257.5h3M366 260.5h3M369 263.5h3M369 266.5h6M369 269.5h3M369 272.5h3M459 272.5h3M369 275.5h3M369 278.5h6M456 278.5h3M381 281.5h3M387 287.5h3M453 287.5h3M390 290.5h6M417 290.5h3M420 293.5h3M450 293.5h3M423 296.5h3M348 302.5h6M357 302.5h6M426 302.5h3M444 302.5h3M345 305.5h3M360 305.5h3M426 305.5h3M360 308.5h3M426 308.5h3M342 311.5h3M357 311.5h3M426 311.5h3M438 311.5h3M339 314.5h3M354 314.5h3M438 314.5h3M336 317.5h3M351 317.5h3M336 320.5h3M348 320.5h3M423 320.5h3M435 320.5h3M333 323.5h3M345 323.5h3M432 323.5h3M333 326.5h3M342 326.5h3M426 326.5h6M330 329.5h3M339 329.5h3M330 332.5h9M174 464.5h6"/><path stroke="#c70000" d="M504 134.5h24M489 137.5h30M525 137.5h12M486 140.5h6M531 140.5h6M483 143.5h6M531 143.5h6M480 146.5h6M531 146.5h6M474 149.5h9M531 149.5h3M471 152.5h9M528 152.5h6M468 155.5h6M528 155.5h3M465 158.5h6M525 158.5h3M465 161.5h3M519 161.5h6M462 164.5h6M516 164.5h3M462 167.5h3M513 167.5h6M459 170.5h6M516 170.5h3M459 173.5h6M516 173.5h6M405 176.5h15M456 176.5h6M519 176.5h9M402 179.5h12M417 179.5h9M456 179.5h6M528 179.5h3M396 182.5h12M423 182.5h3M453 182.5h6M531 182.5h3M384 185.5h21M426 185.5h3M450 185.5h9M531 185.5h3M381 188.5h18M429 188.5h3M447 188.5h9M531 188.5h3M378 191.5h18M429 191.5h6M438 191.5h12M528 191.5h3M375 194.5h24M432 194.5h12M372 197.5h15M393 197.5h9M435 197.5h3M525 197.5h3M363 200.5h21M393 200.5h9M522 200.5h3M360 203.5h21M396 203.5h6M519 203.5h3M357 206.5h12M513 206.5h3M354 209.5h9M354 212.5h6M504 212.5h3M351 215.5h9M501 215.5h3M351 218.5h6M351 221.5h6M495 221.5h3M351 224.5h6M492 224.5h3M351 227.5h6M354 230.5h6M489 230.5h3M354 233.5h6M486 233.5h3M357 236.5h3M483 236.5h3M357 239.5h6M480 239.5h3M357 242.5h6M477 242.5h3M360 245.5h3M360 248.5h3M360 251.5h3M363 254.5h3M366 257.5h3M465 257.5h3M369 260.5h3M372 263.5h3M462 263.5h3M375 266.5h3M372 269.5h3M459 269.5h3M372 272.5h3M372 275.5h3M456 275.5h3M375 278.5h9M384 281.5h3M387 284.5h3M453 284.5h3M390 287.5h3M396 287.5h21M450 290.5h3M423 293.5h3M426 296.5h3M447 296.5h3M426 299.5h3M444 299.5h3M354 302.5h3M348 305.5h12M441 305.5h3M345 308.5h6M354 308.5h6M438 308.5h3M345 311.5h3M354 311.5h3M342 314.5h3M351 314.5h3M426 314.5h3M339 317.5h3M348 317.5h3M435 317.5h3M339 320.5h3M345 320.5h3M336 323.5h9M426 323.5h6M336 326.5h6M333 329.5h6"/><path stroke="#b70000" d="M519 137.5h6M492 140.5h39M489 143.5h9M525 143.5h6M486 146.5h6M525 146.5h6M483 149.5h6M525 149.5h6M480 152.5h6M525 152.5h3M474 155.5h9M522 155.5h6M471 158.5h9M516 158.5h9M468 161.5h9M510 161.5h9M468 164.5h6M507 164.5h9M465 167.5h6M510 167.5h3M465 170.5h6M510 170.5h6M465 173.5h6M513 173.5h3M462 176.5h9M513 176.5h6M414 179.5h3M462 179.5h9M516 179.5h12M408 182.5h15M459 182.5h12M528 182.5h3M405 185.5h21M459 185.5h12M399 188.5h15M423 188.5h6M456 188.5h12M528 188.5h3M396 191.5h15M423 191.5h6M450 191.5h18M399 194.5h12M426 194.5h6M444 194.5h21M525 194.5h3M387 197.5h6M402 197.5h9M426 197.5h9M438 197.5h18M384 200.5h9M402 200.5h9M429 200.5h21M381 203.5h15M402 203.5h9M429 203.5h15M516 203.5h3M369 206.5h39M432 206.5h9M510 206.5h3M363 209.5h24M393 209.5h12M435 209.5h3M507 209.5h3M360 212.5h18M360 215.5h12M357 218.5h9M498 218.5h3M357 221.5h9M357 224.5h6M357 227.5h6M489 227.5h3M360 230.5h6M360 233.5h6M360 236.5h6M363 239.5h3M363 242.5h3M363 245.5h3M474 245.5h3M363 248.5h3M471 248.5h3M363 251.5h3M468 251.5h3M366 254.5h3M465 254.5h3M369 257.5h6M372 260.5h6M462 260.5h3M375 263.5h6M378 266.5h3M459 266.5h3M375 269.5h6M375 272.5h6M456 272.5h3M375 275.5h9M384 278.5h3M453 278.5h3M387 281.5h3M453 281.5h3M390 284.5h3M393 287.5h3M417 287.5h3M450 287.5h3M420 290.5h6M426 293.5h6M447 293.5h3M429 296.5h3M429 299.5h3M429 302.5h3M441 302.5h3M429 305.5h3M351 308.5h3M429 308.5h3M348 311.5h6M429 311.5h3M435 311.5h3M345 314.5h6M435 314.5h3M342 317.5h6M426 317.5h3M342 320.5h3M426 320.5h3M432 320.5h3"/><path stroke="#a70000" d="M498 143.5h27M492 146.5h33M489 149.5h12M510 149.5h15M486 152.5h9M513 152.5h12M483 155.5h9M510 155.5h12M480 158.5h9M504 158.5h12M477 161.5h6M501 161.5h9M474 164.5h6M501 164.5h6M471 167.5h6M504 167.5h6M471 170.5h6M504 170.5h6M471 173.5h6M507 173.5h6M471 176.5h6M510 176.5h3M471 179.5h6M510 179.5h6M471 182.5h3M513 182.5h15M471 185.5h3M525 185.5h6M414 188.5h9M468 188.5h6M411 191.5h12M468 191.5h6M525 191.5h3M411 194.5h15M465 194.5h9M522 194.5h3M411 197.5h15M456 197.5h18M522 197.5h3M411 200.5h18M450 200.5h21M519 200.5h3M411 203.5h18M444 203.5h21M513 203.5h3M408 206.5h24M441 206.5h15M507 206.5h3M387 209.5h6M405 209.5h30M438 209.5h15M504 209.5h3M378 212.5h72M501 212.5h3M372 215.5h36M423 215.5h24M498 215.5h3M366 218.5h27M426 218.5h15M495 218.5h3M366 221.5h18M492 221.5h3M363 224.5h12M489 224.5h3M363 227.5h9M366 230.5h6M486 230.5h3M366 233.5h6M483 233.5h3M366 236.5h3M480 236.5h3M366 239.5h3M477 239.5h3M366 242.5h3M474 242.5h3M366 245.5h3M471 245.5h3M366 248.5h3M468 248.5h3M366 251.5h6M465 251.5h3M369 254.5h6M375 257.5h6M462 257.5h3M378 260.5h6M459 260.5h3M381 263.5h3M459 263.5h3M381 266.5h6M456 266.5h3M381 269.5h6M456 269.5h3M381 272.5h6M384 275.5h3M453 275.5h3M387 278.5h3M390 281.5h3M450 281.5h3M393 284.5h27M435 284.5h3M450 284.5h3M420 287.5h21M426 290.5h15M447 290.5h3M432 293.5h9M444 293.5h3M432 296.5h6M444 296.5h3M432 299.5h6M441 299.5h3M432 302.5h3M438 302.5h3M432 305.5h3M438 305.5h3M432 308.5h6M432 311.5h3M429 314.5h6M429 317.5h6M429 320.5h3"/><path stroke="#970000" d="M501 149.5h9M495 152.5h18M492 155.5h18M489 158.5h15M483 161.5h18M480 164.5h12M495 164.5h6M477 167.5h9M498 167.5h6M477 170.5h6M498 170.5h6M477 173.5h6M498 173.5h9M477 176.5h6M501 176.5h9M477 179.5h6M504 179.5h6M474 182.5h9M507 182.5h6M474 185.5h6M510 185.5h15M474 188.5h6M513 188.5h15M474 191.5h6M519 191.5h6M474 194.5h6M519 194.5h3M474 197.5h6M516 197.5h6M471 200.5h9M513 200.5h6M465 203.5h12M507 203.5h6M456 206.5h18M504 206.5h3M453 209.5h15M501 209.5h3M450 212.5h15M498 212.5h3M408 215.5h15M447 215.5h12M495 215.5h3M393 218.5h33M441 218.5h15M492 218.5h3M384 221.5h69M489 221.5h3M375 224.5h75M486 224.5h3M372 227.5h27M417 227.5h27M483 227.5h6M372 230.5h24M423 230.5h15M480 230.5h6M372 233.5h18M426 233.5h9M477 233.5h6M369 236.5h18M429 236.5h3M474 236.5h6M369 239.5h15M471 239.5h6M369 242.5h12M468 242.5h6M369 245.5h12M441 245.5h9M468 245.5h3M369 248.5h12M441 248.5h12M465 248.5h3M372 251.5h12M441 251.5h15M462 251.5h3M375 254.5h12M444 254.5h12M459 254.5h6M381 257.5h9M444 257.5h18M384 260.5h6M444 260.5h15M384 263.5h6M444 263.5h15M387 266.5h3M447 266.5h9M387 269.5h3M450 269.5h6M387 272.5h6M438 272.5h18M387 275.5h12M432 275.5h21M390 278.5h21M429 278.5h24M393 281.5h57M420 284.5h15M438 284.5h12M441 287.5h9M441 290.5h6M441 293.5h3M438 296.5h6M438 299.5h3M435 302.5h3M435 305.5h3"/><path stroke="#870000" d="M492 164.5h3M486 167.5h12M483 170.5h15M483 173.5h15M483 176.5h18M483 179.5h21M483 182.5h24M480 185.5h30M480 188.5h33M480 191.5h39M480 194.5h39M480 197.5h36M480 200.5h33M477 203.5h30M474 206.5h30M468 209.5h33M465 212.5h33M459 215.5h36M456 218.5h36M453 221.5h36M450 224.5h36M399 227.5h18M444 227.5h39M396 230.5h27M438 230.5h42M390 233.5h36M435 233.5h42M387 236.5h42M432 236.5h42M384 239.5h87M381 242.5h87M381 245.5h60M450 245.5h18M381 248.5h60M453 248.5h12M384 251.5h57M456 251.5h6M387 254.5h57M456 254.5h3M390 257.5h54M390 260.5h54M390 263.5h54M390 266.5h57M390 269.5h60M393 272.5h45M399 275.5h33M411 278.5h18"/></g></g>
<path d="M307.5 113.1 307.3 113.5 307.1 116.5 307.5 118.2 308.9 119.5 310.5 120.0 312.4 119.5 313.5 119.1 316.5 116.6 316.6 116.5 317.0 113.5 316.5 112.7 313.5 111.1 310.5 110.9 307.5 113.1 M301.5 103.7 300.0 104.5 298.5 106.5 298.0 107.5 297.4 110.5 297.2 113.5 297.1 116.5 297.0 119.5 296.9 122.5 296.8 125.5 296.6 128.5 296.5 131.5 296.3 134.5 296.1 137.5 295.9 140.5 295.7 143.5 295.5 146.3 295.5 146.5 295.3 149.5 295.2 152.5 295.0 155.5 295.0 158.5 295.3 161.5 295.5 162.2 298.5 162.4 299.2 161.5 301.5 159.5 302.3 158.5 304.5 156.1 305.0 155.5 307.5 153.2 308.3 152.5 310.5 150.8 312.3 149.5 313.5 148.3 315.1 146.5 316.5 143.7 316.6 143.5 317.7 140.5 318.6 137.5 319.2 134.5 319.5 132.5 319.7 131.5 320.8 128.5 322.5 125.6 322.6 125.5 324.7 122.5 325.5 121.2 326.9 119.5 328.5 117.1 329.4 116.5 331.5 114.3 333.0 113.5 334.5 111.3 334.8 110.5 334.5 109.6 333.5 107.5 331.5 106.2 329.8 104.5 328.5 104.0 325.5 102.7 322.5 102.1 319.5 102.0 316.5 102.2 313.5 102.4 310.5 102.5 307.5 102.7 304.5 102.9 301.5 103.7 M238.5 143.4 238.2 143.5 235.5 145.2 232.5 146.2 230.6 146.5 229.5 146.9 226.6 149.5 228.7 152.5 229.5 154.2 230.6 155.5 232.5 157.6 234.6 155.5 235.5 154.5 236.5 152.5 238.4 149.5 238.5 149.4 239.6 146.5 240.4 143.5 238.5 143.4 M292.5 175.7 292.1 176.5 292.5 177.1 292.7 176.5 292.5 175.7 M121.5 432.1 124.5 431.5 124.6 431.5 127.5 429.1 128.2 428.5 130.5 426.0 131.0 425.5 131.2 422.5 130.5 420.6 130.0 419.5 129.0 416.5 129.0 413.5 130.3 410.5 130.5 410.3 133.4 407.5 133.5 407.4 136.5 405.7 139.2 404.5 138.6 401.5 136.5 400.1 135.0 398.5 133.5 395.7 133.4 395.5 133.0 392.5 133.5 391.3 134.1 389.5 136.5 387.2 139.0 386.5 139.5 386.3 142.5 386.3 145.5 384.7 146.0 383.5 146.1 380.5 145.5 379.3 142.5 378.0 141.7 377.5 139.5 376.5 137.8 374.5 137.1 371.5 137.5 368.5 139.3 365.5 139.5 365.0 142.5 364.2 144.5 365.5 145.5 365.8 148.5 366.7 149.5 365.5 150.6 362.5 151.0 359.5 150.3 356.5 148.5 355.0 145.5 355.6 142.5 356.0 140.1 353.5 141.0 350.5 142.5 348.7 144.2 347.5 145.5 346.9 148.5 347.2 151.5 347.1 153.0 344.5 154.4 341.5 154.5 341.2 155.1 338.5 155.6 335.5 155.6 332.5 155.4 329.5 155.1 326.5 154.9 323.5 154.6 320.5 154.5 319.6 154.2 317.5 153.9 314.5 153.8 311.5 154.0 308.5 154.5 306.3 154.6 305.5 154.9 302.5 154.5 300.6 154.1 299.5 151.5 296.7 151.3 296.5 148.5 294.5 147.3 293.5 145.5 291.9 144.1 290.5 142.5 288.9 141.1 287.5 139.5 286.0 137.8 284.5 136.5 283.5 133.6 281.5 133.5 281.4 130.5 279.5 129.3 278.5 127.5 276.9 126.0 275.5 124.5 274.1 122.1 272.5 121.5 272.2 M301.5 98.5 301.4 98.5 298.5 99.1 295.5 100.1 292.7 101.5 292.5 101.8 290.6 104.5 290.0 107.5 289.7 110.5 289.5 113.5 289.5 114.1 289.3 116.5 289.0 119.5 288.8 122.5 288.4 125.5 288.1 128.5 287.7 131.5 287.3 134.5 286.9 137.5 286.5 140.5 286.5 140.6 286.1 143.5 285.6 146.5 285.1 149.5 284.6 152.5 284.1 155.5 283.6 158.5 283.5 159.3 283.1 161.5 282.6 164.5 282.1 167.5 281.6 170.5 281.1 173.5 280.5 176.3 280.5 176.5 279.7 179.5 278.9 182.5 278.1 185.5 277.5 187.6 277.2 188.5 276.9 191.5 277.5 193.3 278.7 194.5 280.5 194.9 283.5 194.7 283.9 194.5 286.5 193.2 288.4 191.5 289.5 190.5 290.9 188.5 292.5 186.5 293.1 185.5 295.3 182.5 295.5 182.2 297.3 179.5 298.5 177.6 299.1 176.5 299.9 173.5 300.6 170.5 301.5 168.5 301.9 167.5 303.6 164.5 304.5 163.3 305.8 161.5 307.5 159.3 308.2 158.5 310.5 156.1 311.3 155.5 313.5 153.9 315.7 152.5 316.5 151.9 319.5 149.7 319.8 149.5 322.5 146.8 322.9 146.5 325.5 144.2 326.9 143.5 328.5 142.4 330.6 140.5 331.5 139.0 332.0 137.5 333.1 134.5 334.4 131.5 334.5 131.4 335.7 128.5 337.5 125.8 337.7 125.5 340.5 123.0 341.3 122.5 343.5 120.9 345.6 119.5 346.5 118.6 348.3 116.5 349.4 113.5 349.5 112.7 349.7 110.5 349.5 109.2 349.2 107.5 347.7 104.5 346.5 103.3 344.6 101.5 343.5 100.8 340.5 99.2 338.7 98.5 337.5 98.1 334.5 97.5 331.5 97.2 328.5 96.9 325.5 96.8 322.5 96.9 319.5 97.0 316.5 97.3 313.5 97.7 310.5 98.0 307.5 98.2 304.5 98.3 301.5 98.5 M244.5 134.4 244.4 134.5 241.5 135.8 238.5 137.1 237.7 137.5 235.5 138.4 232.5 139.7 230.0 140.5 229.5 140.6 226.5 141.0 223.5 141.2 220.5 142.1 219.6 143.5 219.7 146.5 220.5 148.3 221.1 149.5 223.4 152.5 223.5 152.6 225.8 155.5 226.5 156.8 227.6 158.5 229.5 161.5 229.5 161.5 232.5 163.0 235.5 162.3 236.3 161.5 238.5 158.5 238.5 158.5 240.4 155.5 241.5 153.7 242.1 152.5 243.6 149.5 244.5 147.9 245.2 146.5 246.8 143.5 247.5 142.3 248.4 140.5 249.4 137.5 249.2 134.5 247.5 133.5 244.5 134.4 M121.5 442.3 124.5 443.2 125.9 443.5 127.5 443.9 128.8 443.5 130.5 441.7 131.1 440.5 132.1 437.5 133.5 435.9 135.6 437.5 136.5 440.0 136.6 440.5 139.4 443.5 139.5 443.5 139.5 443.5 142.5 441.8 143.8 440.5 145.5 438.9 146.7 437.5 148.5 434.8 148.7 434.5 149.8 431.5 150.4 428.5 150.9 425.5 151.5 422.5 151.5 422.3 152.1 419.5 153.1 416.5 154.5 413.5 154.5 413.5 155.8 410.5 157.5 407.9 157.7 407.5 160.2 404.5 160.5 404.1 162.9 401.5 163.5 400.6 164.8 398.5 166.3 395.5 166.5 395.1 167.4 392.5 168.2 389.5 168.9 386.5 169.5 384.0 169.6 383.5 170.2 380.5 170.6 377.5 170.7 374.5 170.8 371.5 170.8 368.5 170.8 365.5 170.9 362.5 171.1 359.5 171.3 356.5 171.5 353.5 171.7 350.5 171.9 347.5 172.1 344.5 172.3 341.5 172.5 338.5 172.5 338.0 172.6 335.5 172.7 332.5 172.7 329.5 172.6 326.5 172.6 323.5 172.5 320.5 172.5 317.5 172.6 314.5 173.0 311.5 173.8 308.5 175.1 305.5 175.5 304.9 176.9 302.5 178.5 300.3 179.1 299.5 181.5 296.5 181.5 296.5 183.8 293.5 184.5 292.5 185.8 290.5 187.3 287.5 187.5 287.0 188.3 284.5 189.2 281.5 190.0 278.5 190.5 276.7 190.8 275.5 191.8 272.5 193.4 269.5 193.5 269.3 196.1 266.5 196.5 266.2 199.5 263.8 199.8 263.5 202.2 260.5 202.5 259.2 202.8 257.5 202.5 255.2 202.4 254.5 201.4 251.5 200.0 248.5 199.5 247.5 198.2 245.5 196.8 242.5 196.5 241.4 195.8 239.5 194.4 236.5 193.5 235.7 191.7 233.5 190.5 232.5 188.8 230.5 187.5 228.6 186.7 227.5 184.8 224.5 184.5 224.1 182.2 221.5 181.5 220.6 179.7 218.5 178.5 216.6 177.7 215.5 175.9 212.5 175.5 212.0 173.6 209.5 172.5 207.7 171.7 206.5 169.8 203.5 169.5 203.1 167.2 200.5 166.5 199.6 164.7 197.5 163.5 195.6 162.7 194.5 160.9 191.5 160.5 191.0 158.6 188.5 157.5 186.7 156.7 185.5 154.8 182.5 154.5 182.1 152.2 179.5 151.5 178.6 149.7 176.5 148.5 174.6 147.7 173.5 145.8 170.5 145.5 170.1 143.2 167.5 142.5 166.6 140.7 164.5 139.5 162.6 138.7 161.5 136.9 158.5 136.5 158.0 134.6 155.5 133.5 153.7 132.7 152.5 130.8 149.5 130.5 149.1 128.2 146.5 127.5 145.6 125.7 143.5 124.5 141.7 123.4 140.5 121.5 138.6 M364.5 68.5 362.6 68.5 361.5 68.5 358.5 70.4 357.7 71.5 356.3 74.5 355.5 76.9 355.4 77.5 355.0 80.5 355.0 83.5 355.5 86.5 355.5 86.6 358.5 88.9 361.5 89.2 364.5 89.4 367.5 89.5 370.5 89.4 373.5 88.9 376.5 87.7 378.2 86.5 379.5 85.1 380.6 83.5 381.1 80.5 380.1 77.5 379.5 76.7 377.3 74.5 376.5 73.8 373.5 71.9 372.6 71.5 370.5 70.4 367.5 69.3 364.5 68.5 364.5 68.5 M322.5 92.3 320.6 92.5 319.5 92.6 316.5 93.0 313.5 93.5 310.5 93.9 307.5 94.3 304.5 94.5 301.5 94.7 298.5 95.1 295.5 95.4 294.0 95.5 292.5 95.6 289.5 95.9 286.5 97.2 285.2 98.5 283.5 101.2 283.4 101.5 282.3 104.5 281.2 107.5 280.5 109.9 280.3 110.5 279.5 113.5 278.8 116.5 278.2 119.5 277.7 122.5 277.5 123.6 277.2 125.5 276.7 128.5 276.2 131.5 275.8 134.5 275.3 137.5 274.8 140.5 274.5 142.4 274.3 143.5 273.8 146.5 273.3 149.5 272.8 152.5 272.3 155.5 271.8 158.5 271.5 160.3 271.3 161.5 270.8 164.5 270.3 167.5 269.8 170.5 269.3 173.5 268.8 176.5 268.5 178.3 268.3 179.5 267.8 182.5 267.3 185.5 266.7 188.5 266.2 191.5 265.7 194.5 265.5 197.5 266.1 200.5 268.5 202.4 271.5 202.8 274.5 202.5 277.5 201.8 280.5 200.9 281.6 200.5 283.5 199.7 286.5 198.1 287.2 197.5 289.5 195.4 290.1 194.5 292.3 191.5 292.5 191.3 294.2 188.5 295.5 186.5 296.2 185.5 298.4 182.5 298.5 182.4 300.6 179.5 301.5 178.0 302.3 176.5 303.4 173.5 304.3 170.5 304.5 170.2 305.7 167.5 307.5 164.8 307.7 164.5 310.0 161.5 310.5 160.9 312.9 158.5 313.5 158.0 316.5 155.8 317.0 155.5 319.5 153.9 321.9 152.5 322.5 152.0 325.5 150.1 326.7 149.5 328.5 148.5 331.5 147.3 333.4 146.5 334.5 145.6 335.9 143.5 336.6 140.5 337.3 137.5 337.5 136.9 338.6 134.5 340.5 131.6 340.6 131.5 343.5 128.5 343.6 128.5 346.5 126.8 349.2 125.5 349.5 125.3 352.5 123.3 353.5 122.5 355.5 120.9 357.0 119.5 358.5 117.3 359.0 116.5 360.0 113.5 360.6 110.5 360.9 107.5 360.7 104.5 359.1 101.5 358.5 100.7 356.8 98.5 355.5 96.7 354.2 95.5 352.5 94.0 349.5 93.5 346.5 93.2 343.5 92.7 342.8 92.5 340.5 92.0 337.5 91.6 334.5 91.5 331.5 91.6 328.5 91.8 325.5 92.0 322.5 92.3 M136.5 95.5 136.2 95.5 133.5 95.6 130.5 96.0 127.5 97.0 124.9 98.5 127.5 100.2 129.3 101.5 130.5 102.2 133.5 103.5 136.5 104.4 139.2 104.5 139.5 104.5 142.5 104.6 145.5 105.0 148.5 105.8 151.5 107.2 152.1 107.5 154.5 108.1 157.5 108.9 160.5 110.3 160.8 110.5 163.5 111.4 166.5 113.0 167.2 113.5 169.5 114.3 172.5 116.0 173.2 116.5 175.5 117.3 178.5 119.0 179.2 119.5 181.5 120.3 184.5 122.0 185.2 122.5 187.5 123.3 190.5 125.0 191.2 125.5 193.5 126.3 196.5 128.0 197.2 128.5 199.5 129.3 202.5 131.0 203.2 131.5 205.5 132.3 208.5 134.1 209.1 134.5 211.5 135.7 213.1 137.5 214.5 139.7 214.8 140.5 215.9 143.5 217.0 146.5 217.5 147.5 218.6 149.5 220.5 152.1 220.8 152.5 223.2 155.5 223.5 155.9 225.2 158.5 226.5 160.7 227.0 161.5 229.5 164.1 230.2 164.5 232.5 165.8 235.5 166.2 238.1 164.5 238.5 164.1 240.4 161.5 241.5 159.8 242.4 158.5 244.1 155.5 244.5 154.8 245.7 152.5 247.1 149.5 247.5 148.6 248.7 146.5 250.2 143.5 250.5 142.8 251.9 140.5 253.5 137.5 253.5 137.5 254.8 134.5 255.3 131.5 255.4 128.5 255.4 125.5 255.7 122.5 256.5 120.9 257.1 119.5 258.9 116.5 259.5 115.5 260.3 113.5 261.8 110.5 262.5 109.4 263.2 107.5 264.7 104.5 265.5 103.2 266.3 101.5 267.9 98.5 265.5 95.8 263.2 95.5 262.5 95.5 259.5 95.5 256.5 95.5 253.5 95.5 250.5 95.5 247.5 95.5 244.5 95.5 241.5 95.5 238.5 95.5 235.5 95.5 232.5 95.5 229.5 95.5 226.5 95.5 223.5 95.5 220.5 95.5 217.5 95.5 214.5 95.5 211.5 95.5 208.5 95.5 205.5 95.5 202.5 95.5 199.5 95.5 196.5 95.5 193.5 95.5 190.5 95.5 187.5 95.5 184.5 95.5 181.5 95.5 178.5 95.5 175.5 95.5 172.5 95.5 169.5 95.5 166.5 95.5 163.5 95.5 160.5 95.5 157.5 95.5 154.5 95.5 151.5 95.5 148.5 95.5 145.5 95.5 142.5 95.5 139.5 95.5 136.5 95.5 M121.5 452.5 124.5 452.0 127.5 451.5 130.5 451.2 133.5 451.0 136.5 450.3 138.5 449.5 139.5 449.0 142.5 447.1 143.3 446.5 145.5 444.5 146.5 443.5 148.5 441.4 149.4 440.5 151.5 438.1 152.0 437.5 153.9 434.5 154.5 433.2 155.2 431.5 155.8 428.5 156.3 425.5 157.0 422.5 157.5 421.1 158.0 419.5 159.1 416.5 160.5 413.6 160.6 413.5 162.5 410.5 163.5 409.3 165.4 407.5 166.5 406.5 168.7 404.5 169.5 403.6 171.3 401.5 172.5 399.9 173.5 398.5 175.5 395.5 175.5 395.5 177.3 392.5 178.5 390.0 178.7 389.5 179.7 386.5 180.5 383.5 181.3 380.5 181.5 379.5 181.8 377.5 182.0 374.5 181.8 371.5 181.6 368.5 181.5 366.9 181.4 365.5 181.3 362.5 181.3 359.5 181.5 356.5 181.5 355.7 181.6 353.5 181.8 350.5 182.0 347.5 182.2 344.5 182.4 341.5 182.6 338.5 182.8 335.5 182.8 332.5 182.8 329.5 182.8 326.5 182.8 323.5 182.9 320.5 183.1 317.5 183.5 314.5 184.2 311.5 184.5 310.8 185.4 308.5 187.1 305.5 187.5 304.9 189.0 302.5 190.5 300.3 191.0 299.5 193.0 296.5 193.5 295.6 194.8 293.5 196.3 290.5 196.5 290.0 197.5 287.5 198.4 284.5 199.3 281.5 199.5 280.7 200.2 278.5 201.2 275.5 202.5 272.7 202.6 272.5 204.6 269.5 205.5 268.6 207.4 266.5 208.5 265.2 209.8 263.5 211.3 260.5 211.5 259.2 211.8 257.5 211.9 254.5 211.8 251.5 211.5 250.3 211.1 248.5 209.7 245.5 208.5 243.8 207.8 242.5 206.5 239.5 206.1 236.5 206.4 233.5 207.0 230.5 208.0 227.5 208.5 226.2 209.0 224.5 209.0 221.5 208.5 221.0 205.5 221.5 205.5 221.5 202.5 222.7 199.5 223.8 197.6 224.5 196.5 225.0 194.8 224.5 193.5 224.0 191.7 221.5 190.5 220.1 189.2 218.5 187.5 216.5 186.7 215.5 184.5 212.7 184.4 212.5 182.7 209.5 181.5 207.9 180.6 206.5 178.5 203.7 178.4 203.5 176.7 200.5 175.5 199.0 174.4 197.5 172.5 195.5 171.7 194.5 169.5 191.7 169.4 191.5 167.7 188.5 166.5 186.9 165.6 185.5 163.5 182.7 163.4 182.5 161.7 179.5 160.5 178.0 159.4 176.5 157.5 174.5 156.7 173.5 154.5 170.7 154.4 170.5 152.7 167.5 151.5 166.0 150.4 164.5 148.5 162.5 147.7 161.5 145.5 158.7 145.4 158.5 143.7 155.5 142.5 153.9 141.6 152.5 139.5 149.7 139.4 149.5 137.7 146.5 136.5 145.0 135.4 143.5 133.5 141.5 132.7 140.5 130.5 137.7 130.4 137.5 128.6 134.5 127.5 133.3 125.5 131.5 124.5 130.7 121.5 129.6 M316.9 53.5 317.7 56.5 319.1 59.5 319.5 60.1 321.6 62.5 322.5 63.2 325.5 65.0 327.1 65.5 328.5 66.1 331.5 67.6 332.5 68.5 333.2 71.5 333.0 74.5 332.6 77.5 331.6 80.5 331.5 80.6 328.7 83.5 328.5 83.6 325.5 84.8 322.5 85.9 320.8 86.5 319.5 86.8 316.5 87.5 313.5 88.3 310.5 89.0 308.5 89.5 307.5 89.7 304.5 90.1 301.5 90.6 298.5 91.0 295.5 91.2 292.5 91.1 289.5 90.9 286.5 91.2 283.5 92.4 283.1 92.5 280.5 94.1 277.5 93.3 277.0 92.5 274.5 90.8 271.5 89.9 268.5 89.6 265.5 89.6 262.5 89.6 259.5 89.6 256.5 89.6 253.5 89.6 250.5 89.6 247.5 89.6 244.5 89.6 241.5 89.6 238.5 89.6 235.5 89.6 232.5 89.6 229.5 89.6 226.5 89.6 223.5 89.6 220.5 89.6 217.5 89.6 214.5 89.6 211.5 89.6 208.5 89.6 205.5 89.6 202.5 89.6 199.5 89.6 196.5 89.6 193.5 89.6 190.5 89.6 187.5 89.6 184.5 89.6 181.5 89.6 178.5 89.6 175.5 89.6 172.5 89.6 169.5 89.6 166.5 89.6 163.5 89.6 160.5 89.6 157.5 89.6 154.5 89.6 151.5 89.6 148.5 89.6 145.5 89.6 142.5 89.6 139.5 89.6 136.5 89.6 133.5 89.6 130.5 89.6 127.5 89.6 124.5 89.6 121.5 89.6 M121.5 459.2 124.5 459.2 127.5 458.5 127.6 458.5 130.5 456.6 133.0 455.5 133.5 455.3 136.5 454.0 139.1 452.5 139.5 452.3 142.5 450.4 143.8 449.5 145.5 448.2 147.5 446.5 148.5 445.5 150.6 443.5 151.5 442.6 153.6 440.5 154.5 439.4 156.1 437.5 157.5 435.4 158.1 434.5 159.3 431.5 160.1 428.5 160.5 426.4 160.7 425.5 161.5 422.5 162.5 419.5 163.5 417.1 163.8 416.5 165.5 413.5 166.5 412.3 168.1 410.5 169.5 409.2 171.5 407.5 172.5 406.6 174.8 404.5 175.5 403.7 177.5 401.5 178.5 400.3 180.0 398.5 181.5 396.5 182.3 395.5 184.2 392.5 184.5 391.8 185.4 389.5 186.4 386.5 187.5 383.9 187.7 383.5 189.4 380.5 190.5 377.6 190.5 377.5 190.9 374.5 190.9 371.5 190.7 368.5 190.5 366.1 190.5 365.5 190.4 362.5 190.5 359.5 190.5 359.4 190.7 356.5 191.0 353.5 191.3 350.5 191.6 347.5 192.0 344.5 192.3 341.5 192.5 338.5 192.6 335.5 192.5 332.5 192.2 329.5 192.0 326.5 191.9 323.5 192.0 320.5 192.3 317.5 192.8 314.5 193.5 312.0 193.6 311.5 194.9 308.5 196.5 305.7 196.6 305.5 198.5 302.5 199.5 300.8 200.2 299.5 201.8 296.5 202.5 295.0 203.1 293.5 204.3 290.5 205.3 287.5 205.5 286.9 206.3 284.5 207.3 281.5 208.5 278.5 208.5 278.4 209.6 275.5 211.1 272.5 211.5 271.9 213.1 269.5 214.5 267.8 215.5 266.5 217.5 264.1 218.0 263.5 220.0 260.5 220.5 259.3 221.4 257.5 222.4 254.5 223.1 251.5 223.4 248.5 222.9 245.5 220.9 242.5 220.5 242.2 217.5 240.3 216.3 239.5 214.5 238.5 212.6 236.5 211.5 233.5 211.5 233.5 211.5 233.5 211.8 230.5 212.7 227.5 214.1 224.5 214.5 223.7 215.6 221.5 217.2 218.5 217.5 217.9 218.7 215.5 220.3 212.5 220.5 212.1 221.8 209.5 223.5 206.5 223.5 206.5 225.0 203.5 226.5 200.8 226.6 200.5 228.0 197.5 229.5 194.7 229.6 194.5 230.9 191.5 232.5 188.8 232.7 188.5 234.0 185.5 235.5 182.9 235.7 182.5 236.7 179.5 235.5 176.9 233.6 179.5 232.5 180.3 231.2 182.5 229.5 184.4 229.0 185.5 227.3 188.5 226.5 189.4 225.5 191.5 223.5 193.9 223.1 194.5 220.5 197.4 220.4 197.5 218.5 200.5 217.5 201.9 216.7 203.5 214.7 206.5 214.5 206.8 212.7 209.5 211.5 210.8 210.2 212.5 208.5 214.4 207.3 215.5 205.5 216.9 202.5 217.6 199.5 216.8 198.0 215.5 196.5 213.7 195.6 212.5 194.0 209.5 193.5 208.3 192.4 206.5 191.0 203.5 190.5 202.4 189.4 200.5 188.0 197.5 187.5 196.4 186.3 194.5 184.7 191.5 184.5 191.3 182.4 188.5 181.5 186.9 180.5 185.5 179.0 182.5 178.5 181.4 177.4 179.5 176.0 176.5 175.5 175.4 174.4 173.5 173.0 170.5 172.5 169.4 171.3 167.5 169.7 164.5 169.5 164.3 167.4 161.5 166.5 159.9 165.5 158.5 164.0 155.5 163.5 154.4 162.4 152.5 161.0 149.5 160.5 148.4 159.3 146.5 157.7 143.5 157.5 143.3 155.4 140.5 154.5 138.9 153.5 137.5 152.0 134.5 151.5 133.4 150.4 131.5 149.0 128.5 148.5 127.3 147.4 125.5 146.1 122.5 145.5 120.9 144.8 119.5 143.8 116.5 143.8 113.5 145.5 112.1 148.5 111.8 151.5 112.3 154.5 113.1 155.7 113.5 157.5 114.0 160.5 115.1 163.2 116.5 163.5 116.7 166.5 118.0 169.2 119.5 169.5 119.6 172.5 121.0 175.2 122.5 175.5 122.6 178.5 124.0 181.2 125.5 181.5 125.6 184.5 127.0 187.2 128.5 187.5 128.6 190.5 130.0 193.2 131.5 193.5 131.6 196.5 133.0 199.2 134.5 199.5 134.6 202.5 136.0 205.2 137.5 205.5 137.7 208.5 139.2 210.2 140.5 211.5 141.5 213.0 143.5 214.5 145.8 214.8 146.5 216.4 149.5 217.5 151.1 218.5 152.5 220.5 154.8 221.1 155.5 223.2 158.5 223.5 159.0 224.9 161.5 226.5 163.6 227.4 164.5 229.5 166.4 231.3 167.5 232.5 168.7 235.3 170.5 235.5 171.1 237.6 173.5 237.6 176.5 238.5 176.6 238.6 176.5 240.1 173.5 241.5 172.5 242.8 170.5 244.5 168.1 244.9 167.5 246.8 164.5 247.5 163.4 248.9 161.5 250.5 159.0 251.0 158.5 253.5 155.5 253.5 155.5 256.5 153.5 258.5 155.5 259.1 158.5 259.0 161.5 258.7 164.5 258.3 167.5 257.9 170.5 257.4 173.5 256.9 176.5 256.5 179.2 256.5 179.5 256.0 182.5 255.5 185.5 255.0 188.5 254.5 191.5 254.0 194.5 253.6 197.5 253.5 199.1 253.4 200.5 253.4 203.5 253.5 203.8 254.0 206.5 256.5 209.4 256.7 209.5 259.5 210.1 262.5 210.2 265.5 209.9 267.6 209.5 268.5 209.3 271.5 208.5 274.5 207.5 277.2 206.5 277.5 206.4 280.5 205.1 283.5 203.7 283.8 203.5 286.5 202.0 288.3 200.5 289.5 199.4 291.0 197.5 292.5 195.5 293.1 194.5 294.9 191.5 295.5 190.6 296.8 188.5 298.5 186.0 298.9 185.5 301.3 182.5 301.5 182.2 303.6 179.5 304.5 178.0 305.4 176.5 306.7 173.5 307.5 171.3 307.8 170.5 309.5 167.5 310.5 166.1 311.7 164.5 313.5 162.4 314.4 161.5 316.5 159.6 317.9 158.5 319.5 157.4 322.5 155.5 322.5 155.5 325.5 153.7 328.0 152.5 328.5 152.2 331.5 151.1 334.5 150.1 335.7 149.5 337.5 148.3 339.2 146.5 340.4 143.5 340.5 142.7 341.0 140.5 342.2 137.5 343.5 135.6 345.4 134.5 346.5 133.9 349.5 133.9 352.5 134.5 355.5 132.8 356.2 131.5 357.8 128.5 358.5 127.7 360.3 125.5 361.5 124.5 363.6 122.5 364.5 121.5 366.3 119.5 367.5 118.1 369.1 116.5 370.5 115.0 372.4 113.5 373.5 112.5 376.5 110.6 376.6 110.5 379.5 108.5 380.7 107.5 381.9 104.5 382.0 101.5 382.3 98.5 382.5 98.1 383.7 95.5 385.5 93.5 386.4 92.5 388.5 90.5 389.5 89.5 391.5 87.3 392.1 86.5 393.8 83.5 394.5 81.4 394.8 80.5 395.6 77.5 396.3 74.5 397.1 71.5 397.5 69.7 397.9 68.5 398.2 65.5 397.5 63.1 397.3 62.5 396.3 59.5 395.9 56.5 396.4 53.5 M309.4 53.5 309.5 56.5 309.6 59.5 309.7 62.5 309.8 65.5 309.9 68.5 310.2 71.5 310.3 74.5 309.8 77.5 307.8 80.5 307.5 80.7 304.5 82.6 302.8 83.5 301.5 84.0 298.5 84.9 295.5 85.6 292.5 85.7 289.5 85.5 286.5 85.6 283.5 86.1 280.5 86.2 277.5 85.7 274.5 85.2 271.5 85.0 268.5 84.9 265.5 84.9 262.5 84.9 259.5 84.9 256.5 84.9 253.5 84.9 250.5 84.9 247.5 84.9 244.5 84.9 241.5 84.9 238.5 84.9 235.5 84.9 232.5 84.9 229.5 84.9 226.5 84.9 223.5 84.9 220.5 84.9 217.5 84.9 214.5 84.9 211.5 84.9 208.5 84.9 205.5 84.9 202.5 84.9 199.5 84.9 196.5 84.9 193.5 84.9 190.5 84.9 187.5 84.9 184.5 84.9 181.5 84.9 178.5 84.9 175.5 84.9 172.5 84.9 169.5 84.9 166.5 84.9 163.5 84.9 160.5 84.9 157.5 84.9 154.5 84.9 151.5 84.9 148.5 84.9 145.5 84.9 142.5 84.9 139.5 84.9 136.5 84.9 133.5 84.9 130.5 84.9 127.5 84.9 124.5 84.9 121.5 84.9 M149.6 116.5 151.5 115.9 154.5 116.1 156.1 116.5 157.5 116.9 160.5 118.2 163.2 119.5 163.5 119.6 166.5 121.2 169.3 122.5 169.5 122.6 172.5 124.2 175.3 125.5 175.5 125.6 178.5 127.2 181.3 128.5 181.5 128.6 184.5 130.2 187.3 131.5 187.5 131.6 190.5 133.2 193.3 134.5 193.5 134.6 196.5 136.2 199.3 137.5 199.5 137.6 202.5 139.2 205.2 140.5 205.5 140.7 208.5 142.5 209.8 143.5 211.5 145.2 212.4 146.5 214.2 149.5 214.5 149.9 216.1 152.5 217.5 154.2 218.6 155.5 220.5 157.8 221.0 158.5 222.7 161.5 223.5 162.6 224.7 164.5 226.5 166.4 227.8 167.5 229.5 169.4 230.7 170.5 231.0 173.5 229.5 176.1 229.3 176.5 227.4 179.5 226.5 181.0 225.7 182.5 224.1 185.5 223.5 186.6 222.5 188.5 220.8 191.5 220.5 191.9 218.6 194.5 217.5 196.0 216.5 197.5 214.7 200.5 214.5 200.9 213.0 203.5 211.5 206.0 211.2 206.5 209.0 209.5 208.5 210.1 206.3 212.5 205.5 213.2 202.5 214.0 199.8 212.5 199.5 212.2 197.7 209.5 196.5 207.3 196.1 206.5 194.6 203.5 193.5 201.4 193.1 200.5 191.6 197.5 190.5 195.4 190.0 194.5 188.4 191.5 187.5 190.1 186.4 188.5 184.5 185.8 184.3 185.5 182.6 182.5 181.5 180.3 181.1 179.5 179.6 176.5 178.5 174.4 178.1 173.5 176.6 170.5 175.5 168.4 175.0 167.5 173.4 164.5 172.5 163.1 171.4 161.5 169.5 158.8 169.3 158.5 167.6 155.5 166.5 153.3 166.1 152.5 164.6 149.5 163.5 147.4 163.0 146.5 161.4 143.5 160.5 142.1 159.4 140.5 157.5 137.8 157.3 137.5 155.6 134.5 154.5 132.3 154.1 131.5 152.6 128.5 151.5 126.3 151.1 125.5 149.8 122.5 148.8 119.5 149.6 116.5 M121.5 461.6 124.5 461.9 127.5 462.0 130.5 461.5 130.5 461.5 133.5 459.6 134.8 458.5 136.5 457.4 138.9 455.5 139.5 455.1 142.5 453.2 143.5 452.5 145.5 451.2 147.9 449.5 148.5 449.0 151.4 446.5 151.5 446.4 154.5 443.6 154.6 443.5 157.5 440.5 157.5 440.5 160.0 437.5 160.5 436.8 162.0 434.5 163.2 431.5 163.5 430.6 164.1 428.5 164.9 425.5 165.8 422.5 166.5 420.8 167.0 419.5 168.6 416.5 169.5 415.2 170.8 413.5 172.5 411.9 174.0 410.5 175.5 409.2 177.6 407.5 178.5 406.6 180.9 404.5 181.5 403.8 183.8 401.5 184.5 400.7 186.7 398.5 187.5 397.5 189.4 395.5 190.5 393.8 191.4 392.5 192.7 389.5 193.5 387.8 194.2 386.5 196.3 383.5 196.5 383.2 198.5 380.5 199.5 378.4 200.0 377.5 200.9 374.5 201.0 371.5 200.6 368.5 200.1 365.5 199.8 362.5 199.7 359.5 199.9 356.5 200.2 353.5 200.6 350.5 200.9 347.5 201.2 344.5 201.5 341.5 201.7 338.5 201.7 335.5 201.6 332.5 201.3 329.5 201.0 326.5 200.9 323.5 201.1 320.5 201.6 317.5 202.4 314.5 202.5 314.4 203.6 311.5 204.9 308.5 205.5 307.4 206.4 305.5 207.8 302.5 208.5 300.8 209.0 299.5 210.0 296.5 211.0 293.5 211.5 291.7 211.9 290.5 212.8 287.5 213.9 284.5 214.5 282.9 215.0 281.5 216.2 278.5 217.5 275.7 217.6 275.5 219.3 272.5 220.5 270.8 221.5 269.5 223.5 267.2 224.1 266.5 226.5 264.1 227.1 263.5 229.5 261.0 230.1 260.5 232.5 257.7 232.7 257.5 234.7 254.5 235.5 252.8 236.1 251.5 237.0 248.5 237.3 245.5 236.5 242.5 235.5 241.6 233.1 239.5 232.5 239.2 229.5 237.9 226.5 236.7 225.8 236.5 223.5 236.0 220.5 235.3 217.5 233.9 217.0 233.5 215.9 230.5 216.6 227.5 217.5 225.4 218.0 224.5 219.7 221.5 220.5 220.0 221.5 218.5 223.2 215.5 223.5 215.0 225.2 212.5 226.5 210.2 227.0 209.5 228.9 206.5 229.5 205.5 231.0 203.5 232.5 201.0 233.0 200.5 235.2 197.5 235.5 197.0 238.1 194.5 238.5 193.9 240.1 194.5 241.0 197.5 240.8 200.5 240.5 203.5 240.2 206.5 240.0 209.5 240.3 212.5 241.5 215.0 241.8 215.5 244.5 216.9 247.5 217.5 250.5 217.5 253.5 217.3 256.5 217.0 259.5 216.5 262.5 215.9 263.8 215.5 265.5 215.0 268.5 213.9 271.5 212.8 272.2 212.5 274.5 211.5 277.5 210.2 278.9 209.5 280.5 208.8 283.5 207.3 285.0 206.5 286.5 205.7 289.3 203.5 289.5 203.4 291.8 200.5 292.5 199.6 293.8 197.5 295.5 194.7 295.7 194.5 297.5 191.5 298.5 189.9 299.4 188.5 301.5 185.7 301.7 185.5 304.3 182.5 304.5 182.2 306.8 179.5 307.5 178.4 308.7 176.5 310.1 173.5 310.5 172.7 311.7 170.5 313.5 167.7 313.6 167.5 316.2 164.5 316.5 164.2 319.4 161.5 319.5 161.4 322.5 159.1 323.3 158.5 325.5 157.1 328.4 155.5 328.5 155.5 331.5 154.3 334.5 153.3 336.7 152.5 337.5 152.2 340.5 150.5 342.0 149.5 343.5 147.5 344.5 146.5 346.5 143.6 347.2 143.5 349.5 143.2 351.3 143.5 352.5 143.7 354.9 143.5 355.5 143.5 358.5 142.4 361.5 140.7 361.8 140.5 364.5 137.7 364.7 137.5 366.4 134.5 367.5 131.5 367.5 131.4 368.5 128.5 370.1 125.5 370.5 125.0 372.8 122.5 373.5 121.9 376.5 119.8 376.9 119.5 379.5 118.0 382.4 116.5 382.5 116.4 385.5 115.2 388.5 114.0 389.4 113.5 391.5 110.9 391.7 110.5 391.5 107.5 391.5 107.4 391.0 104.5 391.1 101.5 391.5 100.4 392.3 98.5 394.5 95.7 394.7 95.5 397.5 93.3 398.5 92.5 400.5 90.7 401.5 89.5 403.5 87.2 404.1 86.5 406.5 83.5 406.5 83.4 407.7 80.5 408.8 77.5 409.5 76.6 411.0 74.5 412.5 73.0 414.1 71.5 415.5 70.3 418.2 68.5 418.5 68.3 421.5 66.4 422.9 65.5 424.5 64.3 426.8 62.5 427.5 61.9 430.3 59.5 430.5 59.2 433.0 56.5 433.5 54.9 434.1 53.5 M612.4 53.5 612.7 56.5 613.5 58.5 614.1 59.5 616.5 61.8 617.4 62.5 619.5 64.3 620.8 65.5 622.5 67.4 624.0 68.5 625.5 69.8 628.5 68.9 629.0 68.5 631.5 67.0 634.5 65.6 634.7 65.5 637.5 63.6 638.4 62.5 639.8 59.5 640.5 57.4 640.7 56.5 641.2 53.5 M598.5 77.0 597.8 77.5 596.2 80.5 595.5 82.4 595.1 83.5 593.9 86.5 592.5 89.3 592.4 89.5 591.6 92.5 592.4 95.5 592.5 95.7 595.5 98.3 595.7 98.5 598.5 100.0 601.1 101.5 601.5 101.7 604.5 103.1 607.5 103.8 610.5 104.0 613.5 104.0 616.5 104.4 616.8 104.5 619.5 105.6 622.5 107.1 623.9 107.5 625.5 108.0 628.5 107.8 629.2 107.5 631.5 106.6 634.5 104.8 635.0 104.5 637.5 102.6 639.0 101.5 640.5 99.6 641.4 98.5 641.3 95.5 640.5 93.9 639.9 92.5 637.8 89.5 637.5 89.2 634.5 87.0 633.3 86.5 631.5 85.8 628.5 84.5 626.8 83.5 625.5 82.4 622.9 80.5 622.5 80.1 619.5 79.3 616.5 78.9 613.5 79.0 610.5 79.3 607.5 78.9 604.5 77.7 603.7 77.5 601.5 76.7 598.5 77.0 M154.1 122.5 154.5 121.3 157.5 120.8 160.5 121.9 162.1 122.5 163.5 123.3 166.5 124.8 168.1 125.5 169.5 126.3 172.5 127.8 174.1 128.5 175.5 129.3 178.5 130.8 180.1 131.5 181.5 132.3 184.5 133.8 186.1 134.5 187.5 135.3 190.5 136.8 192.1 137.5 193.5 138.3 196.5 139.8 198.1 140.5 199.5 141.3 202.5 142.8 204.0 143.5 205.5 144.4 208.5 146.3 208.7 146.5 211.0 149.5 211.5 150.1 212.7 152.5 214.5 154.7 215.1 155.5 217.5 158.2 217.7 158.5 219.6 161.5 220.5 162.9 221.3 164.5 223.5 167.2 223.7 167.5 226.2 170.5 226.3 173.5 224.5 176.5 223.5 178.5 222.9 179.5 221.4 182.5 220.5 184.7 220.0 185.5 218.4 188.5 217.5 190.1 216.5 191.5 214.5 194.5 214.5 194.5 212.5 197.5 211.5 199.5 210.9 200.5 209.2 203.5 208.5 204.6 207.0 206.5 205.5 208.3 202.5 209.3 200.1 206.5 199.5 205.7 198.5 203.5 196.9 200.5 196.5 199.8 195.5 197.5 193.9 194.5 193.5 193.9 192.4 191.5 190.5 188.6 190.4 188.5 188.5 185.5 187.5 184.1 186.6 182.5 184.9 179.5 184.5 178.8 183.5 176.5 181.9 173.5 181.5 172.8 180.5 170.5 178.9 167.5 178.5 166.9 177.4 164.5 175.5 161.6 175.4 161.5 173.5 158.5 172.5 157.1 171.6 155.5 169.9 152.5 169.5 151.8 168.5 149.5 166.9 146.5 166.5 145.9 165.4 143.5 163.5 140.6 163.4 140.5 161.5 137.5 160.5 136.1 159.6 134.5 157.9 131.5 157.5 130.8 156.5 128.5 155.1 125.5 154.5 124.0 154.1 122.5 M121.5 463.3 124.5 463.8 127.5 464.4 128.7 464.5 130.5 464.6 131.1 464.5 133.5 463.7 136.3 461.5 136.5 461.3 139.2 458.5 139.5 458.3 142.5 456.0 143.2 455.5 145.5 454.1 148.1 452.5 148.5 452.2 151.5 450.0 152.1 449.5 154.5 447.5 155.6 446.5 157.5 444.7 158.8 443.5 160.5 441.8 161.8 440.5 163.5 438.4 164.3 437.5 166.2 434.5 166.5 433.8 167.7 431.5 168.7 428.5 169.5 425.8 169.6 425.5 170.9 422.5 172.4 419.5 172.5 419.3 174.5 416.5 175.5 415.4 177.4 413.5 178.5 412.5 181.0 410.5 181.5 410.1 184.5 407.7 184.8 407.5 187.5 405.2 188.4 404.5 190.5 402.8 192.2 401.5 193.5 400.4 195.9 398.5 196.5 397.9 198.9 395.5 199.5 394.7 201.1 392.5 202.5 390.2 203.1 389.5 205.5 386.8 205.9 386.5 208.5 384.1 209.1 383.5 211.5 380.9 211.8 380.5 214.3 377.5 214.5 377.2 215.8 374.5 215.8 371.5 214.6 368.5 214.5 368.4 212.6 365.5 211.5 363.4 211.1 362.5 210.4 359.5 210.4 356.5 210.6 353.5 210.9 350.5 211.2 347.5 211.5 344.9 211.5 344.5 211.9 341.5 212.3 338.5 212.5 335.5 212.4 332.5 212.0 329.5 211.6 326.5 211.5 325.2 211.4 323.5 211.5 322.5 211.7 320.5 212.5 317.5 213.4 314.5 214.5 311.5 214.5 311.4 215.5 308.5 216.5 305.5 217.4 302.5 217.5 302.2 218.2 299.5 219.0 296.5 219.8 293.5 220.5 290.8 220.6 290.5 221.6 287.5 222.7 284.5 223.5 282.2 223.8 281.5 225.0 278.5 226.4 275.5 226.5 275.3 228.2 272.5 229.5 270.9 230.7 269.5 232.5 267.8 234.0 266.5 235.5 265.3 237.7 263.5 238.5 262.9 241.5 260.6 241.6 260.5 244.5 257.9 245.1 257.5 247.3 254.5 247.5 254.2 249.0 251.5 250.3 248.5 250.5 248.0 251.3 245.5 251.6 242.5 250.7 239.5 250.5 239.2 247.5 236.8 247.0 236.5 244.5 235.6 241.5 234.8 238.5 234.0 236.8 233.5 235.5 232.8 232.5 231.3 230.2 230.5 229.5 229.3 226.5 228.6 223.5 227.6 223.5 227.5 223.5 227.4 226.5 225.8 229.5 226.6 232.5 226.6 235.5 226.1 238.5 225.5 241.5 225.0 244.5 224.5 244.5 224.5 247.5 224.1 250.5 223.8 253.5 223.3 256.5 222.6 259.5 221.6 259.8 221.5 262.5 220.5 265.5 219.3 267.2 218.5 268.5 217.9 271.5 216.5 273.7 215.5 274.5 215.1 277.5 213.7 280.1 212.5 280.5 212.3 283.5 211.0 286.4 209.5 286.5 209.5 289.5 207.6 290.6 206.5 292.5 204.4 293.1 203.5 294.8 200.5 295.5 199.3 296.6 197.5 298.3 194.5 298.5 194.2 300.3 191.5 301.5 189.7 302.4 188.5 304.5 186.0 305.0 185.5 307.5 182.8 307.8 182.5 310.4 179.5 310.5 179.3 312.6 176.5 313.5 174.8 314.3 173.5 316.3 170.5 316.5 170.2 318.9 167.5 319.5 166.9 322.0 164.5 322.5 164.1 325.3 161.5 325.5 161.4 328.5 159.3 329.9 158.5 331.5 157.8 334.5 156.7 337.5 155.7 337.9 155.5 340.5 154.6 343.5 153.3 345.8 152.5 346.5 152.2 349.5 151.5 352.5 151.0 355.5 150.0 356.5 149.5 358.5 148.7 361.5 147.5 363.6 146.5 364.5 146.1 367.5 144.2 368.6 143.5 370.5 142.2 373.0 140.5 373.5 140.1 376.3 137.5 376.5 137.3 378.8 134.5 379.5 133.4 380.7 131.5 382.1 128.5 382.5 127.6 383.6 125.5 385.5 123.3 386.5 122.5 388.5 121.5 391.5 120.2 393.0 119.5 394.5 118.9 397.5 117.1 398.2 116.5 400.5 113.5 400.5 113.4 401.3 110.5 401.3 107.5 401.1 104.5 401.7 101.5 403.5 98.9 403.8 98.5 406.2 95.5 406.5 95.1 408.6 92.5 409.5 91.5 411.8 89.5 412.5 89.0 415.5 86.8 415.9 86.5 418.5 83.6 418.6 83.5 420.0 80.5 421.5 77.7 421.6 77.5 424.5 74.5 424.5 74.5 427.5 72.2 428.6 71.5 430.5 70.2 433.5 68.6 433.8 68.5 436.5 67.6 439.5 67.0 442.5 66.6 445.5 66.4 448.5 66.6 451.5 67.2 454.5 66.8 455.7 65.5 457.4 62.5 457.5 61.8 457.8 59.5 457.8 56.5 457.8 53.5 M512.2 53.5 513.0 56.5 514.5 59.1 514.8 59.5 517.5 62.0 518.0 62.5 520.2 65.5 520.5 66.0 521.7 68.5 522.7 71.5 523.5 74.2 523.6 74.5 525.0 77.5 526.5 80.1 526.8 80.5 529.5 83.4 529.6 83.5 532.5 85.6 534.0 86.5 535.5 87.1 538.5 88.4 540.6 89.5 541.5 89.9 544.5 91.3 546.7 92.5 547.5 92.9 550.5 94.4 552.6 95.5 553.5 95.9 556.5 97.4 558.5 98.5 559.5 99.0 562.5 100.7 563.9 101.5 565.5 102.6 568.1 104.5 568.5 104.9 571.5 107.4 571.7 107.5 574.5 109.3 577.0 110.5 577.5 110.7 580.5 111.7 583.5 112.7 586.1 113.5 586.5 113.6 589.5 114.6 592.5 115.5 595.0 116.5 595.5 116.7 598.5 118.2 601.3 119.5 601.5 119.6 604.5 121.1 607.5 122.4 607.7 122.5 610.5 124.0 613.0 125.5 613.5 125.8 616.5 127.8 617.7 128.5 619.5 129.7 622.3 131.5 622.5 131.7 625.5 133.5 627.3 134.5 628.5 135.2 631.5 136.8 632.8 137.5 634.5 138.6 636.8 140.5 637.5 141.1 639.8 143.5 640.5 144.2 642.7 146.5 643.5 147.2 646.1 149.5 646.5 149.8 649.5 151.8 650.8 152.5 652.5 153.4 655.5 154.9 656.5 155.5 658.5 157.3 659.5 158.5 661.5 161.5 661.5 161.5 663.6 164.5 664.5 165.7 666.2 167.5 667.5 168.9 669.7 170.5 670.5 171.1 673.5 172.5 676.5 173.5 676.8 173.5 679.5 174.3 682.5 175.1 M682.5 157.3 679.5 157.5 676.5 157.8 673.5 157.7 670.5 155.9 670.0 155.5 667.5 153.5 666.3 152.5 664.5 150.5 663.7 149.5 662.6 146.5 662.4 143.5 663.2 140.5 664.4 137.5 664.5 137.4 665.8 134.5 667.0 131.5 667.5 129.4 667.8 128.5 668.2 125.5 668.3 122.5 668.1 119.5 667.9 116.5 667.7 113.5 667.5 111.8 667.4 110.5 667.0 107.5 666.8 104.5 666.8 101.5 666.9 98.5 666.9 95.5 666.6 92.5 666.1 89.5 665.6 86.5 665.3 83.5 665.0 80.5 664.5 77.5 664.5 77.4 663.6 74.5 662.5 71.5 661.6 68.5 661.5 68.3 660.9 65.5 660.3 62.5 659.6 59.5 659.0 56.5 658.7 53.5 M652.5 188.4 652.3 188.5 649.5 189.5 646.5 190.7 644.3 191.5 643.5 191.7 640.5 192.4 637.5 192.7 634.5 192.8 631.5 192.9 628.5 193.1 625.5 193.7 623.1 194.5 622.5 194.7 619.5 196.0 616.9 197.5 616.5 197.7 613.5 200.4 613.4 200.5 611.2 203.5 610.5 204.9 609.8 206.5 608.8 209.5 608.0 212.5 607.5 215.0 607.4 215.5 606.9 218.5 606.6 221.5 606.6 224.5 607.0 227.5 607.5 229.4 607.8 230.5 609.1 233.5 610.5 236.1 610.9 236.5 613.5 238.7 616.2 239.5 616.5 239.6 619.5 239.7 621.7 239.5 622.5 239.4 625.5 239.0 628.5 238.3 631.5 237.4 633.9 236.5 634.5 236.3 637.5 234.9 640.3 233.5 640.5 233.4 643.5 231.7 645.7 230.5 646.5 230.0 649.5 228.3 650.9 227.5 652.5 226.5 655.5 224.6 655.6 224.5 658.5 222.4 659.7 221.5 661.5 220.1 663.1 218.5 664.5 217.0 665.5 215.5 667.1 212.5 667.5 211.6 668.1 209.5 668.6 206.5 668.7 203.5 668.4 200.5 667.9 197.5 667.5 195.8 667.0 194.5 665.9 191.5 664.5 188.5 664.5 188.5 661.5 186.8 658.5 186.9 655.5 187.5 652.5 188.4 M631.5 289.8 630.2 290.5 628.5 291.5 625.7 293.5 625.5 293.6 622.5 296.3 622.3 296.5 620.4 299.5 620.2 302.5 622.5 305.2 622.9 305.5 625.5 306.7 628.5 308.0 630.6 308.5 631.5 308.7 633.0 308.5 634.5 308.2 637.5 306.0 637.9 305.5 640.5 302.6 640.5 302.5 643.0 299.5 643.5 298.8 645.1 296.5 646.5 293.5 646.5 293.5 646.5 293.5 645.9 290.5 643.5 289.1 640.5 288.3 637.5 288.2 634.5 288.8 631.5 289.8 M283.5 394.9 282.9 395.5 281.8 398.5 282.1 401.5 282.8 404.5 282.9 407.5 282.3 410.5 280.7 413.5 280.5 413.8 278.6 416.5 277.5 417.9 276.1 419.5 274.5 421.2 272.8 422.5 271.5 423.6 268.5 425.4 268.3 425.5 265.5 428.3 265.4 428.5 264.5 431.5 264.0 434.5 263.8 437.5 265.3 440.5 265.5 440.6 268.5 442.0 271.5 443.1 273.2 443.5 274.5 443.8 277.5 443.6 277.9 443.5 280.5 442.8 283.5 441.8 286.5 441.0 288.8 440.5 289.5 440.3 292.5 439.7 295.5 439.0 298.5 438.1 300.1 437.5 301.5 436.5 303.0 434.5 303.5 431.5 303.5 428.5 303.2 425.5 302.8 422.5 302.2 419.5 301.5 416.9 301.4 416.5 300.4 413.5 299.3 410.5 298.5 408.6 298.0 407.5 296.7 404.5 295.5 401.8 295.4 401.5 293.6 398.5 292.5 397.1 290.8 395.5 289.5 394.7 286.5 394.0 283.5 394.9 M121.5 465.2 124.5 465.8 127.5 466.7 130.5 467.3 133.5 467.1 136.5 465.7 137.9 464.5 139.5 462.8 140.7 461.5 142.5 459.8 144.0 458.5 145.5 457.6 148.5 455.6 148.7 455.5 151.5 453.7 153.2 452.5 154.5 451.5 157.0 449.5 157.5 449.1 160.5 446.6 160.6 446.5 163.5 443.9 163.9 443.5 166.5 440.9 166.9 440.5 169.5 437.5 169.5 437.4 171.6 434.5 172.5 432.7 173.1 431.5 174.3 428.5 175.5 425.5 175.5 425.5 177.3 422.5 178.5 420.8 179.6 419.5 181.5 417.6 182.8 416.5 184.5 415.2 187.3 413.5 187.5 413.3 190.5 411.7 192.7 410.5 193.5 410.1 196.5 408.5 198.7 407.5 199.5 407.1 202.5 405.9 205.2 404.5 205.5 404.3 208.5 402.3 209.4 401.5 211.5 399.5 212.5 398.5 214.5 396.6 215.6 395.5 217.5 393.9 218.8 392.5 220.5 390.7 221.3 389.5 223.1 386.5 223.5 385.7 224.4 383.5 225.7 380.5 226.5 378.0 226.7 377.5 227.0 374.5 226.5 371.5 226.5 371.5 225.6 368.5 224.6 365.5 223.8 362.5 223.5 360.5 223.3 359.5 223.1 356.5 223.1 353.5 223.5 350.5 223.5 350.3 224.4 347.5 226.2 344.5 226.5 344.2 229.4 341.5 229.5 341.4 232.5 339.5 235.0 338.5 235.5 338.2 238.5 337.1 241.5 335.8 242.1 335.5 244.2 332.5 244.4 329.5 243.7 326.5 242.2 323.5 241.5 322.8 238.9 320.5 238.5 320.2 235.5 318.4 234.0 317.5 232.5 316.5 230.3 314.5 229.5 313.3 228.7 311.5 228.3 308.5 228.7 305.5 229.3 302.5 229.5 301.5 229.9 299.5 230.6 296.5 231.1 293.5 231.8 290.5 232.4 287.5 232.5 287.3 233.2 284.5 234.1 281.5 235.2 278.5 235.5 277.9 236.7 275.5 238.5 273.0 238.9 272.5 241.5 269.8 241.8 269.5 244.5 267.6 246.4 266.5 247.5 266.0 250.5 264.7 253.1 263.5 253.5 263.3 256.5 261.4 257.7 260.5 259.5 258.4 260.2 257.5 261.5 254.5 262.0 251.5 262.1 248.5 262.2 245.5 262.1 242.5 261.9 239.5 261.2 236.5 259.9 233.5 259.5 232.4 258.6 230.5 259.5 228.8 260.0 227.5 262.5 225.6 263.8 224.5 265.5 223.6 268.5 221.9 269.1 221.5 271.5 220.3 274.5 218.8 275.1 218.5 277.5 217.4 280.5 216.2 282.4 215.5 283.5 215.1 286.5 214.0 289.5 212.5 289.5 212.5 292.5 210.1 293.0 209.5 295.1 206.5 295.5 205.7 296.5 203.5 297.9 200.5 298.5 199.4 299.7 197.5 301.5 194.7 301.6 194.5 303.8 191.5 304.5 190.6 306.3 188.5 307.5 187.2 309.2 185.5 310.5 184.2 312.4 182.5 313.5 181.3 315.3 179.5 316.5 178.0 317.8 176.5 319.5 174.3 320.2 173.5 322.5 170.9 323.0 170.5 325.5 168.2 326.2 167.5 328.5 165.3 329.5 164.5 331.5 163.0 333.8 161.5 334.5 161.2 337.5 160.0 340.5 158.8 341.2 158.5 343.5 157.7 346.5 157.0 349.5 156.7 352.5 156.4 355.5 155.7 356.2 155.5 358.5 154.6 361.5 153.7 364.5 153.0 366.0 152.5 367.5 151.8 370.5 149.6 370.6 149.5 373.5 147.3 374.6 146.5 376.5 145.3 379.2 143.5 379.5 143.3 382.5 141.2 383.4 140.5 385.5 138.3 386.2 137.5 388.4 134.5 388.5 134.4 390.7 131.5 391.5 130.5 392.9 128.5 394.5 126.8 395.7 125.5 397.5 124.2 400.0 122.5 400.5 122.2 403.5 119.9 404.0 119.5 406.5 116.7 406.7 116.5 409.1 113.5 409.5 112.9 411.1 110.5 412.5 107.8 412.6 107.5 413.2 104.5 413.0 101.5 413.4 98.5 415.3 95.5 415.5 95.3 418.5 93.2 419.8 92.5 421.5 91.7 424.5 90.0 425.1 89.5 427.5 87.3 428.1 86.5 429.7 83.5 430.5 81.9 431.4 80.5 433.5 78.2 434.4 77.5 436.5 76.4 439.5 75.5 442.5 75.7 445.5 77.2 445.8 77.5 448.5 79.7 449.5 80.5 451.5 82.5 452.7 83.5 454.5 85.8 455.7 86.5 457.5 87.7 460.5 87.0 461.0 86.5 463.4 83.5 463.5 83.4 464.9 80.5 466.2 77.5 466.5 76.9 467.5 74.5 468.8 71.5 469.5 70.3 470.8 68.5 472.5 66.9 475.1 65.5 475.5 65.3 478.5 64.1 481.5 62.7 481.9 62.5 484.2 59.5 483.5 56.5 482.7 53.5 M220.5 474.8 219.5 476.5 219.5 479.5 220.5 482.4 220.5 482.5 222.3 485.5 223.4 488.5 223.5 488.7 224.9 491.5 226.5 494.2 226.7 494.5 228.7 497.5 229.5 500.4 229.5 500.5 230.1 503.5 230.8 506.5 231.8 509.5 232.5 511.3 233.1 512.5 234.4 515.5 235.5 518.5 235.5 518.6 236.6 521.5 237.6 524.5 238.5 527.5 238.5 527.6 239.5 530.5 240.5 533.5 241.5 535.6 242.0 536.5 244.5 539.4 244.6 539.5 247.5 540.6 250.5 540.5 253.1 539.5 253.5 539.2 255.3 536.5 255.5 533.5 254.9 530.5 254.1 527.5 253.5 525.2 253.3 524.5 252.7 521.5 252.0 518.5 251.1 515.5 250.5 514.1 249.8 512.5 247.8 509.5 247.5 509.1 245.5 506.5 244.5 505.2 243.2 503.5 241.5 500.6 241.4 500.5 239.8 497.5 238.9 494.5 238.5 493.0 238.0 491.5 236.7 488.5 235.5 486.5 234.7 485.5 232.5 483.2 231.8 482.5 229.5 480.1 228.9 479.5 226.5 476.8 226.2 476.5 223.5 474.7 220.5 474.8 M328.5 241.5 327.4 242.5 326.2 245.5 326.2 248.5 326.7 251.5 327.6 254.5 328.5 256.6 328.9 257.5 330.5 260.5 331.5 262.1 332.6 263.5 334.5 265.3 336.7 266.5 337.5 266.9 340.5 267.7 343.5 267.7 346.5 266.7 346.7 266.5 347.4 263.5 346.5 260.6 346.5 260.5 344.5 257.5 343.5 256.2 342.1 254.5 340.5 252.2 340.0 251.5 338.2 248.5 337.5 247.2 336.3 245.5 334.5 242.9 333.9 242.5 331.5 241.1 328.5 241.5 M659.6 248.5 661.5 248.1 664.5 248.4 664.7 248.5 666.8 251.5 667.5 254.5 667.5 255.5 667.5 257.5 667.6 260.5 667.6 263.5 667.5 266.5 667.5 266.6 667.1 269.5 666.0 272.5 664.5 274.0 661.5 274.7 658.5 274.4 655.5 273.7 652.5 272.6 652.2 272.5 649.9 269.5 649.6 266.5 649.9 263.5 650.6 260.5 651.5 257.5 652.4 254.5 652.5 254.3 654.4 251.5 655.5 250.7 658.5 248.9 659.6 248.5 M583.1 272.5 583.5 272.1 586.5 270.8 589.5 271.2 590.9 272.5 592.3 275.5 592.0 278.5 590.2 281.5 589.5 282.2 586.5 283.1 583.5 281.9 583.2 281.5 581.7 278.5 581.5 275.5 583.1 272.5 M304.5 278.2 304.2 278.5 303.7 281.5 304.2 284.5 304.5 285.5 305.5 287.5 307.5 289.9 308.1 290.5 310.5 292.1 313.0 293.5 313.5 293.8 316.5 295.4 319.5 296.3 322.5 294.6 323.1 293.5 323.7 290.5 323.5 287.5 322.7 284.5 322.5 284.1 321.2 281.5 319.5 279.7 318.0 278.5 316.5 277.8 313.5 276.8 310.5 276.2 307.5 276.6 304.5 278.2 M121.5 467.3 122.4 467.5 124.5 468.3 127.5 469.6 130.5 470.5 130.8 470.5 133.5 470.8 135.0 470.5 136.5 470.2 139.5 468.9 141.5 467.5 142.5 466.6 145.1 464.5 145.5 464.1 148.3 461.5 148.5 461.4 151.5 458.8 151.8 458.5 154.5 456.5 155.7 455.5 157.5 454.3 159.9 452.5 160.5 452.0 163.5 449.7 163.8 449.5 166.5 447.3 167.5 446.5 169.5 444.7 170.8 443.5 172.5 441.8 173.9 440.5 175.5 438.8 176.9 437.5 178.5 435.2 179.0 434.5 180.6 431.5 181.5 429.6 182.1 428.5 184.2 425.5 184.5 425.1 187.5 423.4 190.5 423.8 192.6 425.5 193.5 426.7 194.5 428.5 195.4 431.5 196.1 434.5 196.5 436.0 196.9 437.5 197.9 440.5 198.9 443.5 199.5 445.5 199.9 446.5 200.7 449.5 201.4 452.5 202.1 455.5 202.5 456.6 203.4 458.5 205.3 461.5 205.5 461.7 207.6 464.5 208.5 465.9 209.2 467.5 210.0 470.5 210.3 473.5 210.2 476.5 210.0 479.5 210.2 482.5 211.2 485.5 211.5 486.1 212.6 488.5 214.0 491.5 214.5 492.5 215.6 494.5 217.5 497.2 217.7 497.5 219.9 500.5 220.5 501.4 221.5 503.5 222.7 506.5 223.5 508.3 223.9 509.5 225.1 512.5 226.5 515.4 226.5 515.5 227.6 518.5 228.4 521.5 229.2 524.5 229.5 526.0 229.8 527.5 230.5 530.5 231.7 533.5 232.5 534.8 233.4 536.5 235.5 539.3 235.6 539.5 238.2 542.5 238.5 542.7 241.5 545.5 241.5 545.5 244.5 547.5 247.0 548.5 247.5 548.7 250.5 549.3 253.5 549.7 256.5 550.1 259.5 550.6 262.5 551.4 262.9 551.5 265.5 552.2 268.5 553.0 271.5 553.0 274.5 551.5 274.5 551.5 276.3 548.5 277.5 545.6 277.5 545.5 278.3 542.5 278.3 539.5 277.5 537.8 276.7 536.5 274.5 534.6 273.3 533.5 271.5 532.2 269.7 530.5 268.5 529.4 266.9 527.5 265.5 525.5 264.9 524.5 263.4 521.5 262.5 519.2 262.3 518.5 261.1 515.5 259.9 512.5 259.5 511.7 258.3 509.5 256.5 507.1 256.0 506.5 253.5 504.0 253.0 503.5 250.6 500.5 250.5 500.3 249.3 497.5 248.9 494.5 248.9 491.5 249.2 488.5 249.3 485.5 248.9 482.5 247.6 479.5 247.5 479.4 244.8 476.5 244.5 476.2 241.5 474.1 240.8 473.5 238.5 471.5 237.3 470.5 235.5 468.9 233.7 467.5 232.5 466.7 229.5 464.8 229.0 464.5 226.5 462.9 223.5 461.7 222.2 461.5 220.5 460.9 217.5 460.0 215.6 458.5 216.6 455.5 217.5 454.6 220.5 452.8 221.0 452.5 223.5 450.3 224.1 449.5 223.5 447.8 223.1 446.5 220.5 444.2 219.8 443.5 217.5 440.5 217.5 440.5 216.8 437.5 216.4 434.5 215.8 431.5 215.4 428.5 215.3 425.5 215.7 422.5 216.7 419.5 217.5 417.6 218.0 416.5 219.6 413.5 220.5 412.1 221.6 410.5 223.5 408.1 223.9 407.5 226.2 404.5 226.5 404.1 228.1 401.5 229.4 398.5 229.5 398.2 230.2 395.5 230.8 392.5 231.4 389.5 232.2 386.5 232.5 385.4 233.1 383.5 234.2 380.5 235.5 377.5 235.5 377.4 236.6 374.5 237.7 371.5 238.5 369.6 239.1 368.5 240.6 365.5 241.5 363.7 242.2 362.5 243.5 359.5 243.8 356.5 243.7 353.5 244.5 351.0 244.6 350.5 247.5 347.5 247.5 347.5 250.5 345.6 252.1 344.5 253.5 343.5 255.3 341.5 256.5 339.2 256.8 338.5 257.3 335.5 257.3 332.5 257.1 329.5 256.8 326.5 256.5 323.8 256.5 323.5 255.9 320.5 255.0 317.5 253.5 314.7 253.4 314.5 251.1 311.5 250.5 310.6 248.8 308.5 247.5 305.5 247.5 305.4 247.0 302.5 246.8 299.5 246.8 296.5 246.6 293.5 246.6 290.5 246.9 287.5 247.5 284.6 247.5 284.5 248.5 281.5 249.7 278.5 250.5 277.2 251.6 275.5 253.5 273.5 254.4 272.5 256.5 271.1 258.4 269.5 259.5 268.8 262.4 266.5 262.5 266.5 265.5 263.8 265.8 263.5 268.3 260.5 268.5 260.1 269.9 257.5 270.6 254.5 270.6 251.5 270.3 248.5 270.0 245.5 269.7 242.5 269.3 239.5 268.9 236.5 268.5 234.0 268.4 233.5 268.2 230.5 268.5 229.5 269.1 227.5 271.5 225.2 272.3 224.5 274.5 223.3 277.5 221.9 279.0 221.5 280.5 221.1 283.5 220.8 286.5 220.6 289.5 219.8 291.3 218.5 292.5 217.7 294.5 215.5 295.5 214.3 296.8 212.5 298.5 209.5 298.5 209.5 299.9 206.5 300.9 203.5 301.5 202.1 302.4 200.5 304.4 197.5 304.5 197.3 306.7 194.5 307.5 193.5 309.2 191.5 310.5 190.2 312.3 188.5 313.5 187.4 315.9 185.5 316.5 185.0 319.5 182.6 319.6 182.5 322.5 179.9 323.1 179.5 325.5 177.3 326.6 176.5 328.5 174.9 330.5 173.5 331.5 172.7 334.3 170.5 334.5 170.3 337.5 168.1 338.2 167.5 340.5 165.9 342.5 164.5 343.5 163.9 346.5 162.4 348.6 161.5 349.5 161.3 352.5 160.6 355.5 160.0 358.5 159.1 361.0 158.5 361.5 158.4 364.5 157.8 367.5 157.2 370.5 156.4 373.1 155.5 373.5 155.3 376.5 153.7 378.5 152.5 379.5 151.7 382.5 149.8 383.0 149.5 385.5 148.2 388.5 146.7 388.9 146.5 391.5 144.4 392.4 143.5 394.5 140.9 394.8 140.5 397.1 137.5 397.5 136.9 399.3 134.5 400.5 132.7 401.5 131.5 403.5 129.1 404.1 128.5 406.5 126.5 407.6 125.5 409.5 124.0 411.1 122.5 412.5 121.2 414.2 119.5 415.5 117.9 416.7 116.5 418.5 113.8 418.7 113.5 421.3 110.5 421.5 110.3 424.5 108.6 427.5 107.9 430.2 107.5 430.5 107.5 433.5 107.3 436.5 107.4 437.4 107.5 439.5 107.9 442.5 109.1 445.5 110.5 445.5 110.5 448.5 111.1 451.5 111.1 454.5 110.5 454.5 110.5 457.5 109.0 460.2 107.5 460.5 107.3 463.5 105.3 464.8 104.5 466.5 103.5 469.1 101.5 469.5 101.2 472.0 98.5 472.5 97.8 474.0 95.5 475.4 92.5 475.5 92.3 476.9 89.5 478.3 86.5 478.5 86.1 480.0 83.5 481.5 81.4 482.3 80.5 484.5 78.9 486.6 77.5 487.5 77.1 490.5 75.5 492.2 74.5 493.5 73.8 496.5 72.5 499.5 72.0 502.5 73.0 504.2 74.5 505.5 76.4 506.1 77.5 507.2 80.5 508.3 83.5 508.5 84.0 509.7 86.5 511.5 88.8 512.2 89.5 514.5 91.0 517.0 92.5 517.5 92.8 520.5 94.5 522.1 95.5 523.5 96.2 526.5 97.5 529.5 98.3 531.1 98.5 532.5 98.7 535.5 99.0 538.5 99.3 541.5 99.8 544.5 100.2 547.5 100.8 550.4 101.5 550.5 101.5 553.5 102.6 556.5 104.0 557.4 104.5 559.5 106.0 561.2 107.5 562.5 108.9 563.9 110.5 565.5 112.8 566.1 113.5 568.3 116.5 568.5 116.8 571.0 119.5 571.5 120.1 574.5 122.3 574.9 122.5 577.5 123.8 580.5 125.1 581.4 125.5 583.5 126.9 585.5 128.5 586.5 129.9 587.6 131.5 588.9 134.5 589.5 136.7 589.7 137.5 590.4 140.5 591.0 143.5 591.4 146.5 591.7 149.5 591.7 152.5 591.6 155.5 591.5 158.5 591.3 161.5 591.3 164.5 591.6 167.5 592.5 170.5 592.5 170.5 593.7 173.5 594.4 176.5 594.2 179.5 593.2 182.5 592.5 183.9 591.6 185.5 589.5 188.3 589.3 188.5 586.5 191.1 586.0 191.5 583.5 193.6 582.4 194.5 580.5 196.0 578.6 197.5 577.5 198.4 574.7 200.5 574.5 200.7 571.5 203.0 570.8 203.5 568.5 205.4 567.1 206.5 565.5 207.8 562.8 209.5 562.5 209.7 559.5 211.1 556.5 212.0 554.3 212.5 553.5 212.8 550.5 214.1 549.0 215.5 548.3 218.5 548.6 221.5 550.0 224.5 550.5 225.1 552.3 227.5 553.5 228.9 554.6 230.5 556.1 233.5 556.5 235.1 556.8 236.5 557.0 239.5 557.2 242.5 558.7 245.5 559.5 246.1 561.6 248.5 562.5 249.3 564.4 251.5 565.5 253.2 566.3 254.5 567.3 257.5 567.9 260.5 568.0 263.5 565.6 266.5 565.5 266.5 565.4 266.5 562.5 265.9 559.5 263.9 559.1 263.5 556.5 260.8 556.3 260.5 554.3 257.5 553.5 256.3 552.5 254.5 551.3 251.5 550.5 248.9 550.4 248.5 549.7 245.5 548.2 242.5 547.5 241.9 545.8 239.5 544.5 238.0 543.4 236.5 541.5 234.0 541.1 233.5 538.5 230.5 538.4 230.5 535.5 229.0 532.5 229.1 529.5 229.9 527.5 230.5 526.5 230.8 523.5 231.4 520.5 231.9 517.5 232.9 516.5 233.5 514.5 234.4 511.5 236.5 511.5 236.5 508.5 239.3 508.3 239.5 505.8 242.5 505.5 242.9 503.0 245.5 502.5 246.0 499.9 248.5 499.5 249.1 497.8 251.5 496.5 253.8 496.1 254.5 494.6 257.5 493.5 260.4 493.5 260.5 492.6 263.5 492.2 266.5 491.8 269.5 491.1 272.5 490.5 274.0 489.6 275.5 487.7 278.5 487.5 278.9 485.5 281.5 484.5 283.1 483.4 284.5 481.5 287.1 481.2 287.5 479.2 290.5 478.5 292.1 477.9 293.5 477.0 296.5 476.2 299.5 475.5 300.8 474.6 302.5 472.5 305.0 472.2 305.5 469.8 308.5 469.5 309.0 468.0 311.5 466.7 314.5 466.5 315.1 465.6 317.5 464.3 320.5 463.5 321.8 462.5 323.5 460.5 325.6 459.8 326.5 457.5 328.5 456.6 329.5 454.5 331.5 453.6 332.5 451.5 335.0 451.0 335.5 448.6 338.5 448.5 338.6 445.5 341.5 445.5 341.5 442.5 343.4 440.4 344.5 439.5 345.0 436.5 347.2 436.2 347.5 433.5 350.4 433.4 350.5 430.5 352.9 429.6 353.5 427.5 354.7 424.5 355.7 421.5 356.4 420.6 356.5 418.5 356.9 415.5 357.5 412.5 358.0 409.5 358.2 406.5 358.0 403.5 357.1 402.1 356.5 400.5 355.6 397.5 354.2 395.9 353.5 394.5 352.8 391.5 350.9 391.1 350.5 389.3 347.5 388.5 344.6 388.5 344.5 388.4 341.5 388.5 340.6 388.8 338.5 389.7 335.5 390.8 332.5 391.3 329.5 390.8 326.5 388.7 323.5 388.5 323.3 385.5 322.1 382.5 322.7 381.3 323.5 379.5 325.1 378.1 326.5 376.5 328.6 375.8 329.5 374.3 332.5 373.5 334.0 372.7 335.5 370.6 338.5 370.5 338.6 368.7 341.5 367.5 343.7 367.1 344.5 366.2 347.5 365.5 350.5 365.0 353.5 364.5 355.2 364.1 356.5 362.2 359.5 361.5 360.1 359.2 362.5 358.5 363.1 356.6 365.5 355.5 366.8 354.4 368.5 352.5 371.3 352.4 371.5 350.7 374.5 349.5 376.8 349.1 377.5 348.2 380.5 348.2 383.5 349.4 386.5 349.5 386.7 352.5 389.4 352.7 389.5 355.5 391.0 358.5 392.5 358.6 392.5 361.5 393.7 364.5 394.6 367.4 395.5 367.5 395.5 370.5 397.2 372.0 398.5 372.1 401.5 370.5 403.8 369.9 404.5 367.5 405.9 364.5 407.3 364.3 407.5 361.5 408.8 359.0 410.5 358.5 410.8 355.5 413.0 354.9 413.5 352.5 415.2 350.2 416.5 349.5 416.9 346.5 418.2 343.5 419.0 340.5 419.4 338.7 419.5 337.5 419.6 334.5 421.5 333.9 422.5 331.6 425.5 331.5 425.6 328.5 427.3 325.5 427.3 322.5 426.0 321.9 425.5 319.5 423.6 318.4 422.5 316.5 420.4 315.9 419.5 314.2 416.5 313.5 415.0 313.0 413.5 312.1 410.5 311.5 407.5 310.9 404.5 310.5 402.5 310.2 401.5 309.1 398.5 307.7 395.5 307.5 395.1 305.7 392.5 304.5 391.0 303.0 389.5 301.5 388.1 299.6 386.5 298.5 385.5 296.0 383.5 295.5 383.1 292.5 381.3 289.5 380.7 286.5 381.0 283.5 381.8 280.5 383.1 279.9 383.5 277.5 385.7 276.9 386.5 275.2 389.5 274.5 391.1 273.9 392.5 273.0 395.5 272.6 398.5 273.0 401.5 273.9 404.5 274.5 407.3 274.5 407.5 274.5 407.7 273.9 410.5 271.8 413.5 271.5 413.9 268.5 416.2 268.1 416.5 265.5 418.1 263.3 419.5 262.5 420.0 259.5 421.8 258.2 422.5 256.5 423.7 253.8 425.5 253.5 426.0 252.2 428.5 251.6 431.5 250.5 433.2 249.6 434.5 247.5 436.1 245.6 437.5 244.5 438.5 242.3 440.5 241.5 441.6 239.8 443.5 238.5 445.7 237.8 446.5 238.1 449.5 238.5 449.8 241.4 452.5 241.5 452.6 244.5 455.3 244.8 455.5 247.2 458.5 247.5 459.0 249.0 461.5 250.5 464.0 250.8 464.5 253.5 467.3 254.1 467.5 256.5 468.1 259.5 467.8 262.5 467.6 265.5 467.6 268.5 468.2 271.5 469.1 274.5 469.5 277.5 467.8 277.7 467.5 280.5 464.6 280.6 464.5 283.5 461.9 284.0 461.5 286.5 460.0 289.5 458.8 290.8 458.5 292.5 458.1 295.5 457.5 298.5 457.0 301.5 456.8 304.5 456.6 307.5 456.5 310.5 456.4 313.5 456.4 316.5 456.4 319.5 456.3 322.5 456.0 325.5 455.5 325.6 455.5 328.5 454.6 331.5 453.6 334.5 452.5 334.5 452.5 337.5 451.2 340.5 450.1 343.1 449.5 343.5 449.3 346.5 448.9 348.1 449.5 349.5 449.9 352.5 451.6 353.6 452.5 355.5 454.1 357.2 455.5 358.5 456.6 360.8 458.5 361.5 459.0 364.5 461.3 364.8 461.5 367.5 464.5 367.5 464.5 368.6 467.5 368.6 470.5 368.3 473.5 368.1 476.5 368.0 479.5 368.0 482.5 367.9 485.5 367.9 488.5 367.9 491.5 368.0 494.5 368.4 497.5 369.0 500.5 370.0 503.5 370.5 504.9 371.2 506.5 372.6 509.5 373.5 511.3 374.3 512.5 376.5 515.0 377.0 515.5 379.5 517.3 381.7 518.5 382.5 519.0 385.5 520.7 386.7 521.5 388.5 523.0 390.2 524.5 391.5 526.6 392.1 527.5 392.7 530.5 392.7 533.5 392.8 536.5 393.4 539.5 394.5 542.2 394.6 542.5 396.2 545.5 397.5 547.7 398.0 548.5 399.9 551.5 400.5 552.5 401.9 554.5 403.5 556.5 404.5 557.5 406.5 559.4 407.9 560.5 409.5 561.9 411.4 563.5 412.5 565.2 413.2 566.5 M475.5 566.5 475.5 566.0 475.7 563.5 476.0 560.5 476.4 557.5 476.7 554.5 476.8 551.5 476.3 548.5 475.5 545.6 475.5 545.5 474.3 542.5 472.8 539.5 472.5 539.0 470.7 536.5 469.5 535.2 467.6 533.5 466.5 532.6 464.2 530.5 463.5 529.8 461.8 527.5 460.8 524.5 461.1 521.5 461.9 518.5 462.8 515.5 463.1 512.5 460.6 509.5 460.5 509.5 457.5 509.4 456.6 509.5 454.5 509.8 451.5 510.4 448.5 511.0 445.5 511.5 442.5 511.6 439.5 511.4 436.5 511.1 433.5 511.0 430.5 511.1 427.5 511.3 424.5 511.0 421.5 510.0 420.5 509.5 418.5 508.5 415.5 507.4 412.5 507.2 409.5 507.5 406.5 507.6 403.5 507.4 400.5 506.8 399.8 506.5 397.5 505.5 394.5 503.8 394.1 503.5 391.5 500.8 391.2 500.5 390.3 497.5 390.4 494.5 390.4 491.5 389.5 488.5 388.5 486.4 388.1 485.5 387.0 482.5 386.2 479.5 385.6 476.5 385.5 476.1 385.1 473.5 384.5 470.5 383.8 467.5 383.2 464.5 383.6 461.5 384.9 458.5 385.5 457.6 387.3 455.5 388.5 454.7 391.5 453.8 393.5 452.5 394.5 451.8 395.7 449.5 396.7 446.5 397.5 443.5 397.5 443.3 398.4 440.5 399.5 437.5 400.5 435.0 400.8 434.5 402.0 431.5 402.8 428.5 403.4 425.5 403.5 425.1 404.2 422.5 405.5 419.5 406.5 417.8 407.3 416.5 409.1 413.5 409.5 412.8 411.0 410.5 412.5 407.9 412.9 407.5 415.5 404.8 418.5 404.6 421.5 405.4 424.5 406.5 426.6 407.5 427.5 407.9 430.5 410.0 431.0 410.5 433.5 413.0 433.9 413.5 436.1 416.5 436.5 417.1 437.9 419.5 439.4 422.5 439.5 423.1 439.9 425.5 439.5 428.3 439.5 428.5 438.4 431.5 437.5 434.5 437.0 437.5 436.9 440.5 436.8 443.5 436.8 446.5 436.9 449.5 437.2 452.5 438.0 455.5 439.1 458.5 439.5 459.4 440.3 461.5 441.7 464.5 442.5 465.8 443.8 467.5 445.5 469.1 447.8 470.5 448.5 471.0 451.5 472.6 453.4 473.5 454.5 474.4 457.2 476.5 457.5 476.9 460.3 479.5 460.5 479.7 463.5 481.1 466.5 480.8 469.0 479.5 469.5 479.3 472.5 477.0 473.0 476.5 475.3 473.5 475.5 473.1 476.5 470.5 477.0 467.5 477.2 464.5 477.2 461.5 476.8 458.5 476.2 455.5 475.5 452.7 475.5 452.5 474.6 449.5 474.0 446.5 473.6 443.5 473.2 440.5 472.9 437.5 472.6 434.5 472.5 433.8 472.3 431.5 472.1 428.5 472.1 425.5 472.2 422.5 472.3 419.5 472.3 416.5 472.3 413.5 472.4 410.5 472.5 409.8 472.8 407.5 473.4 404.5 474.4 401.5 475.5 398.6 475.6 398.5 476.7 395.5 478.0 392.5 478.5 391.5 479.7 389.5 481.5 386.9 481.9 386.5 484.5 384.1 485.3 383.5 487.5 381.7 489.0 380.5 490.5 378.6 491.2 377.5 492.2 374.5 492.5 371.5 492.5 368.5 492.5 365.5 493.1 362.5 493.5 361.7 494.8 359.5 496.5 357.6 497.8 356.5 499.5 355.7 502.5 355.7 505.5 356.4 505.7 356.5 508.5 357.2 511.5 357.7 514.5 358.1 517.5 358.3 520.5 358.5 523.5 358.8 526.5 359.1 529.5 359.1 532.5 358.7 535.5 358.2 538.5 358.4 541.5 358.8 544.5 359.0 547.5 358.8 550.5 358.5 553.5 358.2 556.5 358.1 559.5 358.1 562.5 358.2 565.5 358.5 568.5 358.8 571.5 359.0 574.5 358.6 577.5 357.3 578.8 356.5 580.5 355.4 583.1 353.5 583.5 353.1 586.1 350.5 586.5 349.7 587.8 347.5 588.8 344.5 589.5 343.0 590.3 341.5 592.5 338.8 592.8 338.5 595.5 336.1 596.3 335.5 598.5 334.0 601.5 332.6 602.3 332.5 604.5 332.2 607.5 332.5 607.5 332.5 610.5 333.2 613.5 334.2 616.4 335.5 616.5 335.5 619.5 337.1 621.7 338.5 622.5 339.0 625.5 341.4 625.6 341.5 628.5 344.4 628.6 344.5 631.5 347.1 632.0 347.5 634.5 349.5 635.7 350.5 637.5 352.0 639.4 353.5 640.5 354.4 643.4 356.5 643.5 356.6 646.5 358.2 649.5 359.5 649.5 359.5 652.5 360.5 655.5 361.2 658.5 361.5 661.5 361.5 664.5 361.1 667.5 360.5 670.5 360.0 673.5 360.2 676.5 361.0 679.5 362.0 681.8 362.5 682.5 362.6 M492.6 110.5 493.5 110.1 496.5 109.2 499.5 109.1 502.5 109.6 505.5 110.5 505.6 110.5 508.5 111.4 511.5 112.3 514.5 113.2 515.6 113.5 517.5 114.0 520.5 114.3 523.5 113.9 524.7 113.5 526.5 112.9 529.5 112.2 532.5 111.9 535.5 111.9 538.5 111.7 541.5 111.4 544.5 111.0 547.5 110.6 549.7 110.5 550.5 110.5 550.6 110.5 553.5 111.3 556.1 113.5 556.5 113.9 558.3 116.5 559.5 118.8 559.9 119.5 560.9 122.5 561.3 125.5 561.1 128.5 560.5 131.5 559.9 134.5 559.8 137.5 560.3 140.5 561.0 143.5 561.3 146.5 559.5 148.5 557.8 149.5 556.5 149.9 553.5 152.1 553.2 152.5 551.2 155.5 550.5 156.9 549.9 158.5 549.1 161.5 548.6 164.5 548.5 167.5 548.5 170.5 548.4 173.5 548.3 176.5 548.2 179.5 547.9 182.5 547.5 185.1 547.4 185.5 546.6 188.5 545.1 191.5 544.5 192.3 543.1 194.5 541.5 196.6 540.8 197.5 538.5 199.9 538.1 200.5 535.5 203.4 535.4 203.5 532.5 206.1 531.9 206.5 529.5 207.9 526.5 209.4 526.3 209.5 523.5 211.3 521.4 212.5 520.5 213.1 517.5 215.0 516.7 215.5 514.5 217.1 512.5 218.5 511.5 219.3 509.3 221.5 508.5 222.3 506.6 224.5 505.5 225.6 503.6 227.5 502.5 228.7 501.0 230.5 499.5 232.5 498.8 233.5 496.5 236.4 496.4 236.5 493.7 239.5 493.5 239.7 490.8 242.5 490.5 242.8 487.9 245.5 487.5 246.0 485.3 248.5 484.5 249.4 482.7 251.5 481.5 252.9 480.2 254.5 478.5 256.4 477.5 257.5 475.5 259.8 474.9 260.5 472.8 263.5 472.5 264.0 471.5 266.5 470.3 269.5 469.5 271.3 469.0 272.5 467.6 275.5 466.5 278.0 466.3 278.5 465.5 281.5 464.6 284.5 463.5 287.0 463.3 287.5 461.8 290.5 460.5 292.8 460.1 293.5 458.7 296.5 457.5 298.6 457.0 299.5 455.2 302.5 454.5 303.5 453.2 305.5 451.5 307.6 450.8 308.5 448.8 311.5 448.5 312.0 447.6 314.5 447.0 317.5 446.6 320.5 445.5 323.5 445.5 323.6 443.1 326.5 442.5 327.0 439.9 329.5 439.5 329.9 436.6 332.5 436.5 332.6 433.5 334.7 431.2 335.5 430.5 335.8 427.5 335.8 426.8 335.5 424.5 334.7 421.5 332.7 421.3 332.5 418.5 329.8 418.3 329.5 416.8 326.5 416.4 323.5 416.3 320.5 416.5 317.5 416.8 314.5 417.1 311.5 417.2 308.5 417.0 305.5 416.2 302.5 415.5 301.4 414.0 299.5 412.5 298.4 409.5 297.3 406.5 296.9 403.5 297.0 400.5 297.9 397.8 299.5 397.5 299.8 394.8 302.5 394.5 302.8 391.5 304.6 388.5 304.4 385.5 302.8 385.0 302.5 382.5 300.2 381.4 299.5 379.5 296.7 378.9 296.5 376.5 295.9 376.1 296.5 376.5 298.0 377.1 299.5 377.7 302.5 377.1 305.5 376.5 306.9 376.0 308.5 374.5 311.5 373.5 313.1 372.6 314.5 370.5 316.8 369.6 317.5 367.5 318.9 364.7 320.5 364.5 320.6 361.5 322.5 360.2 323.5 358.5 325.2 357.5 326.5 355.5 329.5 355.5 329.5 353.7 332.5 352.5 334.3 351.5 335.5 349.5 337.8 348.8 338.5 346.5 340.8 345.7 341.5 343.5 343.8 342.8 344.5 340.7 347.5 340.5 348.1 339.6 350.5 339.2 353.5 339.2 356.5 339.2 359.5 338.8 362.5 337.5 364.3 336.0 365.5 334.5 366.1 331.5 367.5 329.8 368.5 328.5 369.4 325.9 371.5 325.5 372.0 323.0 374.5 322.5 375.2 320.9 377.5 319.5 380.2 319.3 380.5 318.0 383.5 316.6 386.5 316.5 386.7 313.5 387.2 312.8 386.5 310.5 385.0 308.9 383.5 307.5 382.2 306.0 380.5 304.5 378.5 303.8 377.5 301.9 374.5 301.5 373.9 299.7 371.5 298.5 369.9 297.3 368.5 295.5 366.4 294.2 365.5 292.5 364.4 289.5 363.5 286.5 363.1 283.5 362.9 280.5 362.9 277.5 363.4 274.5 364.5 272.2 365.5 271.5 366.0 269.7 365.5 268.5 363.8 268.4 362.5 268.2 359.5 268.0 356.5 267.6 353.5 267.3 350.5 267.2 347.5 267.5 344.5 267.9 341.5 268.1 338.5 267.9 335.5 267.6 332.5 267.1 329.5 266.7 326.5 266.4 323.5 266.2 320.5 265.8 317.5 265.5 315.3 265.4 314.5 265.1 311.5 265.0 308.5 265.3 305.5 265.5 304.0 265.7 302.5 266.0 299.5 266.2 296.5 266.2 293.5 266.3 290.5 266.9 287.5 267.9 284.5 268.5 283.1 269.2 281.5 270.6 278.5 271.5 276.7 272.3 275.5 274.3 272.5 274.5 272.2 277.0 269.5 277.5 268.8 279.5 266.5 280.5 264.9 281.5 263.5 283.1 260.5 283.5 259.2 284.1 257.5 284.4 254.5 284.5 251.5 285.1 248.5 286.5 245.9 286.9 245.5 289.5 243.3 290.6 242.5 292.5 241.0 294.1 239.5 295.5 238.2 297.2 236.5 298.5 235.3 300.3 233.5 301.5 232.5 303.6 230.5 304.5 229.5 306.5 227.5 307.5 226.3 309.3 224.5 310.5 223.1 312.0 221.5 313.5 219.1 313.9 218.5 315.3 215.5 316.3 212.5 316.5 211.3 316.8 209.5 316.7 206.5 316.5 206.1 315.2 203.5 314.6 200.5 315.8 197.5 316.5 196.7 318.4 194.5 319.5 193.6 321.5 191.5 322.5 190.6 324.6 188.5 325.5 187.7 328.5 185.6 328.8 185.5 331.5 184.6 334.5 183.9 337.5 182.9 338.3 182.5 340.5 181.3 343.2 179.5 343.5 179.3 346.5 177.1 347.2 176.5 349.5 174.2 350.2 173.5 352.4 170.5 352.5 170.3 355.3 167.5 355.5 167.4 358.5 165.8 360.7 164.5 361.5 164.2 364.5 163.3 367.5 162.6 370.5 161.9 371.9 161.5 373.5 161.1 376.5 160.2 379.5 158.9 380.3 158.5 382.5 157.6 385.5 156.4 388.5 155.5 388.5 155.5 391.5 154.9 394.5 154.0 397.5 152.6 397.6 152.5 400.5 150.7 402.3 149.5 403.5 148.5 406.5 146.5 406.5 146.5 409.5 145.0 412.5 143.7 413.0 143.5 415.5 141.9 417.0 140.5 418.5 138.5 419.2 137.5 421.2 134.5 421.5 134.1 424.3 131.5 424.5 131.3 427.5 130.7 430.5 131.3 431.4 131.5 433.5 132.1 436.5 132.8 439.5 133.3 442.5 133.6 445.5 133.6 448.5 132.7 449.9 131.5 451.5 130.4 453.4 128.5 454.5 127.8 457.5 126.1 458.7 125.5 460.5 124.8 463.5 123.9 466.5 123.0 468.4 122.5 469.5 122.2 472.5 121.1 475.5 119.9 476.3 119.5 478.5 118.4 481.5 116.7 481.8 116.5 484.5 114.9 486.9 113.5 487.5 113.1 490.5 111.5 492.6 110.5 M325.5 227.5 325.2 227.5 322.5 227.8 319.5 229.7 318.7 230.5 316.5 233.2 316.3 233.5 314.6 236.5 314.1 239.5 314.6 242.5 315.3 245.5 315.8 248.5 315.8 251.5 315.4 254.5 314.8 257.5 314.0 260.5 313.5 261.4 312.2 263.5 310.5 264.7 307.5 266.1 306.1 266.5 304.5 266.9 301.5 267.2 298.5 267.3 295.5 267.3 292.5 267.4 289.6 269.5 289.6 272.5 290.2 275.5 291.1 278.5 292.1 281.5 292.5 283.0 292.8 284.5 293.6 287.5 294.7 290.5 295.5 292.5 296.0 293.5 297.3 296.5 298.5 299.3 298.6 299.5 299.2 302.5 299.0 305.5 298.5 308.1 298.4 308.5 297.8 311.5 297.3 314.5 296.8 317.5 296.3 320.5 295.7 323.5 295.5 324.3 295.0 326.5 294.6 329.5 294.6 332.5 295.2 335.5 295.5 336.4 296.4 338.5 298.1 341.5 298.5 342.3 300.4 344.5 301.5 345.5 304.5 345.5 305.8 344.5 307.5 343.5 309.3 341.5 310.5 340.3 311.7 338.5 313.5 335.8 313.7 335.5 315.3 332.5 316.5 330.5 317.1 329.5 318.7 326.5 319.5 325.0 320.2 323.5 321.4 320.5 322.5 317.8 322.6 317.5 324.4 314.5 325.5 313.3 327.2 311.5 328.5 310.4 330.5 308.5 331.5 307.4 333.0 305.5 334.5 303.2 334.9 302.5 336.3 299.5 337.5 296.5 337.5 296.5 339.0 293.5 340.5 290.9 340.8 290.5 343.3 287.5 343.5 287.2 345.6 284.5 346.5 283.2 347.6 281.5 349.5 278.8 349.7 278.5 352.5 275.7 352.6 275.5 354.9 272.5 355.5 271.0 356.0 269.5 355.7 266.5 355.5 266.1 354.6 263.5 353.1 260.5 352.5 259.5 351.3 257.5 349.5 254.6 349.4 254.5 347.6 251.5 346.5 249.6 345.9 248.5 344.4 245.5 343.5 243.8 342.9 242.5 341.3 239.5 340.5 238.3 339.2 236.5 337.5 234.5 336.4 233.5 334.5 231.8 332.5 230.5 331.5 229.7 328.5 228.3 325.6 227.5 325.5 227.5 M250.2 371.5 250.5 371.3 253.5 370.8 256.5 371.3 257.4 371.5 259.5 372.1 262.5 372.5 265.5 372.8 267.0 374.5 268.1 377.5 268.0 380.5 267.1 383.5 266.0 386.5 265.5 387.9 265.0 389.5 264.4 392.5 264.3 395.5 264.5 398.5 264.9 401.5 265.4 404.5 265.4 407.5 263.6 410.5 262.5 411.6 260.5 413.5 259.5 414.2 256.5 415.9 254.5 416.5 253.5 416.7 250.5 417.1 247.5 417.9 245.2 419.5 244.5 420.2 242.4 422.5 241.5 423.8 240.0 425.5 238.5 427.4 237.3 428.5 235.5 430.1 233.6 431.5 232.5 432.3 229.5 432.5 228.5 431.5 227.6 428.5 227.9 425.5 228.4 422.5 229.1 419.5 229.5 418.4 230.4 416.5 232.2 413.5 232.5 413.1 234.5 410.5 235.5 408.9 236.3 407.5 237.2 404.5 237.6 401.5 237.8 398.5 238.2 395.5 238.5 394.1 238.9 392.5 239.7 389.5 240.7 386.5 241.5 383.9 241.7 383.5 242.9 380.5 244.2 377.5 244.5 377.0 246.3 374.5 247.5 373.2 250.2 371.5 M607.5 418.9 606.3 419.5 604.5 420.5 603.1 422.5 601.9 425.5 601.5 427.7 601.4 428.5 601.4 431.5 601.5 432.6 601.9 434.5 604.5 436.4 607.5 434.7 607.8 434.5 610.5 432.2 611.1 431.5 612.6 428.5 612.6 425.5 611.6 422.5 610.5 420.5 608.6 419.5 607.5 418.9 M121.5 474.5 123.8 476.5 124.5 477.3 126.8 479.5 127.0 482.5 124.5 483.3 121.5 483.8 M594.5 503.5 595.5 502.9 598.5 501.6 601.5 501.1 604.5 501.8 606.2 503.5 606.9 506.5 606.9 509.5 606.6 512.5 606.2 515.5 605.7 518.5 605.0 521.5 604.5 523.0 603.9 524.5 602.6 527.5 601.5 529.8 600.9 530.5 598.6 533.5 598.5 533.6 595.5 535.3 592.5 535.9 589.5 536.1 586.5 535.9 583.5 534.6 582.7 533.5 581.3 530.5 580.6 527.5 580.5 526.4 580.3 524.5 580.3 521.5 580.5 518.5 580.5 518.5 581.1 515.5 582.2 512.5 583.5 510.4 584.5 509.5 586.5 508.0 589.0 506.5 589.5 506.2 592.5 504.5 594.5 503.5 M121.5 512.3 122.6 512.5 124.5 513.1 127.5 513.4 130.4 512.5 130.5 512.5 133.5 511.1 136.5 509.8 137.1 509.5 139.5 508.3 141.9 506.5 142.5 506.0 144.5 503.5 145.5 502.0 146.4 500.5 147.7 497.5 148.5 494.5 148.4 491.5 147.4 488.5 145.6 485.5 145.5 485.2 143.3 482.5 145.0 479.5 145.5 479.3 148.5 477.1 149.0 476.5 151.5 474.3 152.2 473.5 154.5 470.6 154.5 470.5 156.3 467.5 157.5 465.2 157.8 464.5 159.6 461.5 160.5 460.5 162.2 458.5 163.5 457.5 165.7 455.5 166.5 454.9 169.4 452.5 169.5 452.4 172.5 450.0 173.1 449.5 175.5 447.6 177.0 446.5 178.5 445.4 181.5 443.8 182.8 443.5 184.5 443.0 186.1 443.5 187.5 444.1 189.2 446.5 190.4 449.5 190.5 449.9 191.1 452.5 191.6 455.5 192.0 458.5 192.6 461.5 193.2 464.5 193.5 465.7 194.0 467.5 194.9 470.5 195.8 473.5 196.3 476.5 196.4 479.5 196.3 482.5 195.9 485.5 195.1 488.5 193.6 491.5 193.5 491.7 190.5 494.5 190.5 494.5 187.5 496.8 186.7 497.5 184.5 499.7 183.8 500.5 181.5 503.5 181.5 503.6 179.7 506.5 178.5 508.6 178.0 509.5 176.3 512.5 175.5 513.7 174.3 515.5 172.5 517.7 171.7 518.5 169.5 520.5 168.1 521.5 166.5 522.6 163.5 524.3 163.2 524.5 160.5 525.8 157.9 527.5 157.5 527.7 155.0 530.5 154.5 531.2 153.5 533.5 152.6 536.5 151.8 539.5 151.5 540.8 151.1 542.5 150.5 545.5 150.4 548.5 151.3 551.5 151.5 551.8 153.7 554.5 154.5 555.3 157.5 557.0 160.5 557.4 163.5 557.1 166.5 556.4 169.5 555.6 172.5 554.9 175.5 554.9 178.5 556.1 181.5 557.3 184.5 557.5 187.5 556.8 190.5 555.4 191.8 554.5 193.5 552.9 194.8 551.5 196.5 548.6 196.6 548.5 199.5 545.9 202.5 546.9 204.3 548.5 205.5 549.3 208.5 551.2 209.2 551.5 211.5 552.5 214.5 553.2 217.5 553.4 220.5 553.0 223.5 552.2 225.6 551.5 226.5 551.2 229.5 550.7 232.5 550.6 235.5 551.3 235.8 551.5 238.5 553.1 240.7 554.5 241.5 555.2 244.5 557.4 244.8 557.5 247.0 560.5 244.5 562.6 243.8 563.5 242.0 566.5 M300.1 566.5 301.5 565.7 302.5 563.5 304.5 562.3 306.0 560.5 307.5 559.7 310.5 557.5 310.5 557.5 313.5 555.3 314.8 554.5 316.0 551.5 313.5 549.8 311.7 548.5 310.5 548.1 307.5 547.1 304.7 545.5 304.5 545.4 301.5 543.8 300.0 542.5 298.5 541.5 296.6 539.5 295.5 538.4 294.3 536.5 292.5 533.9 292.3 533.5 290.3 530.5 289.5 529.5 287.4 527.5 286.5 526.9 283.5 525.1 282.3 524.5 280.5 523.5 277.5 521.8 277.1 521.5 274.5 519.2 273.9 518.5 271.6 515.5 271.5 515.3 269.9 512.5 268.5 510.2 268.1 509.5 266.6 506.5 265.5 504.6 264.8 503.5 263.2 500.5 262.5 497.7 262.4 497.5 262.5 497.3 264.3 494.5 265.5 493.5 268.5 491.9 269.6 491.5 271.5 491.0 274.5 490.5 277.5 489.9 280.5 488.8 281.0 488.5 283.5 486.6 284.8 485.5 286.5 483.8 288.0 482.5 289.5 481.2 292.4 479.5 292.5 479.4 295.5 478.2 298.5 477.4 301.5 477.1 304.5 477.3 307.5 477.9 310.5 478.6 313.5 479.5 313.6 479.5 316.5 480.3 319.5 481.0 322.5 481.5 325.5 481.9 328.5 481.9 331.5 481.6 334.5 480.8 337.5 480.1 340.5 480.6 343.5 482.2 344.0 482.5 346.5 484.6 347.2 485.5 348.5 488.5 349.0 491.5 349.2 494.5 349.3 497.5 349.3 500.5 349.0 503.5 348.6 506.5 348.1 509.5 347.5 512.5 346.9 515.5 346.5 518.1 346.4 518.5 346.0 521.5 345.5 524.5 344.7 527.5 343.5 530.4 343.5 530.5 342.0 533.5 340.5 536.3 340.4 536.5 338.5 539.5 337.5 541.0 336.3 542.5 334.5 544.9 334.0 545.5 331.9 548.5 331.5 549.7 330.5 551.5 331.5 553.6 332.0 554.5 334.5 556.3 336.1 557.5 337.5 559.0 338.4 560.5 338.9 563.5 338.9 566.5 M576.6 566.5 577.2 563.5 577.5 562.5 578.0 560.5 579.6 557.5 580.5 556.6 583.5 554.8 585.9 554.5 586.5 554.4 587.0 554.5 589.5 554.9 592.5 556.4 593.8 557.5 595.5 559.8 596.0 560.5 597.5 563.5 598.5 566.4 598.6 566.5 M638.9 566.5 639.1 563.5 639.3 560.5 639.4 557.5 639.5 554.5 639.7 551.5 640.0 548.5 640.5 545.8 640.6 545.5 641.4 542.5 642.0 539.5 642.3 536.5 642.3 533.5 642.1 530.5 641.8 527.5 641.3 524.5 640.7 521.5 640.5 520.6 639.9 518.5 638.9 515.5 637.8 512.5 637.5 511.5 636.8 509.5 636.3 506.5 636.3 503.5 636.6 500.5 636.6 497.5 635.8 494.5 634.5 491.9 634.2 491.5 632.3 488.5 631.5 487.1 630.2 485.5 628.5 483.6 626.7 482.5 625.5 481.9 622.5 481.5 619.5 481.9 616.5 482.3 613.5 482.4 610.5 481.6 607.7 479.5 607.5 479.3 605.3 476.5 604.5 475.0 603.7 473.5 602.8 470.5 602.3 467.5 601.8 464.5 601.5 462.9 601.2 461.5 600.2 458.5 599.0 455.5 598.5 454.6 595.5 453.2 592.5 454.1 590.1 455.5 589.5 455.9 586.5 458.4 586.3 458.5 583.8 461.5 583.5 462.3 582.5 464.5 582.5 467.5 583.5 470.4 583.5 470.5 584.4 473.5 584.3 476.5 583.5 477.9 582.5 479.5 580.5 481.6 579.2 482.5 577.5 483.6 574.5 484.0 572.1 482.5 571.5 482.1 569.7 479.5 568.5 477.2 568.2 476.5 567.5 473.5 567.1 470.5 566.8 467.5 566.6 464.5 566.7 461.5 567.6 458.5 568.5 456.7 569.3 455.5 570.5 452.5 569.6 449.5 568.5 448.8 565.5 446.9 564.8 446.5 562.5 445.5 559.5 443.9 558.9 443.5 556.5 441.2 556.0 440.5 554.7 437.5 554.0 434.5 553.6 431.5 553.5 429.0 553.5 428.5 553.4 425.5 553.5 422.5 553.3 419.5 552.6 416.5 551.0 413.5 550.5 412.8 550.2 413.5 548.2 416.5 547.5 417.3 546.8 419.5 545.2 422.5 544.5 423.3 542.9 425.5 541.5 426.7 539.5 428.5 538.5 429.3 535.5 431.4 535.3 431.5 532.5 433.1 529.5 434.5 529.4 434.5 526.5 435.7 523.5 437.2 523.1 437.5 520.5 439.6 519.6 440.5 517.5 442.7 516.6 443.5 514.5 445.3 511.5 446.3 508.5 445.4 506.8 443.5 505.5 441.3 505.3 440.5 504.7 437.5 504.5 434.5 504.5 431.5 504.7 428.5 505.1 425.5 505.5 424.1 506.0 422.5 507.2 419.5 508.5 416.9 508.7 416.5 510.4 413.5 511.5 411.7 512.2 410.5 513.9 407.5 514.5 406.4 515.5 404.5 517.0 401.5 517.5 400.3 518.3 398.5 519.0 395.5 519.4 392.5 519.6 389.5 519.7 386.5 519.9 383.5 520.2 380.5 520.5 379.7 522.0 377.5 523.5 376.7 525.7 377.5 526.5 378.3 527.3 380.5 528.0 383.5 528.9 386.5 529.5 387.6 531.0 389.5 532.5 390.6 535.5 391.4 538.5 391.6 541.5 392.3 541.9 392.5 544.5 394.4 545.6 395.5 547.5 397.8 548.0 398.5 549.8 401.5 550.5 403.3 551.3 404.5 553.5 407.2 554.5 407.5 556.5 407.9 559.5 408.2 562.5 408.0 563.9 407.5 565.5 407.0 568.5 405.5 570.0 404.5 571.5 403.3 573.4 401.5 574.5 400.3 575.8 398.5 577.5 396.3 578.0 395.5 580.2 392.5 580.5 392.1 583.2 389.5 583.5 389.3 586.5 388.5 589.5 388.9 590.8 389.5 592.5 390.3 595.5 392.0 596.5 392.5 598.5 393.5 601.5 394.4 604.5 394.6 607.5 394.4 610.5 394.7 612.9 395.5 613.5 395.8 616.5 398.2 616.8 398.5 619.5 401.4 619.6 401.5 622.5 404.2 623.0 404.5 625.5 405.7 628.5 406.1 631.5 406.1 634.5 406.3 637.5 406.7 640.5 407.3 641.3 407.5 643.5 408.0 646.5 408.9 649.5 409.9 651.2 410.5 652.5 410.9 655.5 411.8 658.5 412.2 661.5 412.1 664.5 411.7 667.5 411.1 670.2 410.5 670.5 410.4 673.5 410.0 676.5 410.2 678.4 410.5 679.5 410.6 682.5 410.8 M540.8 125.5 541.5 125.3 544.5 125.3 544.8 125.5 546.5 128.5 546.5 131.5 546.2 134.5 545.6 137.5 544.5 140.3 544.4 140.5 543.0 143.5 541.8 146.5 541.5 147.3 540.8 149.5 539.8 152.5 538.8 155.5 538.5 156.1 537.0 158.5 535.5 160.5 534.5 161.5 532.5 163.5 531.4 164.5 529.5 167.0 529.1 167.5 529.5 169.9 529.6 170.5 532.3 173.5 532.5 173.7 534.6 176.5 535.5 178.3 536.0 179.5 536.6 182.5 536.5 185.5 535.5 188.4 535.5 188.5 533.8 191.5 532.5 193.6 531.9 194.5 530.2 197.5 529.5 198.6 528.0 200.5 526.5 201.7 524.3 203.5 523.5 204.0 520.5 206.0 519.7 206.5 517.5 207.9 514.8 209.5 514.5 209.7 511.5 211.6 510.2 212.5 508.5 213.9 506.8 215.5 505.5 216.8 504.0 218.5 502.5 220.1 501.1 221.5 499.5 223.0 497.9 224.5 496.5 226.1 495.5 227.5 493.5 230.5 493.5 230.5 491.2 233.5 490.5 234.3 488.4 236.5 487.5 237.4 485.3 239.5 484.5 240.3 482.4 242.5 481.5 243.6 479.9 245.5 478.5 247.2 477.5 248.5 475.5 250.9 475.0 251.5 472.5 254.3 472.3 254.5 469.6 257.5 469.5 257.6 467.4 260.5 466.5 262.2 465.8 263.5 464.6 266.5 463.5 269.1 463.3 269.5 462.0 272.5 460.8 275.5 460.5 276.3 459.6 278.5 458.6 281.5 457.5 284.4 457.5 284.5 456.2 287.5 454.8 290.5 454.5 291.0 453.1 293.5 451.5 296.2 451.3 296.5 449.4 299.5 448.5 300.8 447.4 302.5 445.5 305.2 445.3 305.5 443.4 308.5 442.5 310.1 441.8 311.5 440.7 314.5 440.0 317.5 439.5 318.8 438.8 320.5 436.6 323.5 436.5 323.6 433.6 326.5 433.5 326.6 430.5 328.0 427.5 327.5 426.3 326.5 424.5 324.4 424.0 323.5 423.4 320.5 423.6 317.5 424.3 314.5 424.5 313.6 425.0 311.5 425.3 308.5 425.2 305.5 424.6 302.5 424.5 302.2 423.3 299.5 421.5 297.3 420.9 296.5 418.5 294.1 417.8 293.5 415.5 291.8 412.5 290.8 409.6 290.5 409.5 290.5 406.5 290.5 406.1 290.5 403.5 290.6 400.5 290.9 397.5 291.7 394.5 292.9 391.5 293.3 388.5 291.0 388.2 290.5 386.1 287.5 385.5 286.7 383.1 284.5 382.5 284.1 379.5 283.0 376.5 282.6 373.5 282.6 370.5 282.5 367.5 281.7 367.1 281.5 365.0 278.5 365.2 275.5 366.3 272.5 367.2 269.5 367.0 266.5 365.4 263.5 364.5 262.5 363.0 260.5 361.5 258.7 360.6 257.5 358.5 254.5 358.5 254.5 356.7 251.5 355.5 249.4 355.1 248.5 353.7 245.5 352.5 243.1 352.2 242.5 350.8 239.5 349.5 237.0 349.3 236.5 347.7 233.5 346.5 231.5 345.9 230.5 344.1 227.5 343.5 226.1 342.7 224.5 341.9 221.5 341.6 218.5 341.7 215.5 342.0 212.5 342.6 209.5 343.5 206.7 343.6 206.5 345.3 203.5 346.5 201.8 347.9 200.5 349.5 199.1 351.4 197.5 352.5 196.5 354.5 194.5 355.5 193.6 357.5 191.5 358.5 190.7 361.2 188.5 361.5 188.3 364.5 186.4 365.9 185.5 367.5 184.5 370.5 182.9 371.2 182.5 373.5 181.4 376.5 179.7 376.9 179.5 379.5 177.8 381.7 176.5 382.5 175.9 385.5 174.0 386.5 173.5 388.5 172.4 391.5 171.5 394.5 171.0 396.2 170.5 397.5 170.2 400.5 168.8 402.9 167.5 403.5 167.2 406.5 165.7 409.5 164.7 410.1 164.5 412.5 163.9 415.5 163.3 418.5 163.3 421.5 164.3 421.8 164.5 424.2 167.5 424.5 168.1 425.4 170.5 427.2 173.5 427.5 173.8 429.9 176.5 430.5 177.0 433.4 179.5 433.5 179.6 436.5 180.7 439.5 180.4 441.8 179.5 442.5 179.1 445.5 177.0 446.1 176.5 448.5 173.7 448.7 173.5 450.4 170.5 451.5 168.5 452.0 167.5 453.5 164.5 454.5 162.9 455.3 161.5 457.4 158.5 457.5 158.4 459.7 155.5 460.5 154.4 462.0 152.5 463.5 150.3 464.1 149.5 466.0 146.5 466.5 145.5 467.7 143.5 469.5 140.5 469.5 140.5 472.1 137.5 472.5 137.2 475.5 135.4 477.2 134.5 478.5 134.0 481.5 133.1 484.5 132.0 486.0 131.5 487.5 131.0 490.5 130.1 493.5 129.4 496.5 129.0 499.5 128.7 502.5 128.5 503.5 128.5 505.5 128.4 508.5 128.4 511.5 128.4 513.5 128.5 514.5 128.5 517.5 128.8 520.5 129.1 523.5 129.3 526.5 129.3 529.5 128.9 531.3 128.5 532.5 128.1 535.5 127.2 538.5 126.2 540.8 125.5 M349.4 299.5 349.5 299.4 352.5 298.2 355.5 298.0 358.5 298.5 361.4 299.5 361.5 299.5 364.5 301.5 365.5 302.5 366.6 305.5 365.3 308.5 364.5 309.5 362.7 311.5 361.5 312.5 359.4 314.5 358.5 315.2 355.8 317.5 355.5 317.7 352.6 320.5 352.5 320.6 350.2 323.5 349.5 324.4 347.9 326.5 346.5 328.2 345.2 329.5 343.5 331.2 342.0 332.5 340.5 333.7 337.6 335.5 337.5 335.6 334.5 336.6 331.5 336.8 328.5 335.6 328.5 335.5 327.8 332.5 328.5 330.2 328.7 329.5 330.1 326.5 331.5 323.7 331.6 323.5 333.2 320.5 334.5 318.6 335.2 317.5 337.5 314.5 337.5 314.4 339.7 311.5 340.5 310.4 341.9 308.5 343.5 306.0 343.9 305.5 346.2 302.5 346.5 302.1 349.4 299.5 M177.7 458.5 178.5 458.2 179.3 458.5 181.5 460.5 181.8 461.5 182.3 464.5 182.3 467.5 181.5 470.5 181.5 470.5 178.8 473.5 178.5 473.8 175.5 476.1 174.5 476.5 172.5 477.2 171.0 476.5 169.5 473.5 169.7 470.5 170.4 467.5 171.5 464.5 172.5 462.7 173.4 461.5 175.5 459.5 177.7 458.5 M500.8 149.5 502.5 148.9 505.5 148.7 508.5 149.3 509.4 149.5 511.4 152.5 508.5 155.0 508.0 155.5 505.5 157.2 504.2 158.5 502.7 161.5 502.6 164.5 503.3 167.5 504.4 170.5 505.5 172.4 506.2 173.5 508.5 176.3 508.6 176.5 511.3 179.5 511.5 179.7 514.5 182.5 514.5 182.5 517.5 184.0 520.5 184.5 523.5 185.0 524.3 185.5 525.3 188.5 524.3 191.5 523.5 193.1 522.6 194.5 520.5 197.3 520.3 197.5 517.5 199.7 516.4 200.5 514.5 201.6 511.6 203.5 511.5 203.6 508.5 205.2 506.8 206.5 505.5 207.4 503.2 209.5 502.5 210.2 500.3 212.5 499.5 213.4 497.4 215.5 496.5 216.4 494.1 218.5 493.5 219.1 491.2 221.5 490.5 222.5 489.0 224.5 487.5 227.2 487.3 227.5 484.8 230.5 484.5 230.8 481.8 233.5 481.5 233.7 478.7 236.5 478.5 236.7 475.9 239.5 475.5 240.0 473.3 242.5 472.5 243.5 470.8 245.5 469.5 247.1 468.3 248.5 466.5 250.5 465.6 251.5 463.5 254.1 463.2 254.5 461.1 257.5 460.5 258.7 459.3 260.5 457.8 263.5 457.5 264.3 456.2 266.5 455.1 269.5 454.5 271.1 453.8 272.5 452.4 275.5 451.5 278.0 451.2 278.5 449.8 281.5 448.9 284.5 448.5 285.6 447.0 287.5 445.5 289.8 444.0 290.5 442.5 292.5 441.5 290.5 440.3 287.5 439.5 286.1 436.7 284.5 436.5 284.4 436.2 284.5 433.5 284.9 430.5 285.5 427.5 285.8 424.5 285.4 422.0 284.5 421.5 284.3 418.5 283.2 415.5 282.5 412.5 282.2 409.5 282.2 406.5 282.2 403.5 282.2 400.5 282.2 397.5 282.1 395.3 281.5 394.5 281.1 391.7 278.5 391.5 278.3 388.8 275.5 388.5 275.1 386.6 272.5 385.7 269.5 385.5 266.5 385.5 266.5 385.1 263.5 384.1 260.5 382.5 258.4 381.6 257.5 379.5 256.1 376.8 254.5 376.5 254.3 373.5 252.1 372.9 251.5 370.6 248.5 370.5 248.2 369.9 245.5 369.9 242.5 370.2 239.5 370.5 236.7 370.5 236.5 370.8 233.5 371.2 230.5 372.2 227.5 373.5 225.8 375.5 224.5 376.5 224.0 379.5 223.0 382.5 222.1 384.9 221.5 385.5 221.3 388.5 220.3 391.5 219.2 393.7 218.5 394.5 218.3 397.5 218.0 400.5 217.7 403.5 217.1 406.5 216.1 408.1 215.5 409.5 214.9 412.5 213.7 415.5 212.8 418.5 213.1 421.5 215.3 421.7 215.5 424.5 217.7 425.6 218.5 427.5 219.5 430.5 220.5 433.5 220.7 436.5 220.4 439.5 219.5 441.5 218.5 442.5 218.0 445.5 215.8 445.9 215.5 448.5 213.3 449.4 212.5 451.5 210.6 452.9 209.5 454.5 208.3 457.5 206.5 457.6 206.5 460.5 205.1 463.5 203.9 464.3 203.5 466.5 202.6 469.5 201.1 470.2 200.5 472.5 198.2 473.0 197.5 474.1 194.5 474.7 191.5 475.0 188.5 475.2 185.5 475.4 182.5 475.5 181.3 475.7 179.5 476.0 176.5 476.5 173.5 477.3 170.5 478.5 167.7 478.6 167.5 480.8 164.5 481.5 163.8 483.9 161.5 484.5 161.0 487.5 158.6 487.7 158.5 490.5 156.5 491.9 155.5 493.5 154.3 495.9 152.5 496.5 152.0 499.5 150.1 500.8 149.5" fill="none" stroke="#000" stroke-width="1" shape-rendering="crispEdges"/>
</g>
<path d="M194.5 56V562 M265.5 56V562 M336.5 56V562 M407.5 56V562 M477.5 56V562 M548.5 56V562 M619.5 56V562 M125 529.5H674 M125 445.5H674 M125 360.5H674 M125 275.5H674 M125 191.5H674 M125 106.5H674" stroke="#a8a8a8" stroke-width="1" stroke-dasharray="2 4.6" fill="none"/>
<g clip-path="url(#fr)"><g font-size="11" text-anchor="middle" fill="#000" style="filter:grayscale(1)"><rect x="423.75" y="103.25" width="14.5" height="11.5" fill="#fff"/><text x="431" y="113">14</text><rect x="533.75" y="90.25" width="14.5" height="11.5" fill="#fff"/><text x="541" y="100">14</text><rect x="539" y="100.25" width="23" height="11.5" fill="#fff"/><text x="550.5" y="110">14.5</text><rect x="538.75" y="123.25" width="14.5" height="11.5" fill="#fff"/><text x="546" y="133">15</text><rect x="392.5" y="141.25" width="23" height="11.5" fill="#fff"/><text x="404" y="151">14.5</text><rect x="507.5" y="141.25" width="23" height="11.5" fill="#fff"/><text x="519" y="151">15.5</text><rect x="386.75" y="158.25" width="14.5" height="11.5" fill="#fff"/><text x="394" y="168">15</text><rect x="654.5" y="160.25" width="23" height="11.5" fill="#fff"/><text x="666" y="170">13.5</text><rect x="612.5" y="186.75" width="23" height="11.5" fill="#fff"/><text x="624" y="196.5">13.5</text><rect x="377.5" y="213.85" width="23" height="11.5" fill="#fff"/><text x="389" y="223.6">15.5</text><rect x="319.5" y="228.65" width="23" height="11.5" fill="#fff"/><text x="331" y="238.4">14.5</text><rect x="502.15" y="258.65" width="14.5" height="11.5" fill="#fff"/><text x="509.4" y="268.4">14</text><rect x="554.75" y="257.25" width="14.5" height="11.5" fill="#fff"/><text x="562" y="267">14</text><rect x="245.75" y="273.85" width="14.5" height="11.5" fill="#fff"/><text x="253" y="283.6">14</text><rect x="398.5" y="283.65" width="23" height="11.5" fill="#fff"/><text x="410" y="293.4">15.5</text><rect x="366.15" y="319.85" width="14.5" height="11.5" fill="#fff"/><text x="373.4" y="329.6">14</text><rect x="418.15" y="322.65" width="14.5" height="11.5" fill="#fff"/><text x="425.4" y="332.4">15</text><rect x="403.1" y="334.25" width="23" height="11.5" fill="#fff"/><text x="414.6" y="344">14.5</text><rect x="318.25" y="339.25" width="14.5" height="11.5" fill="#fff"/><text x="325.5" y="349">15</text><rect x="586.15" y="343.75" width="14.5" height="11.5" fill="#fff"/><text x="593.4" y="353.5">14</text><rect x="257" y="365.25" width="23" height="11.5" fill="#fff"/><text x="268.5" y="375">14.5</text><rect x="272.15" y="377.25" width="14.5" height="11.5" fill="#fff"/><text x="279.4" y="387">14</text><rect x="550.5" y="373.85" width="23" height="11.5" fill="#fff"/><text x="562" y="383.6">14.5</text><rect x="213.75" y="377.25" width="14.5" height="11.5" fill="#fff"/><text x="221" y="387">13</text><rect x="408.15" y="391.65" width="14.5" height="11.5" fill="#fff"/><text x="415.4" y="401.4">14</text><rect x="210" y="397.25" width="23" height="11.5" fill="#fff"/><text x="221.5" y="407">13.5</text><rect x="597.5" y="404.85" width="23" height="11.5" fill="#fff"/><text x="609" y="414.6">14.5</text><rect x="319.9" y="408.65" width="23" height="11.5" fill="#fff"/><text x="331.4" y="418.4">14.5</text><rect x="293.5" y="434.85" width="23" height="11.5" fill="#fff"/><text x="305" y="444.6">13.5</text><rect x="497.5" y="443.85" width="23" height="11.5" fill="#fff"/><text x="509" y="453.6">14.5</text><rect x="561" y="444.85" width="23" height="11.5" fill="#fff"/><text x="572.5" y="454.6">14.5</text><rect x="344.75" y="448.65" width="14.5" height="11.5" fill="#fff"/><text x="352" y="458.4">14</text><rect x="465.75" y="457.85" width="14.5" height="11.5" fill="#fff"/><text x="473" y="467.6">14</text><rect x="618.5" y="460.65" width="23" height="11.5" fill="#fff"/><text x="630" y="470.4">14.5</text><rect x="282.5" y="473" width="23" height="11.5" fill="#fff"/><text x="294" y="482.75">14.5</text><rect x="460.25" y="501.65" width="14.5" height="11.5" fill="#fff"/><text x="467.5" y="511.4">14</text><rect x="586.5" y="504.85" width="23" height="11.5" fill="#fff"/><text x="598" y="514.6">14.5</text><rect x="135.75" y="516.85" width="14.5" height="11.5" fill="#fff"/><text x="143" y="526.6">15</text><rect x="151.9" y="520.65" width="23" height="11.5" fill="#fff"/><text x="163.4" y="530.4">14.5</text><rect x="235.5" y="534.25" width="23" height="11.5" fill="#fff"/><text x="247" y="544">13.5</text><rect x="250.75" y="541" width="14.5" height="11.5" fill="#fff"/><text x="258" y="550.75">14</text><rect x="272.9" y="551.85" width="23" height="11.5" fill="#fff"/><text x="284.4" y="561.6">14.5</text><rect x="314.5" y="550.25" width="23" height="11.5" fill="#fff"/><text x="326" y="560">14.5</text></g>
<path d="M125 145 L132 149 L149 152 L163 152 L165 150 L162 146 L171 136 L178 141 L184 143 L191 137 L207 129 L225 121 L239 116 L252 117 L267 121 L280 125 L286 131 L289 138 L289 148 L287 154 M352.5 56 L340 64 L320 79 L300 93 L289 101 L280 107.5 L282 111 L285 115 L290 111 L296 115 L300.5 113.5 L302 125 L301 137.5 L297.5 150 L296 154 L284 155 L285 160 L293.5 166 L289 172.5 L287.5 180 L288 192.5 L285 200 L283 207.5 L281 217.5 L277.5 221 L269 223 L250 224.4 L237.5 224.4 L225 225.6 L215 228 L208.8 232.5 L200 237.5 L194 240 L192.5 245 L187.5 250 L183.8 258 L180 262.5 L177 274 L166 280 L157.5 287.5 L153 300 L152 303 L144 305 L142 312.5 L145 322.5 L147.5 329 L142.5 335 L145.6 341 L147 350 L147.5 360 L143.8 375 L138.8 387.5 L135 394 L135 402.5 L133 411 L136 425 L135.6 430 L138.8 436 L137.5 444 L132.5 451 L125 461 M285 56 L283.8 66 L280 76 L279 90 L281 98 L287.5 99.4 M292 56 L292 69 L296 77 L298 87.5 L300 91 M300 86 L308.8 82.5 L316 76 L310 71 L313 64 L320 62 L328.8 59 L330 56 M190 188.8 L182.5 193.8 L177 201 L177 207.5 L181 213.8 L186 220 L186 227.5 L182.5 232 L173.8 234 L168.8 238.8 L165.6 250 L167.5 252.5 L175 247.5 L181 240 L187.5 241 L190 245 L187.5 251 M190 188.8 L200 191 L206 193 L211 197.5 L205 201 L200.6 207 L202 215.6 L208.8 217.5 L215.6 220 L215 227 M191 233.8 L206 228 L215 227.5 L200 237.5 L194 240 L191 233.8 M165.6 251 L173.8 252 L162.5 261 L160 266 L159 281 L166 275 L175 267.5 L183.8 258 M125 404 L136 403.8" fill="none" stroke="#000" stroke-width="3.5" stroke-linejoin="round" stroke-linecap="round"/></g>
<rect x="124" y="55" width="551" height="508" fill="none" stroke="#000" stroke-width="2"/>
<g font-size="12" fill="#000" style="filter:grayscale(1)"><text x="123.7" y="579.5" text-anchor="middle">28.5</text><path d="M123.5 564v3.5" stroke="#000"/><text x="194.5" y="579.5" text-anchor="middle">29</text><path d="M194.5 564v3.5" stroke="#000"/><text x="265.3" y="579.5" text-anchor="middle">29.5</text><path d="M265.5 564v3.5" stroke="#000"/><text x="336.2" y="579.5" text-anchor="middle">30</text><path d="M336.5 564v3.5" stroke="#000"/><text x="407.0" y="579.5" text-anchor="middle">30.5</text><path d="M407.5 564v3.5" stroke="#000"/><text x="477.8" y="579.5" text-anchor="middle">31</text><path d="M477.5 564v3.5" stroke="#000"/><text x="548.7" y="579.5" text-anchor="middle">31.5</text><path d="M548.5 564v3.5" stroke="#000"/><text x="619.5" y="579.5" text-anchor="middle">32</text><path d="M619.5 564v3.5" stroke="#000"/><text x="117.5" y="534.1" text-anchor="end">43</text><path d="M119.5 529.5h3.5" stroke="#000"/><text x="117.5" y="449.5" text-anchor="end">43.5</text><path d="M119.5 445.5h3.5" stroke="#000"/><text x="117.5" y="364.9" text-anchor="end">44</text><path d="M119.5 360.5h3.5" stroke="#000"/><text x="117.5" y="280.2" text-anchor="end">44.5</text><path d="M119.5 275.5h3.5" stroke="#000"/><text x="117.5" y="195.6" text-anchor="end">45</text><path d="M119.5 191.5h3.5" stroke="#000"/><text x="117.5" y="110.9" text-anchor="end">45.5</text><path d="M119.5 106.5h3.5" stroke="#000"/></g>
<rect x="708" y="548.07" width="16" height="8.22" fill="#000087"/><rect x="708" y="540.35" width="16" height="8.22" fill="#000097"/><rect x="708" y="532.62" width="16" height="8.22" fill="#0000a7"/><rect x="708" y="524.90" width="16" height="8.22" fill="#0000b7"/><rect x="708" y="517.17" width="16" height="8.22" fill="#0000c7"/><rect x="708" y="509.45" width="16" height="8.22" fill="#0000d7"/><rect x="708" y="501.72" width="16" height="8.22" fill="#0000e7"/><rect x="708" y="494.00" width="16" height="8.22" fill="#0000f7"/><rect x="708" y="486.27" width="16" height="8.22" fill="#0008ff"/><rect x="708" y="478.55" width="16" height="8.22" fill="#0018ff"/><rect x="708" y="470.82" width="16" height="8.22" fill="#0028ff"/><rect x="708" y="463.10" width="16" height="8.22" fill="#0038ff"/><rect x="708" y="455.37" width="16" height="8.22" fill="#0048ff"/><rect x="708" y="447.65" width="16" height="8.22" fill="#0058ff"/><rect x="708" y="439.92" width="16" height="8.22" fill="#0068ff"/><rect x="708" y="432.20" width="16" height="8.22" fill="#0078ff"/><rect x="708" y="424.47" width="16" height="8.22" fill="#0087ff"/><rect x="708" y="416.75" width="16" height="8.22" fill="#0097ff"/><rect x="708" y="409.02" width="16" height="8.22" fill="#00a7ff"/><rect x="708" y="401.30" width="16" height="8.22" fill="#00b7ff"/><rect x="708" y="393.57" width="16" height="8.22" fill="#00c7ff"/><rect x="708" y="385.85" width="16" height="8.22" fill="#00d7ff"/><rect x="708" y="378.12" width="16" height="8.22" fill="#00e7ff"/><rect x="708" y="370.40" width="16" height="8.22" fill="#00f7ff"/><rect x="708" y="362.67" width="16" height="8.22" fill="#08fff7"/><rect x="708" y="354.95" width="16" height="8.22" fill="#18ffe7"/><rect x="708" y="347.22" width="16" height="8.22" fill="#28ffd7"/><rect x="708" y="339.50" width="16" height="8.22" fill="#38ffc7"/><rect x="708" y="331.77" width="16" height="8.22" fill="#48ffb7"/><rect x="708" y="324.05" width="16" height="8.22" fill="#58ffa7"/><rect x="708" y="316.32" width="16" height="8.22" fill="#68ff97"/><rect x="708" y="308.60" width="16" height="8.22" fill="#78ff87"/><rect x="708" y="300.88" width="16" height="8.22" fill="#87ff78"/><rect x="708" y="293.15" width="16" height="8.22" fill="#97ff68"/><rect x="708" y="285.42" width="16" height="8.22" fill="#a7ff58"/><rect x="708" y="277.70" width="16" height="8.22" fill="#b7ff48"/><rect x="708" y="269.97" width="16" height="8.22" fill="#c7ff38"/><rect x="708" y="262.25" width="16" height="8.22" fill="#d7ff28"/><rect x="708" y="254.52" width="16" height="8.22" fill="#e7ff18"/><rect x="708" y="246.80" width="16" height="8.22" fill="#f7ff08"/><rect x="708" y="239.07" width="16" height="8.22" fill="#fff700"/><rect x="708" y="231.35" width="16" height="8.22" fill="#ffe700"/><rect x="708" y="223.62" width="16" height="8.22" fill="#ffd700"/><rect x="708" y="215.90" width="16" height="8.22" fill="#ffc700"/><rect x="708" y="208.17" width="16" height="8.22" fill="#ffb700"/><rect x="708" y="200.45" width="16" height="8.22" fill="#ffa700"/><rect x="708" y="192.72" width="16" height="8.22" fill="#ff9700"/><rect x="708" y="185.00" width="16" height="8.22" fill="#ff8700"/><rect x="708" y="177.27" width="16" height="8.22" fill="#ff7800"/><rect x="708" y="169.55" width="16" height="8.22" fill="#ff6800"/><rect x="708" y="161.82" width="16" height="8.22" fill="#ff5800"/><rect x="708" y="154.10" width="16" height="8.22" fill="#ff4800"/><rect x="708" y="146.38" width="16" height="8.22" fill="#ff3800"/><rect x="708" y="138.65" width="16" height="8.22" fill="#ff2800"/><rect x="708" y="130.92" width="16" height="8.22" fill="#ff1800"/><rect x="708" y="123.20" width="16" height="8.22" fill="#ff0800"/><rect x="708" y="115.47" width="16" height="8.22" fill="#f70000"/><rect x="708" y="107.75" width="16" height="8.22" fill="#e70000"/><rect x="708" y="100.02" width="16" height="8.22" fill="#d70000"/><rect x="708" y="92.30" width="16" height="8.22" fill="#c70000"/><rect x="708" y="84.57" width="16" height="8.22" fill="#b70000"/><rect x="708" y="76.85" width="16" height="8.22" fill="#a70000"/><rect x="708" y="69.12" width="16" height="8.22" fill="#970000"/><rect x="708" y="61.40" width="16" height="8.22" fill="#870000"/><g font-size="14" fill="#000" style="filter:grayscale(1)"><text x="734" y="74">15.7</text><text x="734" y="191">14.2</text><text x="734" y="312">12.5</text><text x="734" y="434.6">10.9</text><text x="734" y="556">9.31</text></g>
<g font-size="24" fill="#000" stroke="#fff" stroke-width="0.25" style="filter:grayscale(1)"><text x="23.2" y="42" textLength="139.5" lengthAdjust="spacingAndGlyphs">Temperature</text><text x="177.5" y="42" textLength="112" lengthAdjust="spacingAndGlyphs">(Celsius).</text><text x="297" y="42" textLength="49" lengthAdjust="spacingAndGlyphs">Date</text><text x="362.5" y="42" textLength="139.5" lengthAdjust="spacingAndGlyphs">2019.05.07.</text><text x="513.5" y="42" textLength="50" lengthAdjust="spacingAndGlyphs">Time</text><text x="579" y="42" textLength="137.5" lengthAdjust="spacingAndGlyphs">00(h):00(m)</text><text x="733.5" y="42" textLength="41.5" lengthAdjust="spacingAndGlyphs">GMT</text></g>
<g font-size="20" fill="#000" stroke="#fff" stroke-width="0.7" style="filter:grayscale(1)"><text x="146.5" y="110.4" textLength="13" lengthAdjust="spacingAndGlyphs">Z</text><text x="176" y="110.4" textLength="15" lengthAdjust="spacingAndGlyphs">=</text><text x="206" y="110.4" textLength="29" lengthAdjust="spacingAndGlyphs">2.5</text><text x="256.5" y="110.4" textLength="19" lengthAdjust="spacingAndGlyphs">m</text></g>
<g font-size="20" fill="#000" style="filter:grayscale(1)"><text x="323.5" y="606" textLength="86" lengthAdjust="spacingAndGlyphs">Langitude</text><text x="422" y="606" textLength="54.5" lengthAdjust="spacingAndGlyphs">(East)</text>
<text transform="translate(81.5,383.3) rotate(-90)" textLength="72" lengthAdjust="spacingAndGlyphs">Latitude</text><text transform="translate(81.5,300.3) rotate(-90)" textLength="63" lengthAdjust="spacingAndGlyphs">(North)</text></g>
</svg>
</body></html>
